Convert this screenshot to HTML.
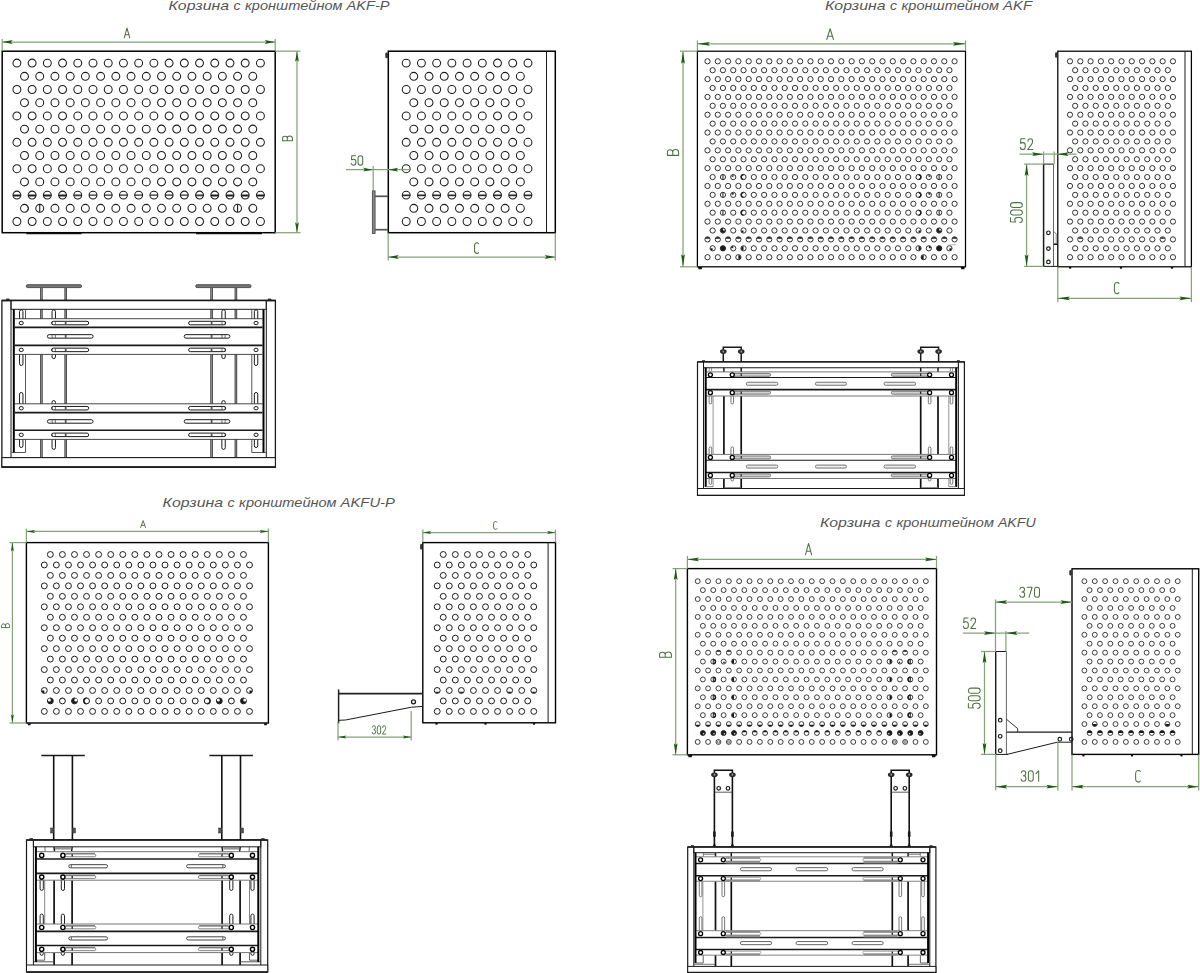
<!DOCTYPE html>
<html><head><meta charset="utf-8"><title>AKF</title>
<style>html,body{margin:0;padding:0;background:#fff}body{width:1200px;height:973px;overflow:hidden;font-family:"Liberation Sans",sans-serif}svg{display:block}</style>
</head><body>
<svg width="1200" height="973" viewBox="0 0 1200 973">
<rect width="1200" height="973" fill="#fff"/>
<text x="168.5" y="10" font-family="Liberation Sans, sans-serif" font-style="italic" font-size="13.3" fill="#555" textLength="60.5" lengthAdjust="spacingAndGlyphs">Корзина</text>
<text x="233.5" y="10" font-family="Liberation Sans, sans-serif" font-style="italic" font-size="13.3" fill="#555" textLength="7" lengthAdjust="spacingAndGlyphs">с</text>
<text x="245" y="10" font-family="Liberation Sans, sans-serif" font-style="italic" font-size="13.3" fill="#555" textLength="97.5" lengthAdjust="spacingAndGlyphs">кронштейном</text>
<text x="346.5" y="10" font-family="Liberation Sans, sans-serif" font-style="italic" font-size="13.3" fill="#555" textLength="43" lengthAdjust="spacingAndGlyphs">AKF-P</text>
<text x="825" y="10" font-family="Liberation Sans, sans-serif" font-style="italic" font-size="13.3" fill="#555" textLength="60.5" lengthAdjust="spacingAndGlyphs">Корзина</text>
<text x="890" y="10" font-family="Liberation Sans, sans-serif" font-style="italic" font-size="13.3" fill="#555" textLength="7" lengthAdjust="spacingAndGlyphs">с</text>
<text x="901.5" y="10" font-family="Liberation Sans, sans-serif" font-style="italic" font-size="13.3" fill="#555" textLength="97.5" lengthAdjust="spacingAndGlyphs">кронштейном</text>
<text x="1003" y="10" font-family="Liberation Sans, sans-serif" font-style="italic" font-size="13.3" fill="#555" textLength="29" lengthAdjust="spacingAndGlyphs">AKF</text>
<text x="162.6" y="506.9" font-family="Liberation Sans, sans-serif" font-style="italic" font-size="13.3" fill="#555" textLength="60.5" lengthAdjust="spacingAndGlyphs">Корзина</text>
<text x="227.6" y="506.9" font-family="Liberation Sans, sans-serif" font-style="italic" font-size="13.3" fill="#555" textLength="7" lengthAdjust="spacingAndGlyphs">с</text>
<text x="239.1" y="506.9" font-family="Liberation Sans, sans-serif" font-style="italic" font-size="13.3" fill="#555" textLength="97.5" lengthAdjust="spacingAndGlyphs">кронштейном</text>
<text x="340.6" y="506.9" font-family="Liberation Sans, sans-serif" font-style="italic" font-size="13.3" fill="#555" textLength="54.3" lengthAdjust="spacingAndGlyphs">AKFU-P</text>
<text x="819.9" y="527.3" font-family="Liberation Sans, sans-serif" font-style="italic" font-size="13.3" fill="#555" textLength="60.5" lengthAdjust="spacingAndGlyphs">Корзина</text>
<text x="884.9" y="527.3" font-family="Liberation Sans, sans-serif" font-style="italic" font-size="13.3" fill="#555" textLength="7" lengthAdjust="spacingAndGlyphs">с</text>
<text x="896.4" y="527.3" font-family="Liberation Sans, sans-serif" font-style="italic" font-size="13.3" fill="#555" textLength="97.5" lengthAdjust="spacingAndGlyphs">кронштейном</text>
<text x="997.9" y="527.3" font-family="Liberation Sans, sans-serif" font-style="italic" font-size="13.3" fill="#555" textLength="37.9" lengthAdjust="spacingAndGlyphs">AKFU</text>
<rect x="2.2" y="51.2" width="273" height="181.5" rx="0" stroke="#000" stroke-width="1.5" fill="none"/>
<path d="M12.95,63.1a3.95,3.95 0 1,0 7.9,0a3.95,3.95 0 1,0 -7.9,0M28.17,63.1a3.95,3.95 0 1,0 7.9,0a3.95,3.95 0 1,0 -7.9,0M43.39,63.1a3.95,3.95 0 1,0 7.9,0a3.95,3.95 0 1,0 -7.9,0M58.61,63.1a3.95,3.95 0 1,0 7.9,0a3.95,3.95 0 1,0 -7.9,0M73.83,63.1a3.95,3.95 0 1,0 7.9,0a3.95,3.95 0 1,0 -7.9,0M89.05,63.1a3.95,3.95 0 1,0 7.9,0a3.95,3.95 0 1,0 -7.9,0M104.27,63.1a3.95,3.95 0 1,0 7.9,0a3.95,3.95 0 1,0 -7.9,0M119.49,63.1a3.95,3.95 0 1,0 7.9,0a3.95,3.95 0 1,0 -7.9,0M134.71,63.1a3.95,3.95 0 1,0 7.9,0a3.95,3.95 0 1,0 -7.9,0M149.93,63.1a3.95,3.95 0 1,0 7.9,0a3.95,3.95 0 1,0 -7.9,0M165.15,63.1a3.95,3.95 0 1,0 7.9,0a3.95,3.95 0 1,0 -7.9,0M180.37,63.1a3.95,3.95 0 1,0 7.9,0a3.95,3.95 0 1,0 -7.9,0M195.59,63.1a3.95,3.95 0 1,0 7.9,0a3.95,3.95 0 1,0 -7.9,0M210.81,63.1a3.95,3.95 0 1,0 7.9,0a3.95,3.95 0 1,0 -7.9,0M226.03,63.1a3.95,3.95 0 1,0 7.9,0a3.95,3.95 0 1,0 -7.9,0M241.25,63.1a3.95,3.95 0 1,0 7.9,0a3.95,3.95 0 1,0 -7.9,0M256.47,63.1a3.95,3.95 0 1,0 7.9,0a3.95,3.95 0 1,0 -7.9,0M20.56,76.3a3.95,3.95 0 1,0 7.9,0a3.95,3.95 0 1,0 -7.9,0M35.78,76.3a3.95,3.95 0 1,0 7.9,0a3.95,3.95 0 1,0 -7.9,0M51,76.3a3.95,3.95 0 1,0 7.9,0a3.95,3.95 0 1,0 -7.9,0M66.22,76.3a3.95,3.95 0 1,0 7.9,0a3.95,3.95 0 1,0 -7.9,0M81.44,76.3a3.95,3.95 0 1,0 7.9,0a3.95,3.95 0 1,0 -7.9,0M96.66,76.3a3.95,3.95 0 1,0 7.9,0a3.95,3.95 0 1,0 -7.9,0M111.88,76.3a3.95,3.95 0 1,0 7.9,0a3.95,3.95 0 1,0 -7.9,0M127.1,76.3a3.95,3.95 0 1,0 7.9,0a3.95,3.95 0 1,0 -7.9,0M142.32,76.3a3.95,3.95 0 1,0 7.9,0a3.95,3.95 0 1,0 -7.9,0M157.54,76.3a3.95,3.95 0 1,0 7.9,0a3.95,3.95 0 1,0 -7.9,0M172.76,76.3a3.95,3.95 0 1,0 7.9,0a3.95,3.95 0 1,0 -7.9,0M187.98,76.3a3.95,3.95 0 1,0 7.9,0a3.95,3.95 0 1,0 -7.9,0M203.2,76.3a3.95,3.95 0 1,0 7.9,0a3.95,3.95 0 1,0 -7.9,0M218.42,76.3a3.95,3.95 0 1,0 7.9,0a3.95,3.95 0 1,0 -7.9,0M233.64,76.3a3.95,3.95 0 1,0 7.9,0a3.95,3.95 0 1,0 -7.9,0M248.86,76.3a3.95,3.95 0 1,0 7.9,0a3.95,3.95 0 1,0 -7.9,0M12.95,89.5a3.95,3.95 0 1,0 7.9,0a3.95,3.95 0 1,0 -7.9,0M28.17,89.5a3.95,3.95 0 1,0 7.9,0a3.95,3.95 0 1,0 -7.9,0M43.39,89.5a3.95,3.95 0 1,0 7.9,0a3.95,3.95 0 1,0 -7.9,0M58.61,89.5a3.95,3.95 0 1,0 7.9,0a3.95,3.95 0 1,0 -7.9,0M73.83,89.5a3.95,3.95 0 1,0 7.9,0a3.95,3.95 0 1,0 -7.9,0M89.05,89.5a3.95,3.95 0 1,0 7.9,0a3.95,3.95 0 1,0 -7.9,0M104.27,89.5a3.95,3.95 0 1,0 7.9,0a3.95,3.95 0 1,0 -7.9,0M119.49,89.5a3.95,3.95 0 1,0 7.9,0a3.95,3.95 0 1,0 -7.9,0M134.71,89.5a3.95,3.95 0 1,0 7.9,0a3.95,3.95 0 1,0 -7.9,0M149.93,89.5a3.95,3.95 0 1,0 7.9,0a3.95,3.95 0 1,0 -7.9,0M165.15,89.5a3.95,3.95 0 1,0 7.9,0a3.95,3.95 0 1,0 -7.9,0M180.37,89.5a3.95,3.95 0 1,0 7.9,0a3.95,3.95 0 1,0 -7.9,0M195.59,89.5a3.95,3.95 0 1,0 7.9,0a3.95,3.95 0 1,0 -7.9,0M210.81,89.5a3.95,3.95 0 1,0 7.9,0a3.95,3.95 0 1,0 -7.9,0M226.03,89.5a3.95,3.95 0 1,0 7.9,0a3.95,3.95 0 1,0 -7.9,0M241.25,89.5a3.95,3.95 0 1,0 7.9,0a3.95,3.95 0 1,0 -7.9,0M256.47,89.5a3.95,3.95 0 1,0 7.9,0a3.95,3.95 0 1,0 -7.9,0M20.56,102.7a3.95,3.95 0 1,0 7.9,0a3.95,3.95 0 1,0 -7.9,0M35.78,102.7a3.95,3.95 0 1,0 7.9,0a3.95,3.95 0 1,0 -7.9,0M51,102.7a3.95,3.95 0 1,0 7.9,0a3.95,3.95 0 1,0 -7.9,0M66.22,102.7a3.95,3.95 0 1,0 7.9,0a3.95,3.95 0 1,0 -7.9,0M81.44,102.7a3.95,3.95 0 1,0 7.9,0a3.95,3.95 0 1,0 -7.9,0M96.66,102.7a3.95,3.95 0 1,0 7.9,0a3.95,3.95 0 1,0 -7.9,0M111.88,102.7a3.95,3.95 0 1,0 7.9,0a3.95,3.95 0 1,0 -7.9,0M127.1,102.7a3.95,3.95 0 1,0 7.9,0a3.95,3.95 0 1,0 -7.9,0M142.32,102.7a3.95,3.95 0 1,0 7.9,0a3.95,3.95 0 1,0 -7.9,0M157.54,102.7a3.95,3.95 0 1,0 7.9,0a3.95,3.95 0 1,0 -7.9,0M172.76,102.7a3.95,3.95 0 1,0 7.9,0a3.95,3.95 0 1,0 -7.9,0M187.98,102.7a3.95,3.95 0 1,0 7.9,0a3.95,3.95 0 1,0 -7.9,0M203.2,102.7a3.95,3.95 0 1,0 7.9,0a3.95,3.95 0 1,0 -7.9,0M218.42,102.7a3.95,3.95 0 1,0 7.9,0a3.95,3.95 0 1,0 -7.9,0M233.64,102.7a3.95,3.95 0 1,0 7.9,0a3.95,3.95 0 1,0 -7.9,0M248.86,102.7a3.95,3.95 0 1,0 7.9,0a3.95,3.95 0 1,0 -7.9,0M12.95,115.9a3.95,3.95 0 1,0 7.9,0a3.95,3.95 0 1,0 -7.9,0M28.17,115.9a3.95,3.95 0 1,0 7.9,0a3.95,3.95 0 1,0 -7.9,0M43.39,115.9a3.95,3.95 0 1,0 7.9,0a3.95,3.95 0 1,0 -7.9,0M58.61,115.9a3.95,3.95 0 1,0 7.9,0a3.95,3.95 0 1,0 -7.9,0M73.83,115.9a3.95,3.95 0 1,0 7.9,0a3.95,3.95 0 1,0 -7.9,0M89.05,115.9a3.95,3.95 0 1,0 7.9,0a3.95,3.95 0 1,0 -7.9,0M104.27,115.9a3.95,3.95 0 1,0 7.9,0a3.95,3.95 0 1,0 -7.9,0M119.49,115.9a3.95,3.95 0 1,0 7.9,0a3.95,3.95 0 1,0 -7.9,0M134.71,115.9a3.95,3.95 0 1,0 7.9,0a3.95,3.95 0 1,0 -7.9,0M149.93,115.9a3.95,3.95 0 1,0 7.9,0a3.95,3.95 0 1,0 -7.9,0M165.15,115.9a3.95,3.95 0 1,0 7.9,0a3.95,3.95 0 1,0 -7.9,0M180.37,115.9a3.95,3.95 0 1,0 7.9,0a3.95,3.95 0 1,0 -7.9,0M195.59,115.9a3.95,3.95 0 1,0 7.9,0a3.95,3.95 0 1,0 -7.9,0M210.81,115.9a3.95,3.95 0 1,0 7.9,0a3.95,3.95 0 1,0 -7.9,0M226.03,115.9a3.95,3.95 0 1,0 7.9,0a3.95,3.95 0 1,0 -7.9,0M241.25,115.9a3.95,3.95 0 1,0 7.9,0a3.95,3.95 0 1,0 -7.9,0M256.47,115.9a3.95,3.95 0 1,0 7.9,0a3.95,3.95 0 1,0 -7.9,0M20.56,129.1a3.95,3.95 0 1,0 7.9,0a3.95,3.95 0 1,0 -7.9,0M35.78,129.1a3.95,3.95 0 1,0 7.9,0a3.95,3.95 0 1,0 -7.9,0M51,129.1a3.95,3.95 0 1,0 7.9,0a3.95,3.95 0 1,0 -7.9,0M66.22,129.1a3.95,3.95 0 1,0 7.9,0a3.95,3.95 0 1,0 -7.9,0M81.44,129.1a3.95,3.95 0 1,0 7.9,0a3.95,3.95 0 1,0 -7.9,0M96.66,129.1a3.95,3.95 0 1,0 7.9,0a3.95,3.95 0 1,0 -7.9,0M111.88,129.1a3.95,3.95 0 1,0 7.9,0a3.95,3.95 0 1,0 -7.9,0M127.1,129.1a3.95,3.95 0 1,0 7.9,0a3.95,3.95 0 1,0 -7.9,0M142.32,129.1a3.95,3.95 0 1,0 7.9,0a3.95,3.95 0 1,0 -7.9,0M157.54,129.1a3.95,3.95 0 1,0 7.9,0a3.95,3.95 0 1,0 -7.9,0M172.76,129.1a3.95,3.95 0 1,0 7.9,0a3.95,3.95 0 1,0 -7.9,0M187.98,129.1a3.95,3.95 0 1,0 7.9,0a3.95,3.95 0 1,0 -7.9,0M203.2,129.1a3.95,3.95 0 1,0 7.9,0a3.95,3.95 0 1,0 -7.9,0M218.42,129.1a3.95,3.95 0 1,0 7.9,0a3.95,3.95 0 1,0 -7.9,0M233.64,129.1a3.95,3.95 0 1,0 7.9,0a3.95,3.95 0 1,0 -7.9,0M248.86,129.1a3.95,3.95 0 1,0 7.9,0a3.95,3.95 0 1,0 -7.9,0M12.95,142.3a3.95,3.95 0 1,0 7.9,0a3.95,3.95 0 1,0 -7.9,0M28.17,142.3a3.95,3.95 0 1,0 7.9,0a3.95,3.95 0 1,0 -7.9,0M43.39,142.3a3.95,3.95 0 1,0 7.9,0a3.95,3.95 0 1,0 -7.9,0M58.61,142.3a3.95,3.95 0 1,0 7.9,0a3.95,3.95 0 1,0 -7.9,0M73.83,142.3a3.95,3.95 0 1,0 7.9,0a3.95,3.95 0 1,0 -7.9,0M89.05,142.3a3.95,3.95 0 1,0 7.9,0a3.95,3.95 0 1,0 -7.9,0M104.27,142.3a3.95,3.95 0 1,0 7.9,0a3.95,3.95 0 1,0 -7.9,0M119.49,142.3a3.95,3.95 0 1,0 7.9,0a3.95,3.95 0 1,0 -7.9,0M134.71,142.3a3.95,3.95 0 1,0 7.9,0a3.95,3.95 0 1,0 -7.9,0M149.93,142.3a3.95,3.95 0 1,0 7.9,0a3.95,3.95 0 1,0 -7.9,0M165.15,142.3a3.95,3.95 0 1,0 7.9,0a3.95,3.95 0 1,0 -7.9,0M180.37,142.3a3.95,3.95 0 1,0 7.9,0a3.95,3.95 0 1,0 -7.9,0M195.59,142.3a3.95,3.95 0 1,0 7.9,0a3.95,3.95 0 1,0 -7.9,0M210.81,142.3a3.95,3.95 0 1,0 7.9,0a3.95,3.95 0 1,0 -7.9,0M226.03,142.3a3.95,3.95 0 1,0 7.9,0a3.95,3.95 0 1,0 -7.9,0M241.25,142.3a3.95,3.95 0 1,0 7.9,0a3.95,3.95 0 1,0 -7.9,0M256.47,142.3a3.95,3.95 0 1,0 7.9,0a3.95,3.95 0 1,0 -7.9,0M20.56,155.5a3.95,3.95 0 1,0 7.9,0a3.95,3.95 0 1,0 -7.9,0M35.78,155.5a3.95,3.95 0 1,0 7.9,0a3.95,3.95 0 1,0 -7.9,0M51,155.5a3.95,3.95 0 1,0 7.9,0a3.95,3.95 0 1,0 -7.9,0M66.22,155.5a3.95,3.95 0 1,0 7.9,0a3.95,3.95 0 1,0 -7.9,0M81.44,155.5a3.95,3.95 0 1,0 7.9,0a3.95,3.95 0 1,0 -7.9,0M96.66,155.5a3.95,3.95 0 1,0 7.9,0a3.95,3.95 0 1,0 -7.9,0M111.88,155.5a3.95,3.95 0 1,0 7.9,0a3.95,3.95 0 1,0 -7.9,0M127.1,155.5a3.95,3.95 0 1,0 7.9,0a3.95,3.95 0 1,0 -7.9,0M142.32,155.5a3.95,3.95 0 1,0 7.9,0a3.95,3.95 0 1,0 -7.9,0M157.54,155.5a3.95,3.95 0 1,0 7.9,0a3.95,3.95 0 1,0 -7.9,0M172.76,155.5a3.95,3.95 0 1,0 7.9,0a3.95,3.95 0 1,0 -7.9,0M187.98,155.5a3.95,3.95 0 1,0 7.9,0a3.95,3.95 0 1,0 -7.9,0M203.2,155.5a3.95,3.95 0 1,0 7.9,0a3.95,3.95 0 1,0 -7.9,0M218.42,155.5a3.95,3.95 0 1,0 7.9,0a3.95,3.95 0 1,0 -7.9,0M233.64,155.5a3.95,3.95 0 1,0 7.9,0a3.95,3.95 0 1,0 -7.9,0M248.86,155.5a3.95,3.95 0 1,0 7.9,0a3.95,3.95 0 1,0 -7.9,0M12.95,168.7a3.95,3.95 0 1,0 7.9,0a3.95,3.95 0 1,0 -7.9,0M28.17,168.7a3.95,3.95 0 1,0 7.9,0a3.95,3.95 0 1,0 -7.9,0M43.39,168.7a3.95,3.95 0 1,0 7.9,0a3.95,3.95 0 1,0 -7.9,0M58.61,168.7a3.95,3.95 0 1,0 7.9,0a3.95,3.95 0 1,0 -7.9,0M73.83,168.7a3.95,3.95 0 1,0 7.9,0a3.95,3.95 0 1,0 -7.9,0M89.05,168.7a3.95,3.95 0 1,0 7.9,0a3.95,3.95 0 1,0 -7.9,0M104.27,168.7a3.95,3.95 0 1,0 7.9,0a3.95,3.95 0 1,0 -7.9,0M119.49,168.7a3.95,3.95 0 1,0 7.9,0a3.95,3.95 0 1,0 -7.9,0M134.71,168.7a3.95,3.95 0 1,0 7.9,0a3.95,3.95 0 1,0 -7.9,0M149.93,168.7a3.95,3.95 0 1,0 7.9,0a3.95,3.95 0 1,0 -7.9,0M165.15,168.7a3.95,3.95 0 1,0 7.9,0a3.95,3.95 0 1,0 -7.9,0M180.37,168.7a3.95,3.95 0 1,0 7.9,0a3.95,3.95 0 1,0 -7.9,0M195.59,168.7a3.95,3.95 0 1,0 7.9,0a3.95,3.95 0 1,0 -7.9,0M210.81,168.7a3.95,3.95 0 1,0 7.9,0a3.95,3.95 0 1,0 -7.9,0M226.03,168.7a3.95,3.95 0 1,0 7.9,0a3.95,3.95 0 1,0 -7.9,0M241.25,168.7a3.95,3.95 0 1,0 7.9,0a3.95,3.95 0 1,0 -7.9,0M256.47,168.7a3.95,3.95 0 1,0 7.9,0a3.95,3.95 0 1,0 -7.9,0M20.56,181.9a3.95,3.95 0 1,0 7.9,0a3.95,3.95 0 1,0 -7.9,0M35.78,181.9a3.95,3.95 0 1,0 7.9,0a3.95,3.95 0 1,0 -7.9,0M51,181.9a3.95,3.95 0 1,0 7.9,0a3.95,3.95 0 1,0 -7.9,0M66.22,181.9a3.95,3.95 0 1,0 7.9,0a3.95,3.95 0 1,0 -7.9,0M81.44,181.9a3.95,3.95 0 1,0 7.9,0a3.95,3.95 0 1,0 -7.9,0M96.66,181.9a3.95,3.95 0 1,0 7.9,0a3.95,3.95 0 1,0 -7.9,0M111.88,181.9a3.95,3.95 0 1,0 7.9,0a3.95,3.95 0 1,0 -7.9,0M127.1,181.9a3.95,3.95 0 1,0 7.9,0a3.95,3.95 0 1,0 -7.9,0M142.32,181.9a3.95,3.95 0 1,0 7.9,0a3.95,3.95 0 1,0 -7.9,0M157.54,181.9a3.95,3.95 0 1,0 7.9,0a3.95,3.95 0 1,0 -7.9,0M172.76,181.9a3.95,3.95 0 1,0 7.9,0a3.95,3.95 0 1,0 -7.9,0M187.98,181.9a3.95,3.95 0 1,0 7.9,0a3.95,3.95 0 1,0 -7.9,0M203.2,181.9a3.95,3.95 0 1,0 7.9,0a3.95,3.95 0 1,0 -7.9,0M218.42,181.9a3.95,3.95 0 1,0 7.9,0a3.95,3.95 0 1,0 -7.9,0M233.64,181.9a3.95,3.95 0 1,0 7.9,0a3.95,3.95 0 1,0 -7.9,0M248.86,181.9a3.95,3.95 0 1,0 7.9,0a3.95,3.95 0 1,0 -7.9,0M12.95,195.1a3.95,3.95 0 1,0 7.9,0a3.95,3.95 0 1,0 -7.9,0M28.17,195.1a3.95,3.95 0 1,0 7.9,0a3.95,3.95 0 1,0 -7.9,0M43.39,195.1a3.95,3.95 0 1,0 7.9,0a3.95,3.95 0 1,0 -7.9,0M58.61,195.1a3.95,3.95 0 1,0 7.9,0a3.95,3.95 0 1,0 -7.9,0M73.83,195.1a3.95,3.95 0 1,0 7.9,0a3.95,3.95 0 1,0 -7.9,0M89.05,195.1a3.95,3.95 0 1,0 7.9,0a3.95,3.95 0 1,0 -7.9,0M104.27,195.1a3.95,3.95 0 1,0 7.9,0a3.95,3.95 0 1,0 -7.9,0M119.49,195.1a3.95,3.95 0 1,0 7.9,0a3.95,3.95 0 1,0 -7.9,0M134.71,195.1a3.95,3.95 0 1,0 7.9,0a3.95,3.95 0 1,0 -7.9,0M149.93,195.1a3.95,3.95 0 1,0 7.9,0a3.95,3.95 0 1,0 -7.9,0M165.15,195.1a3.95,3.95 0 1,0 7.9,0a3.95,3.95 0 1,0 -7.9,0M180.37,195.1a3.95,3.95 0 1,0 7.9,0a3.95,3.95 0 1,0 -7.9,0M195.59,195.1a3.95,3.95 0 1,0 7.9,0a3.95,3.95 0 1,0 -7.9,0M210.81,195.1a3.95,3.95 0 1,0 7.9,0a3.95,3.95 0 1,0 -7.9,0M226.03,195.1a3.95,3.95 0 1,0 7.9,0a3.95,3.95 0 1,0 -7.9,0M241.25,195.1a3.95,3.95 0 1,0 7.9,0a3.95,3.95 0 1,0 -7.9,0M256.47,195.1a3.95,3.95 0 1,0 7.9,0a3.95,3.95 0 1,0 -7.9,0M20.56,208.3a3.95,3.95 0 1,0 7.9,0a3.95,3.95 0 1,0 -7.9,0M35.78,208.3a3.95,3.95 0 1,0 7.9,0a3.95,3.95 0 1,0 -7.9,0M51,208.3a3.95,3.95 0 1,0 7.9,0a3.95,3.95 0 1,0 -7.9,0M66.22,208.3a3.95,3.95 0 1,0 7.9,0a3.95,3.95 0 1,0 -7.9,0M81.44,208.3a3.95,3.95 0 1,0 7.9,0a3.95,3.95 0 1,0 -7.9,0M96.66,208.3a3.95,3.95 0 1,0 7.9,0a3.95,3.95 0 1,0 -7.9,0M111.88,208.3a3.95,3.95 0 1,0 7.9,0a3.95,3.95 0 1,0 -7.9,0M127.1,208.3a3.95,3.95 0 1,0 7.9,0a3.95,3.95 0 1,0 -7.9,0M142.32,208.3a3.95,3.95 0 1,0 7.9,0a3.95,3.95 0 1,0 -7.9,0M157.54,208.3a3.95,3.95 0 1,0 7.9,0a3.95,3.95 0 1,0 -7.9,0M172.76,208.3a3.95,3.95 0 1,0 7.9,0a3.95,3.95 0 1,0 -7.9,0M187.98,208.3a3.95,3.95 0 1,0 7.9,0a3.95,3.95 0 1,0 -7.9,0M203.2,208.3a3.95,3.95 0 1,0 7.9,0a3.95,3.95 0 1,0 -7.9,0M218.42,208.3a3.95,3.95 0 1,0 7.9,0a3.95,3.95 0 1,0 -7.9,0M233.64,208.3a3.95,3.95 0 1,0 7.9,0a3.95,3.95 0 1,0 -7.9,0M248.86,208.3a3.95,3.95 0 1,0 7.9,0a3.95,3.95 0 1,0 -7.9,0M12.95,221.5a3.95,3.95 0 1,0 7.9,0a3.95,3.95 0 1,0 -7.9,0M28.17,221.5a3.95,3.95 0 1,0 7.9,0a3.95,3.95 0 1,0 -7.9,0M43.39,221.5a3.95,3.95 0 1,0 7.9,0a3.95,3.95 0 1,0 -7.9,0M58.61,221.5a3.95,3.95 0 1,0 7.9,0a3.95,3.95 0 1,0 -7.9,0M73.83,221.5a3.95,3.95 0 1,0 7.9,0a3.95,3.95 0 1,0 -7.9,0M89.05,221.5a3.95,3.95 0 1,0 7.9,0a3.95,3.95 0 1,0 -7.9,0M104.27,221.5a3.95,3.95 0 1,0 7.9,0a3.95,3.95 0 1,0 -7.9,0M119.49,221.5a3.95,3.95 0 1,0 7.9,0a3.95,3.95 0 1,0 -7.9,0M134.71,221.5a3.95,3.95 0 1,0 7.9,0a3.95,3.95 0 1,0 -7.9,0M149.93,221.5a3.95,3.95 0 1,0 7.9,0a3.95,3.95 0 1,0 -7.9,0M165.15,221.5a3.95,3.95 0 1,0 7.9,0a3.95,3.95 0 1,0 -7.9,0M180.37,221.5a3.95,3.95 0 1,0 7.9,0a3.95,3.95 0 1,0 -7.9,0M195.59,221.5a3.95,3.95 0 1,0 7.9,0a3.95,3.95 0 1,0 -7.9,0M210.81,221.5a3.95,3.95 0 1,0 7.9,0a3.95,3.95 0 1,0 -7.9,0M226.03,221.5a3.95,3.95 0 1,0 7.9,0a3.95,3.95 0 1,0 -7.9,0M241.25,221.5a3.95,3.95 0 1,0 7.9,0a3.95,3.95 0 1,0 -7.9,0M256.47,221.5a3.95,3.95 0 1,0 7.9,0a3.95,3.95 0 1,0 -7.9,0" stroke="#1c1c1c" stroke-width="1.05" fill="none"/>
<line x1="26.3" y1="233.7" x2="81.5" y2="233.7" stroke="#111" stroke-width="1.3" />
<line x1="196" y1="233.7" x2="262" y2="233.7" stroke="#111" stroke-width="1.3" />
<line x1="12.95" y1="195.1" x2="20.85" y2="195.1" stroke="#111" stroke-width="1.1" />
<line x1="28.17" y1="195.1" x2="36.07" y2="195.1" stroke="#111" stroke-width="1.1" />
<line x1="43.39" y1="195.1" x2="51.29" y2="195.1" stroke="#111" stroke-width="1.1" />
<line x1="58.61" y1="195.1" x2="66.51" y2="195.1" stroke="#111" stroke-width="1.1" />
<line x1="73.83" y1="195.1" x2="81.73" y2="195.1" stroke="#111" stroke-width="1.1" />
<line x1="89.05" y1="195.1" x2="96.95" y2="195.1" stroke="#111" stroke-width="1.1" />
<line x1="104.27" y1="195.1" x2="112.17" y2="195.1" stroke="#111" stroke-width="1.1" />
<line x1="119.49" y1="195.1" x2="127.39" y2="195.1" stroke="#111" stroke-width="1.1" />
<line x1="134.71" y1="195.1" x2="142.61" y2="195.1" stroke="#111" stroke-width="1.1" />
<line x1="149.93" y1="195.1" x2="157.83" y2="195.1" stroke="#111" stroke-width="1.1" />
<line x1="165.15" y1="195.1" x2="173.05" y2="195.1" stroke="#111" stroke-width="1.1" />
<line x1="180.37" y1="195.1" x2="188.27" y2="195.1" stroke="#111" stroke-width="1.1" />
<line x1="195.59" y1="195.1" x2="203.49" y2="195.1" stroke="#111" stroke-width="1.1" />
<line x1="210.81" y1="195.1" x2="218.71" y2="195.1" stroke="#111" stroke-width="1.1" />
<line x1="226.03" y1="195.1" x2="233.93" y2="195.1" stroke="#111" stroke-width="1.1" />
<line x1="241.25" y1="195.1" x2="249.15" y2="195.1" stroke="#111" stroke-width="1.1" />
<line x1="256.47" y1="195.1" x2="264.37" y2="195.1" stroke="#111" stroke-width="1.1" />
<path d="M13.3,195.1L20.5,195.1A3.9,3.9 0 0,1 20.25,196.4L13.55,196.4A3.9,3.9 0 0,1 13.3,195.1Z" fill="#1c1c1c" opacity="1.0"/>
<path d="M28.52,195.1L35.72,195.1A3.9,3.9 0 0,1 35.47,196.4L28.77,196.4A3.9,3.9 0 0,1 28.52,195.1Z" fill="#1c1c1c" opacity="1.0"/>
<path d="M43.74,195.1L50.94,195.1A3.9,3.9 0 0,1 50.69,196.4L43.99,196.4A3.9,3.9 0 0,1 43.74,195.1Z" fill="#1c1c1c" opacity="1.0"/>
<path d="M58.96,195.1L66.16,195.1A3.9,3.9 0 0,1 65.91,196.4L59.21,196.4A3.9,3.9 0 0,1 58.96,195.1Z" fill="#1c1c1c" opacity="1.0"/>
<path d="M74.18,195.1L81.38,195.1A3.9,3.9 0 0,1 81.13,196.4L74.43,196.4A3.9,3.9 0 0,1 74.18,195.1Z" fill="#1c1c1c" opacity="0.5"/>
<path d="M195.94,195.1L203.14,195.1A3.9,3.9 0 0,1 202.89,196.4L196.19,196.4A3.9,3.9 0 0,1 195.94,195.1Z" fill="#1c1c1c" opacity="0.5"/>
<path d="M211.16,195.1L218.36,195.1A3.9,3.9 0 0,1 218.11,196.4L211.41,196.4A3.9,3.9 0 0,1 211.16,195.1Z" fill="#1c1c1c" opacity="1.0"/>
<path d="M226.38,195.1L233.58,195.1A3.9,3.9 0 0,1 233.33,196.4L226.63,196.4A3.9,3.9 0 0,1 226.38,195.1Z" fill="#1c1c1c" opacity="1.0"/>
<path d="M241.6,195.1L248.8,195.1A3.9,3.9 0 0,1 248.55,196.4L241.85,196.4A3.9,3.9 0 0,1 241.6,195.1Z" fill="#1c1c1c" opacity="1.0"/>
<path d="M256.82,195.1L264.02,195.1A3.9,3.9 0 0,1 263.77,196.4L257.07,196.4A3.9,3.9 0 0,1 256.82,195.1Z" fill="#1c1c1c" opacity="1.0"/>
<line x1="39.73" y1="204.5" x2="39.73" y2="212.1" stroke="#1c1c1c" stroke-width="1.1" />
<line x1="237.59" y1="204.5" x2="237.59" y2="212.1" stroke="#1c1c1c" stroke-width="1.1" />
<path d="M25.71,204.9a3.6,3.6 0 0,1 0,6.8" fill="none" stroke="#333" stroke-width="0.8"/>
<path d="M251.61,204.9a3.6,3.6 0 0,0 0,6.8" fill="none" stroke="#333" stroke-width="0.8"/>
<line x1="2.2" y1="39" x2="2.2" y2="51" stroke="#85a47a" stroke-width="1.25" />
<line x1="275.2" y1="39" x2="275.2" y2="51" stroke="#85a47a" stroke-width="1.25" />
<line x1="2.2" y1="42" x2="275.2" y2="42" stroke="#85a47a" stroke-width="1.25" />
<path transform="translate(2.2,42) rotate(180)" d="M0,0L-10.5,-1.9L-8.7,0L-10.5,1.9Z" fill="#1e5a12" stroke="none"/>
<path transform="translate(275.2,42) rotate(0)" d="M0,0L-10.5,-1.9L-8.7,0L-10.5,1.9Z" fill="#1e5a12" stroke="none"/>
<g transform="translate(124.28,28.02) rotate(0)" fill="none" stroke="#4d7340" stroke-width="1.05" stroke-linejoin="round" stroke-linecap="round"><path vector-effect="non-scaling-stroke" transform="translate(0,0) scale(1.09,0.97)" d="M0,10L2.5,0L5,10M0.85,6.9L4.15,6.9"/></g>
<line x1="275.2" y1="51.2" x2="300.5" y2="51.2" stroke="#85a47a" stroke-width="1.25" />
<line x1="275.2" y1="232.7" x2="300.5" y2="232.7" stroke="#85a47a" stroke-width="1.25" />
<line x1="297" y1="51.2" x2="297" y2="232.7" stroke="#85a47a" stroke-width="1.25" />
<path transform="translate(297,51.2) rotate(-90)" d="M0,0L-10.5,-1.9L-8.7,0L-10.5,1.9Z" fill="#1e5a12" stroke="none"/>
<path transform="translate(297,232.7) rotate(90)" d="M0,0L-10.5,-1.9L-8.7,0L-10.5,1.9Z" fill="#1e5a12" stroke="none"/>
<g transform="translate(282.62,140.67) rotate(-90)" fill="none" stroke="#4d7340" stroke-width="1.05" stroke-linejoin="round" stroke-linecap="round"><path vector-effect="non-scaling-stroke" transform="translate(0,0) scale(0.95,0.98)" d="M0,0L0,10L2.7,10Q5,10 5,7.3Q5,4.8 2.7,4.8L0,4.8M2.7,4.8Q4.7,4.8 4.7,2.4Q4.7,0 2.5,0L0,0"/></g>
<rect x="388.3" y="51.2" width="167" height="181.5" rx="0" stroke="#000" stroke-width="1.5" fill="none"/>
<line x1="546.5" y1="51.2" x2="546.5" y2="232.7" stroke="#1a1a1a" stroke-width="1.0" />
<path d="M402.25,63.1a3.95,3.95 0 1,0 7.9,0a3.95,3.95 0 1,0 -7.9,0M417.47,63.1a3.95,3.95 0 1,0 7.9,0a3.95,3.95 0 1,0 -7.9,0M432.69,63.1a3.95,3.95 0 1,0 7.9,0a3.95,3.95 0 1,0 -7.9,0M447.91,63.1a3.95,3.95 0 1,0 7.9,0a3.95,3.95 0 1,0 -7.9,0M463.13,63.1a3.95,3.95 0 1,0 7.9,0a3.95,3.95 0 1,0 -7.9,0M478.35,63.1a3.95,3.95 0 1,0 7.9,0a3.95,3.95 0 1,0 -7.9,0M493.57,63.1a3.95,3.95 0 1,0 7.9,0a3.95,3.95 0 1,0 -7.9,0M508.79,63.1a3.95,3.95 0 1,0 7.9,0a3.95,3.95 0 1,0 -7.9,0M524.01,63.1a3.95,3.95 0 1,0 7.9,0a3.95,3.95 0 1,0 -7.9,0M409.86,76.3a3.95,3.95 0 1,0 7.9,0a3.95,3.95 0 1,0 -7.9,0M425.08,76.3a3.95,3.95 0 1,0 7.9,0a3.95,3.95 0 1,0 -7.9,0M440.3,76.3a3.95,3.95 0 1,0 7.9,0a3.95,3.95 0 1,0 -7.9,0M455.52,76.3a3.95,3.95 0 1,0 7.9,0a3.95,3.95 0 1,0 -7.9,0M470.74,76.3a3.95,3.95 0 1,0 7.9,0a3.95,3.95 0 1,0 -7.9,0M485.96,76.3a3.95,3.95 0 1,0 7.9,0a3.95,3.95 0 1,0 -7.9,0M501.18,76.3a3.95,3.95 0 1,0 7.9,0a3.95,3.95 0 1,0 -7.9,0M516.4,76.3a3.95,3.95 0 1,0 7.9,0a3.95,3.95 0 1,0 -7.9,0M402.25,89.5a3.95,3.95 0 1,0 7.9,0a3.95,3.95 0 1,0 -7.9,0M417.47,89.5a3.95,3.95 0 1,0 7.9,0a3.95,3.95 0 1,0 -7.9,0M432.69,89.5a3.95,3.95 0 1,0 7.9,0a3.95,3.95 0 1,0 -7.9,0M447.91,89.5a3.95,3.95 0 1,0 7.9,0a3.95,3.95 0 1,0 -7.9,0M463.13,89.5a3.95,3.95 0 1,0 7.9,0a3.95,3.95 0 1,0 -7.9,0M478.35,89.5a3.95,3.95 0 1,0 7.9,0a3.95,3.95 0 1,0 -7.9,0M493.57,89.5a3.95,3.95 0 1,0 7.9,0a3.95,3.95 0 1,0 -7.9,0M508.79,89.5a3.95,3.95 0 1,0 7.9,0a3.95,3.95 0 1,0 -7.9,0M524.01,89.5a3.95,3.95 0 1,0 7.9,0a3.95,3.95 0 1,0 -7.9,0M409.86,102.7a3.95,3.95 0 1,0 7.9,0a3.95,3.95 0 1,0 -7.9,0M425.08,102.7a3.95,3.95 0 1,0 7.9,0a3.95,3.95 0 1,0 -7.9,0M440.3,102.7a3.95,3.95 0 1,0 7.9,0a3.95,3.95 0 1,0 -7.9,0M455.52,102.7a3.95,3.95 0 1,0 7.9,0a3.95,3.95 0 1,0 -7.9,0M470.74,102.7a3.95,3.95 0 1,0 7.9,0a3.95,3.95 0 1,0 -7.9,0M485.96,102.7a3.95,3.95 0 1,0 7.9,0a3.95,3.95 0 1,0 -7.9,0M501.18,102.7a3.95,3.95 0 1,0 7.9,0a3.95,3.95 0 1,0 -7.9,0M516.4,102.7a3.95,3.95 0 1,0 7.9,0a3.95,3.95 0 1,0 -7.9,0M402.25,115.9a3.95,3.95 0 1,0 7.9,0a3.95,3.95 0 1,0 -7.9,0M417.47,115.9a3.95,3.95 0 1,0 7.9,0a3.95,3.95 0 1,0 -7.9,0M432.69,115.9a3.95,3.95 0 1,0 7.9,0a3.95,3.95 0 1,0 -7.9,0M447.91,115.9a3.95,3.95 0 1,0 7.9,0a3.95,3.95 0 1,0 -7.9,0M463.13,115.9a3.95,3.95 0 1,0 7.9,0a3.95,3.95 0 1,0 -7.9,0M478.35,115.9a3.95,3.95 0 1,0 7.9,0a3.95,3.95 0 1,0 -7.9,0M493.57,115.9a3.95,3.95 0 1,0 7.9,0a3.95,3.95 0 1,0 -7.9,0M508.79,115.9a3.95,3.95 0 1,0 7.9,0a3.95,3.95 0 1,0 -7.9,0M524.01,115.9a3.95,3.95 0 1,0 7.9,0a3.95,3.95 0 1,0 -7.9,0M409.86,129.1a3.95,3.95 0 1,0 7.9,0a3.95,3.95 0 1,0 -7.9,0M425.08,129.1a3.95,3.95 0 1,0 7.9,0a3.95,3.95 0 1,0 -7.9,0M440.3,129.1a3.95,3.95 0 1,0 7.9,0a3.95,3.95 0 1,0 -7.9,0M455.52,129.1a3.95,3.95 0 1,0 7.9,0a3.95,3.95 0 1,0 -7.9,0M470.74,129.1a3.95,3.95 0 1,0 7.9,0a3.95,3.95 0 1,0 -7.9,0M485.96,129.1a3.95,3.95 0 1,0 7.9,0a3.95,3.95 0 1,0 -7.9,0M501.18,129.1a3.95,3.95 0 1,0 7.9,0a3.95,3.95 0 1,0 -7.9,0M516.4,129.1a3.95,3.95 0 1,0 7.9,0a3.95,3.95 0 1,0 -7.9,0M402.25,142.3a3.95,3.95 0 1,0 7.9,0a3.95,3.95 0 1,0 -7.9,0M417.47,142.3a3.95,3.95 0 1,0 7.9,0a3.95,3.95 0 1,0 -7.9,0M432.69,142.3a3.95,3.95 0 1,0 7.9,0a3.95,3.95 0 1,0 -7.9,0M447.91,142.3a3.95,3.95 0 1,0 7.9,0a3.95,3.95 0 1,0 -7.9,0M463.13,142.3a3.95,3.95 0 1,0 7.9,0a3.95,3.95 0 1,0 -7.9,0M478.35,142.3a3.95,3.95 0 1,0 7.9,0a3.95,3.95 0 1,0 -7.9,0M493.57,142.3a3.95,3.95 0 1,0 7.9,0a3.95,3.95 0 1,0 -7.9,0M508.79,142.3a3.95,3.95 0 1,0 7.9,0a3.95,3.95 0 1,0 -7.9,0M524.01,142.3a3.95,3.95 0 1,0 7.9,0a3.95,3.95 0 1,0 -7.9,0M409.86,155.5a3.95,3.95 0 1,0 7.9,0a3.95,3.95 0 1,0 -7.9,0M425.08,155.5a3.95,3.95 0 1,0 7.9,0a3.95,3.95 0 1,0 -7.9,0M440.3,155.5a3.95,3.95 0 1,0 7.9,0a3.95,3.95 0 1,0 -7.9,0M455.52,155.5a3.95,3.95 0 1,0 7.9,0a3.95,3.95 0 1,0 -7.9,0M470.74,155.5a3.95,3.95 0 1,0 7.9,0a3.95,3.95 0 1,0 -7.9,0M485.96,155.5a3.95,3.95 0 1,0 7.9,0a3.95,3.95 0 1,0 -7.9,0M501.18,155.5a3.95,3.95 0 1,0 7.9,0a3.95,3.95 0 1,0 -7.9,0M516.4,155.5a3.95,3.95 0 1,0 7.9,0a3.95,3.95 0 1,0 -7.9,0M402.25,168.7a3.95,3.95 0 1,0 7.9,0a3.95,3.95 0 1,0 -7.9,0M417.47,168.7a3.95,3.95 0 1,0 7.9,0a3.95,3.95 0 1,0 -7.9,0M432.69,168.7a3.95,3.95 0 1,0 7.9,0a3.95,3.95 0 1,0 -7.9,0M447.91,168.7a3.95,3.95 0 1,0 7.9,0a3.95,3.95 0 1,0 -7.9,0M463.13,168.7a3.95,3.95 0 1,0 7.9,0a3.95,3.95 0 1,0 -7.9,0M478.35,168.7a3.95,3.95 0 1,0 7.9,0a3.95,3.95 0 1,0 -7.9,0M493.57,168.7a3.95,3.95 0 1,0 7.9,0a3.95,3.95 0 1,0 -7.9,0M508.79,168.7a3.95,3.95 0 1,0 7.9,0a3.95,3.95 0 1,0 -7.9,0M524.01,168.7a3.95,3.95 0 1,0 7.9,0a3.95,3.95 0 1,0 -7.9,0M409.86,181.9a3.95,3.95 0 1,0 7.9,0a3.95,3.95 0 1,0 -7.9,0M425.08,181.9a3.95,3.95 0 1,0 7.9,0a3.95,3.95 0 1,0 -7.9,0M440.3,181.9a3.95,3.95 0 1,0 7.9,0a3.95,3.95 0 1,0 -7.9,0M455.52,181.9a3.95,3.95 0 1,0 7.9,0a3.95,3.95 0 1,0 -7.9,0M470.74,181.9a3.95,3.95 0 1,0 7.9,0a3.95,3.95 0 1,0 -7.9,0M485.96,181.9a3.95,3.95 0 1,0 7.9,0a3.95,3.95 0 1,0 -7.9,0M501.18,181.9a3.95,3.95 0 1,0 7.9,0a3.95,3.95 0 1,0 -7.9,0M516.4,181.9a3.95,3.95 0 1,0 7.9,0a3.95,3.95 0 1,0 -7.9,0M402.25,195.1a3.95,3.95 0 1,0 7.9,0a3.95,3.95 0 1,0 -7.9,0M417.47,195.1a3.95,3.95 0 1,0 7.9,0a3.95,3.95 0 1,0 -7.9,0M432.69,195.1a3.95,3.95 0 1,0 7.9,0a3.95,3.95 0 1,0 -7.9,0M447.91,195.1a3.95,3.95 0 1,0 7.9,0a3.95,3.95 0 1,0 -7.9,0M463.13,195.1a3.95,3.95 0 1,0 7.9,0a3.95,3.95 0 1,0 -7.9,0M478.35,195.1a3.95,3.95 0 1,0 7.9,0a3.95,3.95 0 1,0 -7.9,0M493.57,195.1a3.95,3.95 0 1,0 7.9,0a3.95,3.95 0 1,0 -7.9,0M508.79,195.1a3.95,3.95 0 1,0 7.9,0a3.95,3.95 0 1,0 -7.9,0M524.01,195.1a3.95,3.95 0 1,0 7.9,0a3.95,3.95 0 1,0 -7.9,0M409.86,208.3a3.95,3.95 0 1,0 7.9,0a3.95,3.95 0 1,0 -7.9,0M425.08,208.3a3.95,3.95 0 1,0 7.9,0a3.95,3.95 0 1,0 -7.9,0M440.3,208.3a3.95,3.95 0 1,0 7.9,0a3.95,3.95 0 1,0 -7.9,0M455.52,208.3a3.95,3.95 0 1,0 7.9,0a3.95,3.95 0 1,0 -7.9,0M470.74,208.3a3.95,3.95 0 1,0 7.9,0a3.95,3.95 0 1,0 -7.9,0M485.96,208.3a3.95,3.95 0 1,0 7.9,0a3.95,3.95 0 1,0 -7.9,0M501.18,208.3a3.95,3.95 0 1,0 7.9,0a3.95,3.95 0 1,0 -7.9,0M516.4,208.3a3.95,3.95 0 1,0 7.9,0a3.95,3.95 0 1,0 -7.9,0M402.25,221.5a3.95,3.95 0 1,0 7.9,0a3.95,3.95 0 1,0 -7.9,0M417.47,221.5a3.95,3.95 0 1,0 7.9,0a3.95,3.95 0 1,0 -7.9,0M432.69,221.5a3.95,3.95 0 1,0 7.9,0a3.95,3.95 0 1,0 -7.9,0M447.91,221.5a3.95,3.95 0 1,0 7.9,0a3.95,3.95 0 1,0 -7.9,0M463.13,221.5a3.95,3.95 0 1,0 7.9,0a3.95,3.95 0 1,0 -7.9,0M478.35,221.5a3.95,3.95 0 1,0 7.9,0a3.95,3.95 0 1,0 -7.9,0M493.57,221.5a3.95,3.95 0 1,0 7.9,0a3.95,3.95 0 1,0 -7.9,0M508.79,221.5a3.95,3.95 0 1,0 7.9,0a3.95,3.95 0 1,0 -7.9,0M524.01,221.5a3.95,3.95 0 1,0 7.9,0a3.95,3.95 0 1,0 -7.9,0" stroke="#1c1c1c" stroke-width="1.05" fill="none"/>
<line x1="402.25" y1="195.1" x2="410.15" y2="195.1" stroke="#111" stroke-width="1.1" />
<line x1="417.47" y1="195.1" x2="425.37" y2="195.1" stroke="#111" stroke-width="1.1" />
<line x1="432.69" y1="195.1" x2="440.59" y2="195.1" stroke="#111" stroke-width="1.1" />
<line x1="447.91" y1="195.1" x2="455.81" y2="195.1" stroke="#111" stroke-width="1.1" />
<line x1="463.13" y1="195.1" x2="471.03" y2="195.1" stroke="#111" stroke-width="1.1" />
<line x1="478.35" y1="195.1" x2="486.25" y2="195.1" stroke="#111" stroke-width="1.1" />
<line x1="493.57" y1="195.1" x2="501.47" y2="195.1" stroke="#111" stroke-width="1.1" />
<line x1="508.79" y1="195.1" x2="516.69" y2="195.1" stroke="#111" stroke-width="1.1" />
<line x1="524.01" y1="195.1" x2="531.91" y2="195.1" stroke="#111" stroke-width="1.1" />
<path d="M402.6,195.1L409.8,195.1A3.9,3.9 0 0,1 409.55,196.3L402.85,196.3A3.9,3.9 0 0,1 402.6,195.1Z" fill="#1c1c1c" opacity="0.8"/>
<path d="M417.82,195.1L425.02,195.1A3.9,3.9 0 0,1 424.77,196.3L418.07,196.3A3.9,3.9 0 0,1 417.82,195.1Z" fill="#1c1c1c" opacity="0.8"/>
<path d="M433.04,195.1L440.24,195.1A3.9,3.9 0 0,1 439.99,196.3L433.29,196.3A3.9,3.9 0 0,1 433.04,195.1Z" fill="#1c1c1c" opacity="0.8"/>
<path d="M448.26,195.1L455.46,195.1A3.9,3.9 0 0,1 455.21,196.3L448.51,196.3A3.9,3.9 0 0,1 448.26,195.1Z" fill="#1c1c1c" opacity="0.8"/>
<path d="M463.48,195.1L470.68,195.1A3.9,3.9 0 0,1 470.43,196.3L463.73,196.3A3.9,3.9 0 0,1 463.48,195.1Z" fill="#1c1c1c" opacity="0.8"/>
<path d="M478.7,195.1L485.9,195.1A3.9,3.9 0 0,1 485.65,196.3L478.95,196.3A3.9,3.9 0 0,1 478.7,195.1Z" fill="#1c1c1c" opacity="0.8"/>
<path d="M493.92,195.1L501.12,195.1A3.9,3.9 0 0,1 500.87,196.3L494.17,196.3A3.9,3.9 0 0,1 493.92,195.1Z" fill="#1c1c1c" opacity="0.8"/>
<path d="M509.14,195.1L516.34,195.1A3.9,3.9 0 0,1 516.09,196.3L509.39,196.3A3.9,3.9 0 0,1 509.14,195.1Z" fill="#1c1c1c" opacity="0.8"/>
<path d="M524.36,195.1L531.56,195.1A3.9,3.9 0 0,1 531.31,196.3L524.61,196.3A3.9,3.9 0 0,1 524.36,195.1Z" fill="#1c1c1c" opacity="0.8"/>
<line x1="386.6" y1="53.8" x2="386.6" y2="57" stroke="#333" stroke-width="2.6" stroke-linecap="round"/>
<rect x="372.3" y="190.8" width="2.8" height="42.8" rx="0" stroke="#333" stroke-width="0.7" fill="#888"/>
<line x1="375" y1="196.3" x2="388" y2="196.3" stroke="#555" stroke-width="1.7" />
<line x1="375" y1="229.7" x2="388" y2="229.7" stroke="#555" stroke-width="1.7" />
<line x1="346" y1="169.7" x2="409" y2="169.7" stroke="#85a47a" stroke-width="1.25" />
<path transform="translate(373.2,169.7) rotate(0)" d="M0,0L-10,-1.9L-8.2,0L-10,1.9Z" fill="#1e5a12" stroke="none"/>
<path transform="translate(388.2,169.7) rotate(180)" d="M0,0L-10,-1.9L-8.2,0L-10,1.9Z" fill="#1e5a12" stroke="none"/>
<line x1="373.2" y1="166" x2="373.2" y2="191" stroke="#85a47a" stroke-width="1.25" />
<g transform="translate(351.22,155.83) rotate(0)" fill="none" stroke="#4d7340" stroke-width="1.05" stroke-linejoin="round" stroke-linecap="round"><path vector-effect="non-scaling-stroke" transform="translate(0,0) scale(0.92,0.93)" d="M4.7,0L0.6,0L0.3,4.3Q1.4,3.6 2.6,3.6Q5,3.6 5,6L5,7.6Q5,10 2.5,10Q0.2,10 0,8"/><path vector-effect="non-scaling-stroke" transform="translate(6.87,0) scale(0.92,0.93)" d="M0,2.4Q0,0 2.5,0Q5,0 5,2.4L5,7.6Q5,10 2.5,10Q0,10 0,7.6Z"/></g>
<line x1="388.2" y1="232.7" x2="388.2" y2="260.5" stroke="#85a47a" stroke-width="1.25" />
<line x1="555.3" y1="232.7" x2="555.3" y2="260.5" stroke="#85a47a" stroke-width="1.25" />
<line x1="388.2" y1="257" x2="555.3" y2="257" stroke="#85a47a" stroke-width="1.25" />
<path transform="translate(388.2,257) rotate(180)" d="M0,0L-10.5,-1.9L-8.7,0L-10.5,1.9Z" fill="#1e5a12" stroke="none"/>
<path transform="translate(555.3,257) rotate(0)" d="M0,0L-10.5,-1.9L-8.7,0L-10.5,1.9Z" fill="#1e5a12" stroke="none"/>
<g transform="translate(474.52,242.78) rotate(0)" fill="none" stroke="#4d7340" stroke-width="1.05" stroke-linejoin="round" stroke-linecap="round"><path vector-effect="non-scaling-stroke" transform="translate(0,0) scale(0.79,1.06)" d="M5,0.9Q4.4,0 3.2,0Q0,0 0,2.8L0,7.2Q0,10 3.2,10Q4.4,10 5,9.1"/></g>
<rect x="697.4" y="51.2" width="268.1" height="215.6" rx="0" stroke="#000" stroke-width="1.25" fill="none"/>
<path d="M704.88,61.3a2.62,2.62 0 1,0 5.24,0a2.62,2.62 0 1,0 -5.24,0M715.17,61.3a2.62,2.62 0 1,0 5.24,0a2.62,2.62 0 1,0 -5.24,0M725.47,61.3a2.62,2.62 0 1,0 5.24,0a2.62,2.62 0 1,0 -5.24,0M735.76,61.3a2.62,2.62 0 1,0 5.24,0a2.62,2.62 0 1,0 -5.24,0M746.06,61.3a2.62,2.62 0 1,0 5.24,0a2.62,2.62 0 1,0 -5.24,0M756.36,61.3a2.62,2.62 0 1,0 5.24,0a2.62,2.62 0 1,0 -5.24,0M766.65,61.3a2.62,2.62 0 1,0 5.24,0a2.62,2.62 0 1,0 -5.24,0M776.95,61.3a2.62,2.62 0 1,0 5.24,0a2.62,2.62 0 1,0 -5.24,0M787.24,61.3a2.62,2.62 0 1,0 5.24,0a2.62,2.62 0 1,0 -5.24,0M797.53,61.3a2.62,2.62 0 1,0 5.24,0a2.62,2.62 0 1,0 -5.24,0M807.83,61.3a2.62,2.62 0 1,0 5.24,0a2.62,2.62 0 1,0 -5.24,0M818.12,61.3a2.62,2.62 0 1,0 5.24,0a2.62,2.62 0 1,0 -5.24,0M828.42,61.3a2.62,2.62 0 1,0 5.24,0a2.62,2.62 0 1,0 -5.24,0M838.72,61.3a2.62,2.62 0 1,0 5.24,0a2.62,2.62 0 1,0 -5.24,0M849.01,61.3a2.62,2.62 0 1,0 5.24,0a2.62,2.62 0 1,0 -5.24,0M859.3,61.3a2.62,2.62 0 1,0 5.24,0a2.62,2.62 0 1,0 -5.24,0M869.6,61.3a2.62,2.62 0 1,0 5.24,0a2.62,2.62 0 1,0 -5.24,0M879.89,61.3a2.62,2.62 0 1,0 5.24,0a2.62,2.62 0 1,0 -5.24,0M890.19,61.3a2.62,2.62 0 1,0 5.24,0a2.62,2.62 0 1,0 -5.24,0M900.49,61.3a2.62,2.62 0 1,0 5.24,0a2.62,2.62 0 1,0 -5.24,0M910.78,61.3a2.62,2.62 0 1,0 5.24,0a2.62,2.62 0 1,0 -5.24,0M921.07,61.3a2.62,2.62 0 1,0 5.24,0a2.62,2.62 0 1,0 -5.24,0M931.37,61.3a2.62,2.62 0 1,0 5.24,0a2.62,2.62 0 1,0 -5.24,0M941.66,61.3a2.62,2.62 0 1,0 5.24,0a2.62,2.62 0 1,0 -5.24,0M951.96,61.3a2.62,2.62 0 1,0 5.24,0a2.62,2.62 0 1,0 -5.24,0M710.03,70.2a2.62,2.62 0 1,0 5.24,0a2.62,2.62 0 1,0 -5.24,0M720.32,70.2a2.62,2.62 0 1,0 5.24,0a2.62,2.62 0 1,0 -5.24,0M730.62,70.2a2.62,2.62 0 1,0 5.24,0a2.62,2.62 0 1,0 -5.24,0M740.91,70.2a2.62,2.62 0 1,0 5.24,0a2.62,2.62 0 1,0 -5.24,0M751.21,70.2a2.62,2.62 0 1,0 5.24,0a2.62,2.62 0 1,0 -5.24,0M761.5,70.2a2.62,2.62 0 1,0 5.24,0a2.62,2.62 0 1,0 -5.24,0M771.8,70.2a2.62,2.62 0 1,0 5.24,0a2.62,2.62 0 1,0 -5.24,0M782.09,70.2a2.62,2.62 0 1,0 5.24,0a2.62,2.62 0 1,0 -5.24,0M792.39,70.2a2.62,2.62 0 1,0 5.24,0a2.62,2.62 0 1,0 -5.24,0M802.68,70.2a2.62,2.62 0 1,0 5.24,0a2.62,2.62 0 1,0 -5.24,0M812.98,70.2a2.62,2.62 0 1,0 5.24,0a2.62,2.62 0 1,0 -5.24,0M823.27,70.2a2.62,2.62 0 1,0 5.24,0a2.62,2.62 0 1,0 -5.24,0M833.57,70.2a2.62,2.62 0 1,0 5.24,0a2.62,2.62 0 1,0 -5.24,0M843.87,70.2a2.62,2.62 0 1,0 5.24,0a2.62,2.62 0 1,0 -5.24,0M854.16,70.2a2.62,2.62 0 1,0 5.24,0a2.62,2.62 0 1,0 -5.24,0M864.46,70.2a2.62,2.62 0 1,0 5.24,0a2.62,2.62 0 1,0 -5.24,0M874.75,70.2a2.62,2.62 0 1,0 5.24,0a2.62,2.62 0 1,0 -5.24,0M885.04,70.2a2.62,2.62 0 1,0 5.24,0a2.62,2.62 0 1,0 -5.24,0M895.34,70.2a2.62,2.62 0 1,0 5.24,0a2.62,2.62 0 1,0 -5.24,0M905.63,70.2a2.62,2.62 0 1,0 5.24,0a2.62,2.62 0 1,0 -5.24,0M915.93,70.2a2.62,2.62 0 1,0 5.24,0a2.62,2.62 0 1,0 -5.24,0M926.23,70.2a2.62,2.62 0 1,0 5.24,0a2.62,2.62 0 1,0 -5.24,0M936.52,70.2a2.62,2.62 0 1,0 5.24,0a2.62,2.62 0 1,0 -5.24,0M946.81,70.2a2.62,2.62 0 1,0 5.24,0a2.62,2.62 0 1,0 -5.24,0M704.88,79.11a2.62,2.62 0 1,0 5.24,0a2.62,2.62 0 1,0 -5.24,0M715.17,79.11a2.62,2.62 0 1,0 5.24,0a2.62,2.62 0 1,0 -5.24,0M725.47,79.11a2.62,2.62 0 1,0 5.24,0a2.62,2.62 0 1,0 -5.24,0M735.76,79.11a2.62,2.62 0 1,0 5.24,0a2.62,2.62 0 1,0 -5.24,0M746.06,79.11a2.62,2.62 0 1,0 5.24,0a2.62,2.62 0 1,0 -5.24,0M756.36,79.11a2.62,2.62 0 1,0 5.24,0a2.62,2.62 0 1,0 -5.24,0M766.65,79.11a2.62,2.62 0 1,0 5.24,0a2.62,2.62 0 1,0 -5.24,0M776.95,79.11a2.62,2.62 0 1,0 5.24,0a2.62,2.62 0 1,0 -5.24,0M787.24,79.11a2.62,2.62 0 1,0 5.24,0a2.62,2.62 0 1,0 -5.24,0M797.53,79.11a2.62,2.62 0 1,0 5.24,0a2.62,2.62 0 1,0 -5.24,0M807.83,79.11a2.62,2.62 0 1,0 5.24,0a2.62,2.62 0 1,0 -5.24,0M818.12,79.11a2.62,2.62 0 1,0 5.24,0a2.62,2.62 0 1,0 -5.24,0M828.42,79.11a2.62,2.62 0 1,0 5.24,0a2.62,2.62 0 1,0 -5.24,0M838.72,79.11a2.62,2.62 0 1,0 5.24,0a2.62,2.62 0 1,0 -5.24,0M849.01,79.11a2.62,2.62 0 1,0 5.24,0a2.62,2.62 0 1,0 -5.24,0M859.3,79.11a2.62,2.62 0 1,0 5.24,0a2.62,2.62 0 1,0 -5.24,0M869.6,79.11a2.62,2.62 0 1,0 5.24,0a2.62,2.62 0 1,0 -5.24,0M879.89,79.11a2.62,2.62 0 1,0 5.24,0a2.62,2.62 0 1,0 -5.24,0M890.19,79.11a2.62,2.62 0 1,0 5.24,0a2.62,2.62 0 1,0 -5.24,0M900.49,79.11a2.62,2.62 0 1,0 5.24,0a2.62,2.62 0 1,0 -5.24,0M910.78,79.11a2.62,2.62 0 1,0 5.24,0a2.62,2.62 0 1,0 -5.24,0M921.07,79.11a2.62,2.62 0 1,0 5.24,0a2.62,2.62 0 1,0 -5.24,0M931.37,79.11a2.62,2.62 0 1,0 5.24,0a2.62,2.62 0 1,0 -5.24,0M941.66,79.11a2.62,2.62 0 1,0 5.24,0a2.62,2.62 0 1,0 -5.24,0M951.96,79.11a2.62,2.62 0 1,0 5.24,0a2.62,2.62 0 1,0 -5.24,0M710.03,88.01a2.62,2.62 0 1,0 5.24,0a2.62,2.62 0 1,0 -5.24,0M720.32,88.01a2.62,2.62 0 1,0 5.24,0a2.62,2.62 0 1,0 -5.24,0M730.62,88.01a2.62,2.62 0 1,0 5.24,0a2.62,2.62 0 1,0 -5.24,0M740.91,88.01a2.62,2.62 0 1,0 5.24,0a2.62,2.62 0 1,0 -5.24,0M751.21,88.01a2.62,2.62 0 1,0 5.24,0a2.62,2.62 0 1,0 -5.24,0M761.5,88.01a2.62,2.62 0 1,0 5.24,0a2.62,2.62 0 1,0 -5.24,0M771.8,88.01a2.62,2.62 0 1,0 5.24,0a2.62,2.62 0 1,0 -5.24,0M782.09,88.01a2.62,2.62 0 1,0 5.24,0a2.62,2.62 0 1,0 -5.24,0M792.39,88.01a2.62,2.62 0 1,0 5.24,0a2.62,2.62 0 1,0 -5.24,0M802.68,88.01a2.62,2.62 0 1,0 5.24,0a2.62,2.62 0 1,0 -5.24,0M812.98,88.01a2.62,2.62 0 1,0 5.24,0a2.62,2.62 0 1,0 -5.24,0M823.27,88.01a2.62,2.62 0 1,0 5.24,0a2.62,2.62 0 1,0 -5.24,0M833.57,88.01a2.62,2.62 0 1,0 5.24,0a2.62,2.62 0 1,0 -5.24,0M843.87,88.01a2.62,2.62 0 1,0 5.24,0a2.62,2.62 0 1,0 -5.24,0M854.16,88.01a2.62,2.62 0 1,0 5.24,0a2.62,2.62 0 1,0 -5.24,0M864.46,88.01a2.62,2.62 0 1,0 5.24,0a2.62,2.62 0 1,0 -5.24,0M874.75,88.01a2.62,2.62 0 1,0 5.24,0a2.62,2.62 0 1,0 -5.24,0M885.04,88.01a2.62,2.62 0 1,0 5.24,0a2.62,2.62 0 1,0 -5.24,0M895.34,88.01a2.62,2.62 0 1,0 5.24,0a2.62,2.62 0 1,0 -5.24,0M905.63,88.01a2.62,2.62 0 1,0 5.24,0a2.62,2.62 0 1,0 -5.24,0M915.93,88.01a2.62,2.62 0 1,0 5.24,0a2.62,2.62 0 1,0 -5.24,0M926.23,88.01a2.62,2.62 0 1,0 5.24,0a2.62,2.62 0 1,0 -5.24,0M936.52,88.01a2.62,2.62 0 1,0 5.24,0a2.62,2.62 0 1,0 -5.24,0M946.81,88.01a2.62,2.62 0 1,0 5.24,0a2.62,2.62 0 1,0 -5.24,0M704.88,96.92a2.62,2.62 0 1,0 5.24,0a2.62,2.62 0 1,0 -5.24,0M715.17,96.92a2.62,2.62 0 1,0 5.24,0a2.62,2.62 0 1,0 -5.24,0M725.47,96.92a2.62,2.62 0 1,0 5.24,0a2.62,2.62 0 1,0 -5.24,0M735.76,96.92a2.62,2.62 0 1,0 5.24,0a2.62,2.62 0 1,0 -5.24,0M746.06,96.92a2.62,2.62 0 1,0 5.24,0a2.62,2.62 0 1,0 -5.24,0M756.36,96.92a2.62,2.62 0 1,0 5.24,0a2.62,2.62 0 1,0 -5.24,0M766.65,96.92a2.62,2.62 0 1,0 5.24,0a2.62,2.62 0 1,0 -5.24,0M776.95,96.92a2.62,2.62 0 1,0 5.24,0a2.62,2.62 0 1,0 -5.24,0M787.24,96.92a2.62,2.62 0 1,0 5.24,0a2.62,2.62 0 1,0 -5.24,0M797.53,96.92a2.62,2.62 0 1,0 5.24,0a2.62,2.62 0 1,0 -5.24,0M807.83,96.92a2.62,2.62 0 1,0 5.24,0a2.62,2.62 0 1,0 -5.24,0M818.12,96.92a2.62,2.62 0 1,0 5.24,0a2.62,2.62 0 1,0 -5.24,0M828.42,96.92a2.62,2.62 0 1,0 5.24,0a2.62,2.62 0 1,0 -5.24,0M838.72,96.92a2.62,2.62 0 1,0 5.24,0a2.62,2.62 0 1,0 -5.24,0M849.01,96.92a2.62,2.62 0 1,0 5.24,0a2.62,2.62 0 1,0 -5.24,0M859.3,96.92a2.62,2.62 0 1,0 5.24,0a2.62,2.62 0 1,0 -5.24,0M869.6,96.92a2.62,2.62 0 1,0 5.24,0a2.62,2.62 0 1,0 -5.24,0M879.89,96.92a2.62,2.62 0 1,0 5.24,0a2.62,2.62 0 1,0 -5.24,0M890.19,96.92a2.62,2.62 0 1,0 5.24,0a2.62,2.62 0 1,0 -5.24,0M900.49,96.92a2.62,2.62 0 1,0 5.24,0a2.62,2.62 0 1,0 -5.24,0M910.78,96.92a2.62,2.62 0 1,0 5.24,0a2.62,2.62 0 1,0 -5.24,0M921.07,96.92a2.62,2.62 0 1,0 5.24,0a2.62,2.62 0 1,0 -5.24,0M931.37,96.92a2.62,2.62 0 1,0 5.24,0a2.62,2.62 0 1,0 -5.24,0M941.66,96.92a2.62,2.62 0 1,0 5.24,0a2.62,2.62 0 1,0 -5.24,0M951.96,96.92a2.62,2.62 0 1,0 5.24,0a2.62,2.62 0 1,0 -5.24,0M710.03,105.82a2.62,2.62 0 1,0 5.24,0a2.62,2.62 0 1,0 -5.24,0M720.32,105.82a2.62,2.62 0 1,0 5.24,0a2.62,2.62 0 1,0 -5.24,0M730.62,105.82a2.62,2.62 0 1,0 5.24,0a2.62,2.62 0 1,0 -5.24,0M740.91,105.82a2.62,2.62 0 1,0 5.24,0a2.62,2.62 0 1,0 -5.24,0M751.21,105.82a2.62,2.62 0 1,0 5.24,0a2.62,2.62 0 1,0 -5.24,0M761.5,105.82a2.62,2.62 0 1,0 5.24,0a2.62,2.62 0 1,0 -5.24,0M771.8,105.82a2.62,2.62 0 1,0 5.24,0a2.62,2.62 0 1,0 -5.24,0M782.09,105.82a2.62,2.62 0 1,0 5.24,0a2.62,2.62 0 1,0 -5.24,0M792.39,105.82a2.62,2.62 0 1,0 5.24,0a2.62,2.62 0 1,0 -5.24,0M802.68,105.82a2.62,2.62 0 1,0 5.24,0a2.62,2.62 0 1,0 -5.24,0M812.98,105.82a2.62,2.62 0 1,0 5.24,0a2.62,2.62 0 1,0 -5.24,0M823.27,105.82a2.62,2.62 0 1,0 5.24,0a2.62,2.62 0 1,0 -5.24,0M833.57,105.82a2.62,2.62 0 1,0 5.24,0a2.62,2.62 0 1,0 -5.24,0M843.87,105.82a2.62,2.62 0 1,0 5.24,0a2.62,2.62 0 1,0 -5.24,0M854.16,105.82a2.62,2.62 0 1,0 5.24,0a2.62,2.62 0 1,0 -5.24,0M864.46,105.82a2.62,2.62 0 1,0 5.24,0a2.62,2.62 0 1,0 -5.24,0M874.75,105.82a2.62,2.62 0 1,0 5.24,0a2.62,2.62 0 1,0 -5.24,0M885.04,105.82a2.62,2.62 0 1,0 5.24,0a2.62,2.62 0 1,0 -5.24,0M895.34,105.82a2.62,2.62 0 1,0 5.24,0a2.62,2.62 0 1,0 -5.24,0M905.63,105.82a2.62,2.62 0 1,0 5.24,0a2.62,2.62 0 1,0 -5.24,0M915.93,105.82a2.62,2.62 0 1,0 5.24,0a2.62,2.62 0 1,0 -5.24,0M926.23,105.82a2.62,2.62 0 1,0 5.24,0a2.62,2.62 0 1,0 -5.24,0M936.52,105.82a2.62,2.62 0 1,0 5.24,0a2.62,2.62 0 1,0 -5.24,0M946.81,105.82a2.62,2.62 0 1,0 5.24,0a2.62,2.62 0 1,0 -5.24,0M704.88,114.73a2.62,2.62 0 1,0 5.24,0a2.62,2.62 0 1,0 -5.24,0M715.17,114.73a2.62,2.62 0 1,0 5.24,0a2.62,2.62 0 1,0 -5.24,0M725.47,114.73a2.62,2.62 0 1,0 5.24,0a2.62,2.62 0 1,0 -5.24,0M735.76,114.73a2.62,2.62 0 1,0 5.24,0a2.62,2.62 0 1,0 -5.24,0M746.06,114.73a2.62,2.62 0 1,0 5.24,0a2.62,2.62 0 1,0 -5.24,0M756.36,114.73a2.62,2.62 0 1,0 5.24,0a2.62,2.62 0 1,0 -5.24,0M766.65,114.73a2.62,2.62 0 1,0 5.24,0a2.62,2.62 0 1,0 -5.24,0M776.95,114.73a2.62,2.62 0 1,0 5.24,0a2.62,2.62 0 1,0 -5.24,0M787.24,114.73a2.62,2.62 0 1,0 5.24,0a2.62,2.62 0 1,0 -5.24,0M797.53,114.73a2.62,2.62 0 1,0 5.24,0a2.62,2.62 0 1,0 -5.24,0M807.83,114.73a2.62,2.62 0 1,0 5.24,0a2.62,2.62 0 1,0 -5.24,0M818.12,114.73a2.62,2.62 0 1,0 5.24,0a2.62,2.62 0 1,0 -5.24,0M828.42,114.73a2.62,2.62 0 1,0 5.24,0a2.62,2.62 0 1,0 -5.24,0M838.72,114.73a2.62,2.62 0 1,0 5.24,0a2.62,2.62 0 1,0 -5.24,0M849.01,114.73a2.62,2.62 0 1,0 5.24,0a2.62,2.62 0 1,0 -5.24,0M859.3,114.73a2.62,2.62 0 1,0 5.24,0a2.62,2.62 0 1,0 -5.24,0M869.6,114.73a2.62,2.62 0 1,0 5.24,0a2.62,2.62 0 1,0 -5.24,0M879.89,114.73a2.62,2.62 0 1,0 5.24,0a2.62,2.62 0 1,0 -5.24,0M890.19,114.73a2.62,2.62 0 1,0 5.24,0a2.62,2.62 0 1,0 -5.24,0M900.49,114.73a2.62,2.62 0 1,0 5.24,0a2.62,2.62 0 1,0 -5.24,0M910.78,114.73a2.62,2.62 0 1,0 5.24,0a2.62,2.62 0 1,0 -5.24,0M921.07,114.73a2.62,2.62 0 1,0 5.24,0a2.62,2.62 0 1,0 -5.24,0M931.37,114.73a2.62,2.62 0 1,0 5.24,0a2.62,2.62 0 1,0 -5.24,0M941.66,114.73a2.62,2.62 0 1,0 5.24,0a2.62,2.62 0 1,0 -5.24,0M951.96,114.73a2.62,2.62 0 1,0 5.24,0a2.62,2.62 0 1,0 -5.24,0M710.03,123.63a2.62,2.62 0 1,0 5.24,0a2.62,2.62 0 1,0 -5.24,0M720.32,123.63a2.62,2.62 0 1,0 5.24,0a2.62,2.62 0 1,0 -5.24,0M730.62,123.63a2.62,2.62 0 1,0 5.24,0a2.62,2.62 0 1,0 -5.24,0M740.91,123.63a2.62,2.62 0 1,0 5.24,0a2.62,2.62 0 1,0 -5.24,0M751.21,123.63a2.62,2.62 0 1,0 5.24,0a2.62,2.62 0 1,0 -5.24,0M761.5,123.63a2.62,2.62 0 1,0 5.24,0a2.62,2.62 0 1,0 -5.24,0M771.8,123.63a2.62,2.62 0 1,0 5.24,0a2.62,2.62 0 1,0 -5.24,0M782.09,123.63a2.62,2.62 0 1,0 5.24,0a2.62,2.62 0 1,0 -5.24,0M792.39,123.63a2.62,2.62 0 1,0 5.24,0a2.62,2.62 0 1,0 -5.24,0M802.68,123.63a2.62,2.62 0 1,0 5.24,0a2.62,2.62 0 1,0 -5.24,0M812.98,123.63a2.62,2.62 0 1,0 5.24,0a2.62,2.62 0 1,0 -5.24,0M823.27,123.63a2.62,2.62 0 1,0 5.24,0a2.62,2.62 0 1,0 -5.24,0M833.57,123.63a2.62,2.62 0 1,0 5.24,0a2.62,2.62 0 1,0 -5.24,0M843.87,123.63a2.62,2.62 0 1,0 5.24,0a2.62,2.62 0 1,0 -5.24,0M854.16,123.63a2.62,2.62 0 1,0 5.24,0a2.62,2.62 0 1,0 -5.24,0M864.46,123.63a2.62,2.62 0 1,0 5.24,0a2.62,2.62 0 1,0 -5.24,0M874.75,123.63a2.62,2.62 0 1,0 5.24,0a2.62,2.62 0 1,0 -5.24,0M885.04,123.63a2.62,2.62 0 1,0 5.24,0a2.62,2.62 0 1,0 -5.24,0M895.34,123.63a2.62,2.62 0 1,0 5.24,0a2.62,2.62 0 1,0 -5.24,0M905.63,123.63a2.62,2.62 0 1,0 5.24,0a2.62,2.62 0 1,0 -5.24,0M915.93,123.63a2.62,2.62 0 1,0 5.24,0a2.62,2.62 0 1,0 -5.24,0M926.23,123.63a2.62,2.62 0 1,0 5.24,0a2.62,2.62 0 1,0 -5.24,0M936.52,123.63a2.62,2.62 0 1,0 5.24,0a2.62,2.62 0 1,0 -5.24,0M946.81,123.63a2.62,2.62 0 1,0 5.24,0a2.62,2.62 0 1,0 -5.24,0M704.88,132.54a2.62,2.62 0 1,0 5.24,0a2.62,2.62 0 1,0 -5.24,0M715.17,132.54a2.62,2.62 0 1,0 5.24,0a2.62,2.62 0 1,0 -5.24,0M725.47,132.54a2.62,2.62 0 1,0 5.24,0a2.62,2.62 0 1,0 -5.24,0M735.76,132.54a2.62,2.62 0 1,0 5.24,0a2.62,2.62 0 1,0 -5.24,0M746.06,132.54a2.62,2.62 0 1,0 5.24,0a2.62,2.62 0 1,0 -5.24,0M756.36,132.54a2.62,2.62 0 1,0 5.24,0a2.62,2.62 0 1,0 -5.24,0M766.65,132.54a2.62,2.62 0 1,0 5.24,0a2.62,2.62 0 1,0 -5.24,0M776.95,132.54a2.62,2.62 0 1,0 5.24,0a2.62,2.62 0 1,0 -5.24,0M787.24,132.54a2.62,2.62 0 1,0 5.24,0a2.62,2.62 0 1,0 -5.24,0M797.53,132.54a2.62,2.62 0 1,0 5.24,0a2.62,2.62 0 1,0 -5.24,0M807.83,132.54a2.62,2.62 0 1,0 5.24,0a2.62,2.62 0 1,0 -5.24,0M818.12,132.54a2.62,2.62 0 1,0 5.24,0a2.62,2.62 0 1,0 -5.24,0M828.42,132.54a2.62,2.62 0 1,0 5.24,0a2.62,2.62 0 1,0 -5.24,0M838.72,132.54a2.62,2.62 0 1,0 5.24,0a2.62,2.62 0 1,0 -5.24,0M849.01,132.54a2.62,2.62 0 1,0 5.24,0a2.62,2.62 0 1,0 -5.24,0M859.3,132.54a2.62,2.62 0 1,0 5.24,0a2.62,2.62 0 1,0 -5.24,0M869.6,132.54a2.62,2.62 0 1,0 5.24,0a2.62,2.62 0 1,0 -5.24,0M879.89,132.54a2.62,2.62 0 1,0 5.24,0a2.62,2.62 0 1,0 -5.24,0M890.19,132.54a2.62,2.62 0 1,0 5.24,0a2.62,2.62 0 1,0 -5.24,0M900.49,132.54a2.62,2.62 0 1,0 5.24,0a2.62,2.62 0 1,0 -5.24,0M910.78,132.54a2.62,2.62 0 1,0 5.24,0a2.62,2.62 0 1,0 -5.24,0M921.07,132.54a2.62,2.62 0 1,0 5.24,0a2.62,2.62 0 1,0 -5.24,0M931.37,132.54a2.62,2.62 0 1,0 5.24,0a2.62,2.62 0 1,0 -5.24,0M941.66,132.54a2.62,2.62 0 1,0 5.24,0a2.62,2.62 0 1,0 -5.24,0M951.96,132.54a2.62,2.62 0 1,0 5.24,0a2.62,2.62 0 1,0 -5.24,0M710.03,141.44a2.62,2.62 0 1,0 5.24,0a2.62,2.62 0 1,0 -5.24,0M720.32,141.44a2.62,2.62 0 1,0 5.24,0a2.62,2.62 0 1,0 -5.24,0M730.62,141.44a2.62,2.62 0 1,0 5.24,0a2.62,2.62 0 1,0 -5.24,0M740.91,141.44a2.62,2.62 0 1,0 5.24,0a2.62,2.62 0 1,0 -5.24,0M751.21,141.44a2.62,2.62 0 1,0 5.24,0a2.62,2.62 0 1,0 -5.24,0M761.5,141.44a2.62,2.62 0 1,0 5.24,0a2.62,2.62 0 1,0 -5.24,0M771.8,141.44a2.62,2.62 0 1,0 5.24,0a2.62,2.62 0 1,0 -5.24,0M782.09,141.44a2.62,2.62 0 1,0 5.24,0a2.62,2.62 0 1,0 -5.24,0M792.39,141.44a2.62,2.62 0 1,0 5.24,0a2.62,2.62 0 1,0 -5.24,0M802.68,141.44a2.62,2.62 0 1,0 5.24,0a2.62,2.62 0 1,0 -5.24,0M812.98,141.44a2.62,2.62 0 1,0 5.24,0a2.62,2.62 0 1,0 -5.24,0M823.27,141.44a2.62,2.62 0 1,0 5.24,0a2.62,2.62 0 1,0 -5.24,0M833.57,141.44a2.62,2.62 0 1,0 5.24,0a2.62,2.62 0 1,0 -5.24,0M843.87,141.44a2.62,2.62 0 1,0 5.24,0a2.62,2.62 0 1,0 -5.24,0M854.16,141.44a2.62,2.62 0 1,0 5.24,0a2.62,2.62 0 1,0 -5.24,0M864.46,141.44a2.62,2.62 0 1,0 5.24,0a2.62,2.62 0 1,0 -5.24,0M874.75,141.44a2.62,2.62 0 1,0 5.24,0a2.62,2.62 0 1,0 -5.24,0M885.04,141.44a2.62,2.62 0 1,0 5.24,0a2.62,2.62 0 1,0 -5.24,0M895.34,141.44a2.62,2.62 0 1,0 5.24,0a2.62,2.62 0 1,0 -5.24,0M905.63,141.44a2.62,2.62 0 1,0 5.24,0a2.62,2.62 0 1,0 -5.24,0M915.93,141.44a2.62,2.62 0 1,0 5.24,0a2.62,2.62 0 1,0 -5.24,0M926.23,141.44a2.62,2.62 0 1,0 5.24,0a2.62,2.62 0 1,0 -5.24,0M936.52,141.44a2.62,2.62 0 1,0 5.24,0a2.62,2.62 0 1,0 -5.24,0M946.81,141.44a2.62,2.62 0 1,0 5.24,0a2.62,2.62 0 1,0 -5.24,0M704.88,150.35a2.62,2.62 0 1,0 5.24,0a2.62,2.62 0 1,0 -5.24,0M715.17,150.35a2.62,2.62 0 1,0 5.24,0a2.62,2.62 0 1,0 -5.24,0M725.47,150.35a2.62,2.62 0 1,0 5.24,0a2.62,2.62 0 1,0 -5.24,0M735.76,150.35a2.62,2.62 0 1,0 5.24,0a2.62,2.62 0 1,0 -5.24,0M746.06,150.35a2.62,2.62 0 1,0 5.24,0a2.62,2.62 0 1,0 -5.24,0M756.36,150.35a2.62,2.62 0 1,0 5.24,0a2.62,2.62 0 1,0 -5.24,0M766.65,150.35a2.62,2.62 0 1,0 5.24,0a2.62,2.62 0 1,0 -5.24,0M776.95,150.35a2.62,2.62 0 1,0 5.24,0a2.62,2.62 0 1,0 -5.24,0M787.24,150.35a2.62,2.62 0 1,0 5.24,0a2.62,2.62 0 1,0 -5.24,0M797.53,150.35a2.62,2.62 0 1,0 5.24,0a2.62,2.62 0 1,0 -5.24,0M807.83,150.35a2.62,2.62 0 1,0 5.24,0a2.62,2.62 0 1,0 -5.24,0M818.12,150.35a2.62,2.62 0 1,0 5.24,0a2.62,2.62 0 1,0 -5.24,0M828.42,150.35a2.62,2.62 0 1,0 5.24,0a2.62,2.62 0 1,0 -5.24,0M838.72,150.35a2.62,2.62 0 1,0 5.24,0a2.62,2.62 0 1,0 -5.24,0M849.01,150.35a2.62,2.62 0 1,0 5.24,0a2.62,2.62 0 1,0 -5.24,0M859.3,150.35a2.62,2.62 0 1,0 5.24,0a2.62,2.62 0 1,0 -5.24,0M869.6,150.35a2.62,2.62 0 1,0 5.24,0a2.62,2.62 0 1,0 -5.24,0M879.89,150.35a2.62,2.62 0 1,0 5.24,0a2.62,2.62 0 1,0 -5.24,0M890.19,150.35a2.62,2.62 0 1,0 5.24,0a2.62,2.62 0 1,0 -5.24,0M900.49,150.35a2.62,2.62 0 1,0 5.24,0a2.62,2.62 0 1,0 -5.24,0M910.78,150.35a2.62,2.62 0 1,0 5.24,0a2.62,2.62 0 1,0 -5.24,0M921.07,150.35a2.62,2.62 0 1,0 5.24,0a2.62,2.62 0 1,0 -5.24,0M931.37,150.35a2.62,2.62 0 1,0 5.24,0a2.62,2.62 0 1,0 -5.24,0M941.66,150.35a2.62,2.62 0 1,0 5.24,0a2.62,2.62 0 1,0 -5.24,0M951.96,150.35a2.62,2.62 0 1,0 5.24,0a2.62,2.62 0 1,0 -5.24,0M710.03,159.25a2.62,2.62 0 1,0 5.24,0a2.62,2.62 0 1,0 -5.24,0M720.32,159.25a2.62,2.62 0 1,0 5.24,0a2.62,2.62 0 1,0 -5.24,0M730.62,159.25a2.62,2.62 0 1,0 5.24,0a2.62,2.62 0 1,0 -5.24,0M740.91,159.25a2.62,2.62 0 1,0 5.24,0a2.62,2.62 0 1,0 -5.24,0M751.21,159.25a2.62,2.62 0 1,0 5.24,0a2.62,2.62 0 1,0 -5.24,0M761.5,159.25a2.62,2.62 0 1,0 5.24,0a2.62,2.62 0 1,0 -5.24,0M771.8,159.25a2.62,2.62 0 1,0 5.24,0a2.62,2.62 0 1,0 -5.24,0M782.09,159.25a2.62,2.62 0 1,0 5.24,0a2.62,2.62 0 1,0 -5.24,0M792.39,159.25a2.62,2.62 0 1,0 5.24,0a2.62,2.62 0 1,0 -5.24,0M802.68,159.25a2.62,2.62 0 1,0 5.24,0a2.62,2.62 0 1,0 -5.24,0M812.98,159.25a2.62,2.62 0 1,0 5.24,0a2.62,2.62 0 1,0 -5.24,0M823.27,159.25a2.62,2.62 0 1,0 5.24,0a2.62,2.62 0 1,0 -5.24,0M833.57,159.25a2.62,2.62 0 1,0 5.24,0a2.62,2.62 0 1,0 -5.24,0M843.87,159.25a2.62,2.62 0 1,0 5.24,0a2.62,2.62 0 1,0 -5.24,0M854.16,159.25a2.62,2.62 0 1,0 5.24,0a2.62,2.62 0 1,0 -5.24,0M864.46,159.25a2.62,2.62 0 1,0 5.24,0a2.62,2.62 0 1,0 -5.24,0M874.75,159.25a2.62,2.62 0 1,0 5.24,0a2.62,2.62 0 1,0 -5.24,0M885.04,159.25a2.62,2.62 0 1,0 5.24,0a2.62,2.62 0 1,0 -5.24,0M895.34,159.25a2.62,2.62 0 1,0 5.24,0a2.62,2.62 0 1,0 -5.24,0M905.63,159.25a2.62,2.62 0 1,0 5.24,0a2.62,2.62 0 1,0 -5.24,0M915.93,159.25a2.62,2.62 0 1,0 5.24,0a2.62,2.62 0 1,0 -5.24,0M926.23,159.25a2.62,2.62 0 1,0 5.24,0a2.62,2.62 0 1,0 -5.24,0M936.52,159.25a2.62,2.62 0 1,0 5.24,0a2.62,2.62 0 1,0 -5.24,0M946.81,159.25a2.62,2.62 0 1,0 5.24,0a2.62,2.62 0 1,0 -5.24,0M704.88,168.16a2.62,2.62 0 1,0 5.24,0a2.62,2.62 0 1,0 -5.24,0M715.17,168.16a2.62,2.62 0 1,0 5.24,0a2.62,2.62 0 1,0 -5.24,0M725.47,168.16a2.62,2.62 0 1,0 5.24,0a2.62,2.62 0 1,0 -5.24,0M735.76,168.16a2.62,2.62 0 1,0 5.24,0a2.62,2.62 0 1,0 -5.24,0M746.06,168.16a2.62,2.62 0 1,0 5.24,0a2.62,2.62 0 1,0 -5.24,0M756.36,168.16a2.62,2.62 0 1,0 5.24,0a2.62,2.62 0 1,0 -5.24,0M766.65,168.16a2.62,2.62 0 1,0 5.24,0a2.62,2.62 0 1,0 -5.24,0M776.95,168.16a2.62,2.62 0 1,0 5.24,0a2.62,2.62 0 1,0 -5.24,0M787.24,168.16a2.62,2.62 0 1,0 5.24,0a2.62,2.62 0 1,0 -5.24,0M797.53,168.16a2.62,2.62 0 1,0 5.24,0a2.62,2.62 0 1,0 -5.24,0M807.83,168.16a2.62,2.62 0 1,0 5.24,0a2.62,2.62 0 1,0 -5.24,0M818.12,168.16a2.62,2.62 0 1,0 5.24,0a2.62,2.62 0 1,0 -5.24,0M828.42,168.16a2.62,2.62 0 1,0 5.24,0a2.62,2.62 0 1,0 -5.24,0M838.72,168.16a2.62,2.62 0 1,0 5.24,0a2.62,2.62 0 1,0 -5.24,0M849.01,168.16a2.62,2.62 0 1,0 5.24,0a2.62,2.62 0 1,0 -5.24,0M859.3,168.16a2.62,2.62 0 1,0 5.24,0a2.62,2.62 0 1,0 -5.24,0M869.6,168.16a2.62,2.62 0 1,0 5.24,0a2.62,2.62 0 1,0 -5.24,0M879.89,168.16a2.62,2.62 0 1,0 5.24,0a2.62,2.62 0 1,0 -5.24,0M890.19,168.16a2.62,2.62 0 1,0 5.24,0a2.62,2.62 0 1,0 -5.24,0M900.49,168.16a2.62,2.62 0 1,0 5.24,0a2.62,2.62 0 1,0 -5.24,0M910.78,168.16a2.62,2.62 0 1,0 5.24,0a2.62,2.62 0 1,0 -5.24,0M921.07,168.16a2.62,2.62 0 1,0 5.24,0a2.62,2.62 0 1,0 -5.24,0M931.37,168.16a2.62,2.62 0 1,0 5.24,0a2.62,2.62 0 1,0 -5.24,0M941.66,168.16a2.62,2.62 0 1,0 5.24,0a2.62,2.62 0 1,0 -5.24,0M951.96,168.16a2.62,2.62 0 1,0 5.24,0a2.62,2.62 0 1,0 -5.24,0M710.03,177.06a2.62,2.62 0 1,0 5.24,0a2.62,2.62 0 1,0 -5.24,0M720.32,177.06a2.62,2.62 0 1,0 5.24,0a2.62,2.62 0 1,0 -5.24,0M730.62,177.06a2.62,2.62 0 1,0 5.24,0a2.62,2.62 0 1,0 -5.24,0M740.91,177.06a2.62,2.62 0 1,0 5.24,0a2.62,2.62 0 1,0 -5.24,0M751.21,177.06a2.62,2.62 0 1,0 5.24,0a2.62,2.62 0 1,0 -5.24,0M761.5,177.06a2.62,2.62 0 1,0 5.24,0a2.62,2.62 0 1,0 -5.24,0M771.8,177.06a2.62,2.62 0 1,0 5.24,0a2.62,2.62 0 1,0 -5.24,0M782.09,177.06a2.62,2.62 0 1,0 5.24,0a2.62,2.62 0 1,0 -5.24,0M792.39,177.06a2.62,2.62 0 1,0 5.24,0a2.62,2.62 0 1,0 -5.24,0M802.68,177.06a2.62,2.62 0 1,0 5.24,0a2.62,2.62 0 1,0 -5.24,0M812.98,177.06a2.62,2.62 0 1,0 5.24,0a2.62,2.62 0 1,0 -5.24,0M823.27,177.06a2.62,2.62 0 1,0 5.24,0a2.62,2.62 0 1,0 -5.24,0M833.57,177.06a2.62,2.62 0 1,0 5.24,0a2.62,2.62 0 1,0 -5.24,0M843.87,177.06a2.62,2.62 0 1,0 5.24,0a2.62,2.62 0 1,0 -5.24,0M854.16,177.06a2.62,2.62 0 1,0 5.24,0a2.62,2.62 0 1,0 -5.24,0M864.46,177.06a2.62,2.62 0 1,0 5.24,0a2.62,2.62 0 1,0 -5.24,0M874.75,177.06a2.62,2.62 0 1,0 5.24,0a2.62,2.62 0 1,0 -5.24,0M885.04,177.06a2.62,2.62 0 1,0 5.24,0a2.62,2.62 0 1,0 -5.24,0M895.34,177.06a2.62,2.62 0 1,0 5.24,0a2.62,2.62 0 1,0 -5.24,0M905.63,177.06a2.62,2.62 0 1,0 5.24,0a2.62,2.62 0 1,0 -5.24,0M915.93,177.06a2.62,2.62 0 1,0 5.24,0a2.62,2.62 0 1,0 -5.24,0M926.23,177.06a2.62,2.62 0 1,0 5.24,0a2.62,2.62 0 1,0 -5.24,0M936.52,177.06a2.62,2.62 0 1,0 5.24,0a2.62,2.62 0 1,0 -5.24,0M946.81,177.06a2.62,2.62 0 1,0 5.24,0a2.62,2.62 0 1,0 -5.24,0M704.88,185.97a2.62,2.62 0 1,0 5.24,0a2.62,2.62 0 1,0 -5.24,0M715.17,185.97a2.62,2.62 0 1,0 5.24,0a2.62,2.62 0 1,0 -5.24,0M725.47,185.97a2.62,2.62 0 1,0 5.24,0a2.62,2.62 0 1,0 -5.24,0M735.76,185.97a2.62,2.62 0 1,0 5.24,0a2.62,2.62 0 1,0 -5.24,0M746.06,185.97a2.62,2.62 0 1,0 5.24,0a2.62,2.62 0 1,0 -5.24,0M756.36,185.97a2.62,2.62 0 1,0 5.24,0a2.62,2.62 0 1,0 -5.24,0M766.65,185.97a2.62,2.62 0 1,0 5.24,0a2.62,2.62 0 1,0 -5.24,0M776.95,185.97a2.62,2.62 0 1,0 5.24,0a2.62,2.62 0 1,0 -5.24,0M787.24,185.97a2.62,2.62 0 1,0 5.24,0a2.62,2.62 0 1,0 -5.24,0M797.53,185.97a2.62,2.62 0 1,0 5.24,0a2.62,2.62 0 1,0 -5.24,0M807.83,185.97a2.62,2.62 0 1,0 5.24,0a2.62,2.62 0 1,0 -5.24,0M818.12,185.97a2.62,2.62 0 1,0 5.24,0a2.62,2.62 0 1,0 -5.24,0M828.42,185.97a2.62,2.62 0 1,0 5.24,0a2.62,2.62 0 1,0 -5.24,0M838.72,185.97a2.62,2.62 0 1,0 5.24,0a2.62,2.62 0 1,0 -5.24,0M849.01,185.97a2.62,2.62 0 1,0 5.24,0a2.62,2.62 0 1,0 -5.24,0M859.3,185.97a2.62,2.62 0 1,0 5.24,0a2.62,2.62 0 1,0 -5.24,0M869.6,185.97a2.62,2.62 0 1,0 5.24,0a2.62,2.62 0 1,0 -5.24,0M879.89,185.97a2.62,2.62 0 1,0 5.24,0a2.62,2.62 0 1,0 -5.24,0M890.19,185.97a2.62,2.62 0 1,0 5.24,0a2.62,2.62 0 1,0 -5.24,0M900.49,185.97a2.62,2.62 0 1,0 5.24,0a2.62,2.62 0 1,0 -5.24,0M910.78,185.97a2.62,2.62 0 1,0 5.24,0a2.62,2.62 0 1,0 -5.24,0M921.07,185.97a2.62,2.62 0 1,0 5.24,0a2.62,2.62 0 1,0 -5.24,0M931.37,185.97a2.62,2.62 0 1,0 5.24,0a2.62,2.62 0 1,0 -5.24,0M941.66,185.97a2.62,2.62 0 1,0 5.24,0a2.62,2.62 0 1,0 -5.24,0M951.96,185.97a2.62,2.62 0 1,0 5.24,0a2.62,2.62 0 1,0 -5.24,0M710.03,194.88a2.62,2.62 0 1,0 5.24,0a2.62,2.62 0 1,0 -5.24,0M720.32,194.88a2.62,2.62 0 1,0 5.24,0a2.62,2.62 0 1,0 -5.24,0M730.62,194.88a2.62,2.62 0 1,0 5.24,0a2.62,2.62 0 1,0 -5.24,0M740.91,194.88a2.62,2.62 0 1,0 5.24,0a2.62,2.62 0 1,0 -5.24,0M751.21,194.88a2.62,2.62 0 1,0 5.24,0a2.62,2.62 0 1,0 -5.24,0M761.5,194.88a2.62,2.62 0 1,0 5.24,0a2.62,2.62 0 1,0 -5.24,0M771.8,194.88a2.62,2.62 0 1,0 5.24,0a2.62,2.62 0 1,0 -5.24,0M782.09,194.88a2.62,2.62 0 1,0 5.24,0a2.62,2.62 0 1,0 -5.24,0M792.39,194.88a2.62,2.62 0 1,0 5.24,0a2.62,2.62 0 1,0 -5.24,0M802.68,194.88a2.62,2.62 0 1,0 5.24,0a2.62,2.62 0 1,0 -5.24,0M812.98,194.88a2.62,2.62 0 1,0 5.24,0a2.62,2.62 0 1,0 -5.24,0M823.27,194.88a2.62,2.62 0 1,0 5.24,0a2.62,2.62 0 1,0 -5.24,0M833.57,194.88a2.62,2.62 0 1,0 5.24,0a2.62,2.62 0 1,0 -5.24,0M843.87,194.88a2.62,2.62 0 1,0 5.24,0a2.62,2.62 0 1,0 -5.24,0M854.16,194.88a2.62,2.62 0 1,0 5.24,0a2.62,2.62 0 1,0 -5.24,0M864.46,194.88a2.62,2.62 0 1,0 5.24,0a2.62,2.62 0 1,0 -5.24,0M874.75,194.88a2.62,2.62 0 1,0 5.24,0a2.62,2.62 0 1,0 -5.24,0M885.04,194.88a2.62,2.62 0 1,0 5.24,0a2.62,2.62 0 1,0 -5.24,0M895.34,194.88a2.62,2.62 0 1,0 5.24,0a2.62,2.62 0 1,0 -5.24,0M905.63,194.88a2.62,2.62 0 1,0 5.24,0a2.62,2.62 0 1,0 -5.24,0M915.93,194.88a2.62,2.62 0 1,0 5.24,0a2.62,2.62 0 1,0 -5.24,0M926.23,194.88a2.62,2.62 0 1,0 5.24,0a2.62,2.62 0 1,0 -5.24,0M936.52,194.88a2.62,2.62 0 1,0 5.24,0a2.62,2.62 0 1,0 -5.24,0M946.81,194.88a2.62,2.62 0 1,0 5.24,0a2.62,2.62 0 1,0 -5.24,0M704.88,203.78a2.62,2.62 0 1,0 5.24,0a2.62,2.62 0 1,0 -5.24,0M715.17,203.78a2.62,2.62 0 1,0 5.24,0a2.62,2.62 0 1,0 -5.24,0M725.47,203.78a2.62,2.62 0 1,0 5.24,0a2.62,2.62 0 1,0 -5.24,0M735.76,203.78a2.62,2.62 0 1,0 5.24,0a2.62,2.62 0 1,0 -5.24,0M746.06,203.78a2.62,2.62 0 1,0 5.24,0a2.62,2.62 0 1,0 -5.24,0M756.36,203.78a2.62,2.62 0 1,0 5.24,0a2.62,2.62 0 1,0 -5.24,0M766.65,203.78a2.62,2.62 0 1,0 5.24,0a2.62,2.62 0 1,0 -5.24,0M776.95,203.78a2.62,2.62 0 1,0 5.24,0a2.62,2.62 0 1,0 -5.24,0M787.24,203.78a2.62,2.62 0 1,0 5.24,0a2.62,2.62 0 1,0 -5.24,0M797.53,203.78a2.62,2.62 0 1,0 5.24,0a2.62,2.62 0 1,0 -5.24,0M807.83,203.78a2.62,2.62 0 1,0 5.24,0a2.62,2.62 0 1,0 -5.24,0M818.12,203.78a2.62,2.62 0 1,0 5.24,0a2.62,2.62 0 1,0 -5.24,0M828.42,203.78a2.62,2.62 0 1,0 5.24,0a2.62,2.62 0 1,0 -5.24,0M838.72,203.78a2.62,2.62 0 1,0 5.24,0a2.62,2.62 0 1,0 -5.24,0M849.01,203.78a2.62,2.62 0 1,0 5.24,0a2.62,2.62 0 1,0 -5.24,0M859.3,203.78a2.62,2.62 0 1,0 5.24,0a2.62,2.62 0 1,0 -5.24,0M869.6,203.78a2.62,2.62 0 1,0 5.24,0a2.62,2.62 0 1,0 -5.24,0M879.89,203.78a2.62,2.62 0 1,0 5.24,0a2.62,2.62 0 1,0 -5.24,0M890.19,203.78a2.62,2.62 0 1,0 5.24,0a2.62,2.62 0 1,0 -5.24,0M900.49,203.78a2.62,2.62 0 1,0 5.24,0a2.62,2.62 0 1,0 -5.24,0M910.78,203.78a2.62,2.62 0 1,0 5.24,0a2.62,2.62 0 1,0 -5.24,0M921.07,203.78a2.62,2.62 0 1,0 5.24,0a2.62,2.62 0 1,0 -5.24,0M931.37,203.78a2.62,2.62 0 1,0 5.24,0a2.62,2.62 0 1,0 -5.24,0M941.66,203.78a2.62,2.62 0 1,0 5.24,0a2.62,2.62 0 1,0 -5.24,0M951.96,203.78a2.62,2.62 0 1,0 5.24,0a2.62,2.62 0 1,0 -5.24,0M710.03,212.69a2.62,2.62 0 1,0 5.24,0a2.62,2.62 0 1,0 -5.24,0M720.32,212.69a2.62,2.62 0 1,0 5.24,0a2.62,2.62 0 1,0 -5.24,0M730.62,212.69a2.62,2.62 0 1,0 5.24,0a2.62,2.62 0 1,0 -5.24,0M740.91,212.69a2.62,2.62 0 1,0 5.24,0a2.62,2.62 0 1,0 -5.24,0M751.21,212.69a2.62,2.62 0 1,0 5.24,0a2.62,2.62 0 1,0 -5.24,0M761.5,212.69a2.62,2.62 0 1,0 5.24,0a2.62,2.62 0 1,0 -5.24,0M771.8,212.69a2.62,2.62 0 1,0 5.24,0a2.62,2.62 0 1,0 -5.24,0M782.09,212.69a2.62,2.62 0 1,0 5.24,0a2.62,2.62 0 1,0 -5.24,0M792.39,212.69a2.62,2.62 0 1,0 5.24,0a2.62,2.62 0 1,0 -5.24,0M802.68,212.69a2.62,2.62 0 1,0 5.24,0a2.62,2.62 0 1,0 -5.24,0M812.98,212.69a2.62,2.62 0 1,0 5.24,0a2.62,2.62 0 1,0 -5.24,0M823.27,212.69a2.62,2.62 0 1,0 5.24,0a2.62,2.62 0 1,0 -5.24,0M833.57,212.69a2.62,2.62 0 1,0 5.24,0a2.62,2.62 0 1,0 -5.24,0M843.87,212.69a2.62,2.62 0 1,0 5.24,0a2.62,2.62 0 1,0 -5.24,0M854.16,212.69a2.62,2.62 0 1,0 5.24,0a2.62,2.62 0 1,0 -5.24,0M864.46,212.69a2.62,2.62 0 1,0 5.24,0a2.62,2.62 0 1,0 -5.24,0M874.75,212.69a2.62,2.62 0 1,0 5.24,0a2.62,2.62 0 1,0 -5.24,0M885.04,212.69a2.62,2.62 0 1,0 5.24,0a2.62,2.62 0 1,0 -5.24,0M895.34,212.69a2.62,2.62 0 1,0 5.24,0a2.62,2.62 0 1,0 -5.24,0M905.63,212.69a2.62,2.62 0 1,0 5.24,0a2.62,2.62 0 1,0 -5.24,0M915.93,212.69a2.62,2.62 0 1,0 5.24,0a2.62,2.62 0 1,0 -5.24,0M926.23,212.69a2.62,2.62 0 1,0 5.24,0a2.62,2.62 0 1,0 -5.24,0M936.52,212.69a2.62,2.62 0 1,0 5.24,0a2.62,2.62 0 1,0 -5.24,0M946.81,212.69a2.62,2.62 0 1,0 5.24,0a2.62,2.62 0 1,0 -5.24,0M704.88,221.59a2.62,2.62 0 1,0 5.24,0a2.62,2.62 0 1,0 -5.24,0M715.17,221.59a2.62,2.62 0 1,0 5.24,0a2.62,2.62 0 1,0 -5.24,0M725.47,221.59a2.62,2.62 0 1,0 5.24,0a2.62,2.62 0 1,0 -5.24,0M735.76,221.59a2.62,2.62 0 1,0 5.24,0a2.62,2.62 0 1,0 -5.24,0M746.06,221.59a2.62,2.62 0 1,0 5.24,0a2.62,2.62 0 1,0 -5.24,0M756.36,221.59a2.62,2.62 0 1,0 5.24,0a2.62,2.62 0 1,0 -5.24,0M766.65,221.59a2.62,2.62 0 1,0 5.24,0a2.62,2.62 0 1,0 -5.24,0M776.95,221.59a2.62,2.62 0 1,0 5.24,0a2.62,2.62 0 1,0 -5.24,0M787.24,221.59a2.62,2.62 0 1,0 5.24,0a2.62,2.62 0 1,0 -5.24,0M797.53,221.59a2.62,2.62 0 1,0 5.24,0a2.62,2.62 0 1,0 -5.24,0M807.83,221.59a2.62,2.62 0 1,0 5.24,0a2.62,2.62 0 1,0 -5.24,0M818.12,221.59a2.62,2.62 0 1,0 5.24,0a2.62,2.62 0 1,0 -5.24,0M828.42,221.59a2.62,2.62 0 1,0 5.24,0a2.62,2.62 0 1,0 -5.24,0M838.72,221.59a2.62,2.62 0 1,0 5.24,0a2.62,2.62 0 1,0 -5.24,0M849.01,221.59a2.62,2.62 0 1,0 5.24,0a2.62,2.62 0 1,0 -5.24,0M859.3,221.59a2.62,2.62 0 1,0 5.24,0a2.62,2.62 0 1,0 -5.24,0M869.6,221.59a2.62,2.62 0 1,0 5.24,0a2.62,2.62 0 1,0 -5.24,0M879.89,221.59a2.62,2.62 0 1,0 5.24,0a2.62,2.62 0 1,0 -5.24,0M890.19,221.59a2.62,2.62 0 1,0 5.24,0a2.62,2.62 0 1,0 -5.24,0M900.49,221.59a2.62,2.62 0 1,0 5.24,0a2.62,2.62 0 1,0 -5.24,0M910.78,221.59a2.62,2.62 0 1,0 5.24,0a2.62,2.62 0 1,0 -5.24,0M921.07,221.59a2.62,2.62 0 1,0 5.24,0a2.62,2.62 0 1,0 -5.24,0M931.37,221.59a2.62,2.62 0 1,0 5.24,0a2.62,2.62 0 1,0 -5.24,0M941.66,221.59a2.62,2.62 0 1,0 5.24,0a2.62,2.62 0 1,0 -5.24,0M951.96,221.59a2.62,2.62 0 1,0 5.24,0a2.62,2.62 0 1,0 -5.24,0M710.03,230.5a2.62,2.62 0 1,0 5.24,0a2.62,2.62 0 1,0 -5.24,0M720.32,230.5a2.62,2.62 0 1,0 5.24,0a2.62,2.62 0 1,0 -5.24,0M730.62,230.5a2.62,2.62 0 1,0 5.24,0a2.62,2.62 0 1,0 -5.24,0M740.91,230.5a2.62,2.62 0 1,0 5.24,0a2.62,2.62 0 1,0 -5.24,0M751.21,230.5a2.62,2.62 0 1,0 5.24,0a2.62,2.62 0 1,0 -5.24,0M761.5,230.5a2.62,2.62 0 1,0 5.24,0a2.62,2.62 0 1,0 -5.24,0M771.8,230.5a2.62,2.62 0 1,0 5.24,0a2.62,2.62 0 1,0 -5.24,0M782.09,230.5a2.62,2.62 0 1,0 5.24,0a2.62,2.62 0 1,0 -5.24,0M792.39,230.5a2.62,2.62 0 1,0 5.24,0a2.62,2.62 0 1,0 -5.24,0M802.68,230.5a2.62,2.62 0 1,0 5.24,0a2.62,2.62 0 1,0 -5.24,0M812.98,230.5a2.62,2.62 0 1,0 5.24,0a2.62,2.62 0 1,0 -5.24,0M823.27,230.5a2.62,2.62 0 1,0 5.24,0a2.62,2.62 0 1,0 -5.24,0M833.57,230.5a2.62,2.62 0 1,0 5.24,0a2.62,2.62 0 1,0 -5.24,0M843.87,230.5a2.62,2.62 0 1,0 5.24,0a2.62,2.62 0 1,0 -5.24,0M854.16,230.5a2.62,2.62 0 1,0 5.24,0a2.62,2.62 0 1,0 -5.24,0M864.46,230.5a2.62,2.62 0 1,0 5.24,0a2.62,2.62 0 1,0 -5.24,0M874.75,230.5a2.62,2.62 0 1,0 5.24,0a2.62,2.62 0 1,0 -5.24,0M885.04,230.5a2.62,2.62 0 1,0 5.24,0a2.62,2.62 0 1,0 -5.24,0M895.34,230.5a2.62,2.62 0 1,0 5.24,0a2.62,2.62 0 1,0 -5.24,0M905.63,230.5a2.62,2.62 0 1,0 5.24,0a2.62,2.62 0 1,0 -5.24,0M915.93,230.5a2.62,2.62 0 1,0 5.24,0a2.62,2.62 0 1,0 -5.24,0M926.23,230.5a2.62,2.62 0 1,0 5.24,0a2.62,2.62 0 1,0 -5.24,0M936.52,230.5a2.62,2.62 0 1,0 5.24,0a2.62,2.62 0 1,0 -5.24,0M946.81,230.5a2.62,2.62 0 1,0 5.24,0a2.62,2.62 0 1,0 -5.24,0M704.88,239.4a2.62,2.62 0 1,0 5.24,0a2.62,2.62 0 1,0 -5.24,0M715.17,239.4a2.62,2.62 0 1,0 5.24,0a2.62,2.62 0 1,0 -5.24,0M725.47,239.4a2.62,2.62 0 1,0 5.24,0a2.62,2.62 0 1,0 -5.24,0M735.76,239.4a2.62,2.62 0 1,0 5.24,0a2.62,2.62 0 1,0 -5.24,0M746.06,239.4a2.62,2.62 0 1,0 5.24,0a2.62,2.62 0 1,0 -5.24,0M756.36,239.4a2.62,2.62 0 1,0 5.24,0a2.62,2.62 0 1,0 -5.24,0M766.65,239.4a2.62,2.62 0 1,0 5.24,0a2.62,2.62 0 1,0 -5.24,0M776.95,239.4a2.62,2.62 0 1,0 5.24,0a2.62,2.62 0 1,0 -5.24,0M787.24,239.4a2.62,2.62 0 1,0 5.24,0a2.62,2.62 0 1,0 -5.24,0M797.53,239.4a2.62,2.62 0 1,0 5.24,0a2.62,2.62 0 1,0 -5.24,0M807.83,239.4a2.62,2.62 0 1,0 5.24,0a2.62,2.62 0 1,0 -5.24,0M818.12,239.4a2.62,2.62 0 1,0 5.24,0a2.62,2.62 0 1,0 -5.24,0M828.42,239.4a2.62,2.62 0 1,0 5.24,0a2.62,2.62 0 1,0 -5.24,0M838.72,239.4a2.62,2.62 0 1,0 5.24,0a2.62,2.62 0 1,0 -5.24,0M849.01,239.4a2.62,2.62 0 1,0 5.24,0a2.62,2.62 0 1,0 -5.24,0M859.3,239.4a2.62,2.62 0 1,0 5.24,0a2.62,2.62 0 1,0 -5.24,0M869.6,239.4a2.62,2.62 0 1,0 5.24,0a2.62,2.62 0 1,0 -5.24,0M879.89,239.4a2.62,2.62 0 1,0 5.24,0a2.62,2.62 0 1,0 -5.24,0M890.19,239.4a2.62,2.62 0 1,0 5.24,0a2.62,2.62 0 1,0 -5.24,0M900.49,239.4a2.62,2.62 0 1,0 5.24,0a2.62,2.62 0 1,0 -5.24,0M910.78,239.4a2.62,2.62 0 1,0 5.24,0a2.62,2.62 0 1,0 -5.24,0M921.07,239.4a2.62,2.62 0 1,0 5.24,0a2.62,2.62 0 1,0 -5.24,0M931.37,239.4a2.62,2.62 0 1,0 5.24,0a2.62,2.62 0 1,0 -5.24,0M941.66,239.4a2.62,2.62 0 1,0 5.24,0a2.62,2.62 0 1,0 -5.24,0M951.96,239.4a2.62,2.62 0 1,0 5.24,0a2.62,2.62 0 1,0 -5.24,0M710.03,248.31a2.62,2.62 0 1,0 5.24,0a2.62,2.62 0 1,0 -5.24,0M720.32,248.31a2.62,2.62 0 1,0 5.24,0a2.62,2.62 0 1,0 -5.24,0M730.62,248.31a2.62,2.62 0 1,0 5.24,0a2.62,2.62 0 1,0 -5.24,0M740.91,248.31a2.62,2.62 0 1,0 5.24,0a2.62,2.62 0 1,0 -5.24,0M751.21,248.31a2.62,2.62 0 1,0 5.24,0a2.62,2.62 0 1,0 -5.24,0M761.5,248.31a2.62,2.62 0 1,0 5.24,0a2.62,2.62 0 1,0 -5.24,0M771.8,248.31a2.62,2.62 0 1,0 5.24,0a2.62,2.62 0 1,0 -5.24,0M782.09,248.31a2.62,2.62 0 1,0 5.24,0a2.62,2.62 0 1,0 -5.24,0M792.39,248.31a2.62,2.62 0 1,0 5.24,0a2.62,2.62 0 1,0 -5.24,0M802.68,248.31a2.62,2.62 0 1,0 5.24,0a2.62,2.62 0 1,0 -5.24,0M812.98,248.31a2.62,2.62 0 1,0 5.24,0a2.62,2.62 0 1,0 -5.24,0M823.27,248.31a2.62,2.62 0 1,0 5.24,0a2.62,2.62 0 1,0 -5.24,0M833.57,248.31a2.62,2.62 0 1,0 5.24,0a2.62,2.62 0 1,0 -5.24,0M843.87,248.31a2.62,2.62 0 1,0 5.24,0a2.62,2.62 0 1,0 -5.24,0M854.16,248.31a2.62,2.62 0 1,0 5.24,0a2.62,2.62 0 1,0 -5.24,0M864.46,248.31a2.62,2.62 0 1,0 5.24,0a2.62,2.62 0 1,0 -5.24,0M874.75,248.31a2.62,2.62 0 1,0 5.24,0a2.62,2.62 0 1,0 -5.24,0M885.04,248.31a2.62,2.62 0 1,0 5.24,0a2.62,2.62 0 1,0 -5.24,0M895.34,248.31a2.62,2.62 0 1,0 5.24,0a2.62,2.62 0 1,0 -5.24,0M905.63,248.31a2.62,2.62 0 1,0 5.24,0a2.62,2.62 0 1,0 -5.24,0M915.93,248.31a2.62,2.62 0 1,0 5.24,0a2.62,2.62 0 1,0 -5.24,0M926.23,248.31a2.62,2.62 0 1,0 5.24,0a2.62,2.62 0 1,0 -5.24,0M936.52,248.31a2.62,2.62 0 1,0 5.24,0a2.62,2.62 0 1,0 -5.24,0M946.81,248.31a2.62,2.62 0 1,0 5.24,0a2.62,2.62 0 1,0 -5.24,0M704.88,257.21a2.62,2.62 0 1,0 5.24,0a2.62,2.62 0 1,0 -5.24,0M715.17,257.21a2.62,2.62 0 1,0 5.24,0a2.62,2.62 0 1,0 -5.24,0M725.47,257.21a2.62,2.62 0 1,0 5.24,0a2.62,2.62 0 1,0 -5.24,0M735.76,257.21a2.62,2.62 0 1,0 5.24,0a2.62,2.62 0 1,0 -5.24,0M746.06,257.21a2.62,2.62 0 1,0 5.24,0a2.62,2.62 0 1,0 -5.24,0M756.36,257.21a2.62,2.62 0 1,0 5.24,0a2.62,2.62 0 1,0 -5.24,0M766.65,257.21a2.62,2.62 0 1,0 5.24,0a2.62,2.62 0 1,0 -5.24,0M776.95,257.21a2.62,2.62 0 1,0 5.24,0a2.62,2.62 0 1,0 -5.24,0M787.24,257.21a2.62,2.62 0 1,0 5.24,0a2.62,2.62 0 1,0 -5.24,0M797.53,257.21a2.62,2.62 0 1,0 5.24,0a2.62,2.62 0 1,0 -5.24,0M807.83,257.21a2.62,2.62 0 1,0 5.24,0a2.62,2.62 0 1,0 -5.24,0M818.12,257.21a2.62,2.62 0 1,0 5.24,0a2.62,2.62 0 1,0 -5.24,0M828.42,257.21a2.62,2.62 0 1,0 5.24,0a2.62,2.62 0 1,0 -5.24,0M838.72,257.21a2.62,2.62 0 1,0 5.24,0a2.62,2.62 0 1,0 -5.24,0M849.01,257.21a2.62,2.62 0 1,0 5.24,0a2.62,2.62 0 1,0 -5.24,0M859.3,257.21a2.62,2.62 0 1,0 5.24,0a2.62,2.62 0 1,0 -5.24,0M869.6,257.21a2.62,2.62 0 1,0 5.24,0a2.62,2.62 0 1,0 -5.24,0M879.89,257.21a2.62,2.62 0 1,0 5.24,0a2.62,2.62 0 1,0 -5.24,0M890.19,257.21a2.62,2.62 0 1,0 5.24,0a2.62,2.62 0 1,0 -5.24,0M900.49,257.21a2.62,2.62 0 1,0 5.24,0a2.62,2.62 0 1,0 -5.24,0M910.78,257.21a2.62,2.62 0 1,0 5.24,0a2.62,2.62 0 1,0 -5.24,0M921.07,257.21a2.62,2.62 0 1,0 5.24,0a2.62,2.62 0 1,0 -5.24,0M931.37,257.21a2.62,2.62 0 1,0 5.24,0a2.62,2.62 0 1,0 -5.24,0M941.66,257.21a2.62,2.62 0 1,0 5.24,0a2.62,2.62 0 1,0 -5.24,0M951.96,257.21a2.62,2.62 0 1,0 5.24,0a2.62,2.62 0 1,0 -5.24,0" stroke="#1c1c1c" stroke-width="0.9" fill="none"/>
<path d="M705.1,238.8a2.5,2.5 0 0,1 4.8,0ZM715.39,238.8a2.5,2.5 0 0,1 4.8,0ZM725.69,238.8a2.5,2.5 0 0,1 4.8,0ZM735.99,238.8a2.5,2.5 0 0,1 4.8,0ZM746.28,238.8a2.5,2.5 0 0,1 4.8,0ZM756.58,238.8a2.5,2.5 0 0,1 4.8,0ZM766.87,238.8a2.5,2.5 0 0,1 4.8,0ZM777.17,238.8a2.5,2.5 0 0,1 4.8,0ZM787.46,238.8a2.5,2.5 0 0,1 4.8,0ZM797.75,238.8a2.5,2.5 0 0,1 4.8,0ZM808.05,238.8a2.5,2.5 0 0,1 4.8,0ZM818.35,238.8a2.5,2.5 0 0,1 4.8,0ZM828.64,238.8a2.5,2.5 0 0,1 4.8,0ZM838.94,238.8a2.5,2.5 0 0,1 4.8,0ZM849.23,238.8a2.5,2.5 0 0,1 4.8,0ZM859.52,238.8a2.5,2.5 0 0,1 4.8,0ZM869.82,238.8a2.5,2.5 0 0,1 4.8,0ZM880.12,238.8a2.5,2.5 0 0,1 4.8,0ZM890.41,238.8a2.5,2.5 0 0,1 4.8,0ZM900.71,238.8a2.5,2.5 0 0,1 4.8,0ZM911,238.8a2.5,2.5 0 0,1 4.8,0ZM921.29,238.8a2.5,2.5 0 0,1 4.8,0ZM931.59,238.8a2.5,2.5 0 0,1 4.8,0ZM941.88,238.8a2.5,2.5 0 0,1 4.8,0ZM952.18,238.8a2.5,2.5 0 0,1 4.8,0Z" fill="#1c1c1c" stroke="none"/>
<line x1="722.94" y1="174.66" x2="722.94" y2="179.47" stroke="#1c1c1c" stroke-width="1.0" />
<line x1="939.14" y1="174.66" x2="939.14" y2="179.47" stroke="#1c1c1c" stroke-width="1.0" />
<path d="M743.53,174.76a2.3,2.3 0 0,0 0,4.6" fill="none" stroke="#1c1c1c" stroke-width="1.4"/>
<path d="M918.55,174.76a2.3,2.3 0 0,1 0,4.6" fill="none" stroke="#1c1c1c" stroke-width="1.4"/>
<line x1="722.94" y1="192.47" x2="722.94" y2="197.28" stroke="#1c1c1c" stroke-width="1.0" />
<line x1="939.14" y1="192.47" x2="939.14" y2="197.28" stroke="#1c1c1c" stroke-width="1.0" />
<path d="M743.53,192.57a2.3,2.3 0 0,0 0,4.6" fill="none" stroke="#1c1c1c" stroke-width="1.4"/>
<path d="M918.55,192.57a2.3,2.3 0 0,1 0,4.6" fill="none" stroke="#1c1c1c" stroke-width="1.4"/>
<line x1="722.94" y1="210.28" x2="722.94" y2="215.09" stroke="#1c1c1c" stroke-width="1.0" />
<line x1="939.14" y1="210.28" x2="939.14" y2="215.09" stroke="#1c1c1c" stroke-width="1.0" />
<path d="M743.53,210.38a2.3,2.3 0 0,0 0,4.6" fill="none" stroke="#1c1c1c" stroke-width="1.4"/>
<path d="M918.55,210.38a2.3,2.3 0 0,1 0,4.6" fill="none" stroke="#1c1c1c" stroke-width="1.4"/>
<path d="M733.24,177.06L731.55,176.45A1.8,1.8 0 0,1 733.86,175.37Z" fill="#1c1c1c"/>
<path d="M928.85,177.06L928.23,175.37A1.8,1.8 0 0,1 930.54,176.45Z" fill="#1c1c1c"/>
<path d="M733.24,194.88L731.55,194.26A1.8,1.8 0 0,1 733.86,193.18Z" fill="#1c1c1c"/>
<path d="M928.85,194.88L928.23,193.18A1.8,1.8 0 0,1 930.54,194.26Z" fill="#1c1c1c"/>
<circle cx="722.94" cy="230.5" r="2.4" fill="#1c1c1c"/>
<path d="M722.94,230.5L722.94,228.5A2.0,2.0 0 0,1 724.94,230.5Z" fill="#1c1c1c"/>
<path d="M722.94,230.5L724.94,230.5A2,2 0 0,0 722.94,228.5Z" fill="#fff"/>
<circle cx="939.14" cy="230.5" r="2.4" fill="#1c1c1c"/>
<path d="M939.14,230.5L941.14,230.5A2,2 0 0,0 939.14,228.5Z" fill="#fff"/>
<path d="M743.53,230.5L743.53,232.8A2.3,2.3 0 0,1 741.24,230.5Z" fill="#1c1c1c"/>
<path d="M918.55,230.5L920.85,230.5A2.3,2.3 0 0,1 918.55,232.8Z" fill="#1c1c1c"/>
<path d="M712.65,248.31L712.65,250.61A2.3,2.3 0 0,1 710.35,248.31Z" fill="#1c1c1c"/>
<path d="M949.43,248.31L951.73,248.31A2.3,2.3 0 0,1 949.43,250.61Z" fill="#1c1c1c"/>
<circle cx="722.94" cy="248.31" r="2.6" fill="#1c1c1c"/>
<circle cx="939.14" cy="248.31" r="2.6" fill="#1c1c1c"/>
<path d="M733.24,248.31L731.04,248.31A2.2,2.2 0 0,1 733.24,246.11Z" fill="#1c1c1c"/>
<path d="M928.85,248.31L928.85,246.11A2.2,2.2 0 0,1 931.05,248.31Z" fill="#1c1c1c"/>
<path d="M743.53,246a2.3,2.3 0 0,0 0,4.6Z" fill="#1c1c1c"/>
<path d="M918.55,246a2.3,2.3 0 0,1 0,4.6Z" fill="#1c1c1c"/>
<path d="M738.38,254.91a2.3,2.3 0 0,1 0,4.6Z" fill="#1c1c1c"/>
<path d="M923.69,254.91a2.3,2.3 0 0,0 0,4.6Z" fill="#1c1c1c"/>
<line x1="948.5" y1="245" x2="956.5" y2="244.6" stroke="#888" stroke-width="0.6" />
<path d="M698,267L702.3,267L701.7,269.2L698.6,269.2Z" fill="#111"/>
<path d="M960.6,267L964.9,267L964.3,269.2L961.2,269.2Z" fill="#111"/>
<line x1="697.4" y1="40.5" x2="697.4" y2="51" stroke="#85a47a" stroke-width="1.25" />
<line x1="965.5" y1="40.5" x2="965.5" y2="51" stroke="#85a47a" stroke-width="1.25" />
<line x1="697.4" y1="43.8" x2="965.5" y2="43.8" stroke="#85a47a" stroke-width="1.25" />
<path transform="translate(697.4,43.8) rotate(180)" d="M0,0L-12.5,-1.9L-10.7,0L-12.5,1.9Z" fill="#1e5a12" stroke="none"/>
<path transform="translate(965.5,43.8) rotate(0)" d="M0,0L-12.5,-1.9L-10.7,0L-12.5,1.9Z" fill="#1e5a12" stroke="none"/>
<g transform="translate(826.77,28.77) rotate(0)" fill="none" stroke="#4d7340" stroke-width="1.05" stroke-linejoin="round" stroke-linecap="round"><path vector-effect="non-scaling-stroke" transform="translate(0,0) scale(1.34,1.07)" d="M0,10L2.5,0L5,10M0.85,6.9L4.15,6.9"/></g>
<line x1="680" y1="51.2" x2="697.4" y2="51.2" stroke="#85a47a" stroke-width="1.25" />
<line x1="680" y1="266.8" x2="697.4" y2="266.8" stroke="#85a47a" stroke-width="1.25" />
<line x1="683" y1="51.2" x2="683" y2="266.8" stroke="#85a47a" stroke-width="1.25" />
<path transform="translate(683,51.2) rotate(-90)" d="M0,0L-12.5,-1.9L-10.7,0L-12.5,1.9Z" fill="#1e5a12" stroke="none"/>
<path transform="translate(683,266.8) rotate(90)" d="M0,0L-12.5,-1.9L-10.7,0L-12.5,1.9Z" fill="#1e5a12" stroke="none"/>
<g transform="translate(667.42,155.38) rotate(-90)" fill="none" stroke="#4d7340" stroke-width="1.05" stroke-linejoin="round" stroke-linecap="round"><path vector-effect="non-scaling-stroke" transform="translate(0,0) scale(1.19,1.12)" d="M0,0L0,10L2.7,10Q5,10 5,7.3Q5,4.8 2.7,4.8L0,4.8M2.7,4.8Q4.7,4.8 4.7,2.4Q4.7,0 2.5,0L0,0"/></g>
<rect x="1057.8" y="51.2" width="133.6" height="215.6" rx="0" stroke="#000" stroke-width="1.25" fill="none"/>
<line x1="1185" y1="51.2" x2="1185" y2="266.8" stroke="#1a1a1a" stroke-width="1.0" />
<path d="M1067.38,61.3a2.62,2.62 0 1,0 5.24,0a2.62,2.62 0 1,0 -5.24,0M1077.68,61.3a2.62,2.62 0 1,0 5.24,0a2.62,2.62 0 1,0 -5.24,0M1087.97,61.3a2.62,2.62 0 1,0 5.24,0a2.62,2.62 0 1,0 -5.24,0M1098.27,61.3a2.62,2.62 0 1,0 5.24,0a2.62,2.62 0 1,0 -5.24,0M1108.56,61.3a2.62,2.62 0 1,0 5.24,0a2.62,2.62 0 1,0 -5.24,0M1118.86,61.3a2.62,2.62 0 1,0 5.24,0a2.62,2.62 0 1,0 -5.24,0M1129.15,61.3a2.62,2.62 0 1,0 5.24,0a2.62,2.62 0 1,0 -5.24,0M1139.45,61.3a2.62,2.62 0 1,0 5.24,0a2.62,2.62 0 1,0 -5.24,0M1149.74,61.3a2.62,2.62 0 1,0 5.24,0a2.62,2.62 0 1,0 -5.24,0M1160.04,61.3a2.62,2.62 0 1,0 5.24,0a2.62,2.62 0 1,0 -5.24,0M1170.33,61.3a2.62,2.62 0 1,0 5.24,0a2.62,2.62 0 1,0 -5.24,0M1072.53,70.2a2.62,2.62 0 1,0 5.24,0a2.62,2.62 0 1,0 -5.24,0M1082.83,70.2a2.62,2.62 0 1,0 5.24,0a2.62,2.62 0 1,0 -5.24,0M1093.12,70.2a2.62,2.62 0 1,0 5.24,0a2.62,2.62 0 1,0 -5.24,0M1103.42,70.2a2.62,2.62 0 1,0 5.24,0a2.62,2.62 0 1,0 -5.24,0M1113.71,70.2a2.62,2.62 0 1,0 5.24,0a2.62,2.62 0 1,0 -5.24,0M1124.01,70.2a2.62,2.62 0 1,0 5.24,0a2.62,2.62 0 1,0 -5.24,0M1134.3,70.2a2.62,2.62 0 1,0 5.24,0a2.62,2.62 0 1,0 -5.24,0M1144.6,70.2a2.62,2.62 0 1,0 5.24,0a2.62,2.62 0 1,0 -5.24,0M1154.89,70.2a2.62,2.62 0 1,0 5.24,0a2.62,2.62 0 1,0 -5.24,0M1165.19,70.2a2.62,2.62 0 1,0 5.24,0a2.62,2.62 0 1,0 -5.24,0M1067.38,79.11a2.62,2.62 0 1,0 5.24,0a2.62,2.62 0 1,0 -5.24,0M1077.68,79.11a2.62,2.62 0 1,0 5.24,0a2.62,2.62 0 1,0 -5.24,0M1087.97,79.11a2.62,2.62 0 1,0 5.24,0a2.62,2.62 0 1,0 -5.24,0M1098.27,79.11a2.62,2.62 0 1,0 5.24,0a2.62,2.62 0 1,0 -5.24,0M1108.56,79.11a2.62,2.62 0 1,0 5.24,0a2.62,2.62 0 1,0 -5.24,0M1118.86,79.11a2.62,2.62 0 1,0 5.24,0a2.62,2.62 0 1,0 -5.24,0M1129.15,79.11a2.62,2.62 0 1,0 5.24,0a2.62,2.62 0 1,0 -5.24,0M1139.45,79.11a2.62,2.62 0 1,0 5.24,0a2.62,2.62 0 1,0 -5.24,0M1149.74,79.11a2.62,2.62 0 1,0 5.24,0a2.62,2.62 0 1,0 -5.24,0M1160.04,79.11a2.62,2.62 0 1,0 5.24,0a2.62,2.62 0 1,0 -5.24,0M1170.33,79.11a2.62,2.62 0 1,0 5.24,0a2.62,2.62 0 1,0 -5.24,0M1072.53,88.01a2.62,2.62 0 1,0 5.24,0a2.62,2.62 0 1,0 -5.24,0M1082.83,88.01a2.62,2.62 0 1,0 5.24,0a2.62,2.62 0 1,0 -5.24,0M1093.12,88.01a2.62,2.62 0 1,0 5.24,0a2.62,2.62 0 1,0 -5.24,0M1103.42,88.01a2.62,2.62 0 1,0 5.24,0a2.62,2.62 0 1,0 -5.24,0M1113.71,88.01a2.62,2.62 0 1,0 5.24,0a2.62,2.62 0 1,0 -5.24,0M1124.01,88.01a2.62,2.62 0 1,0 5.24,0a2.62,2.62 0 1,0 -5.24,0M1134.3,88.01a2.62,2.62 0 1,0 5.24,0a2.62,2.62 0 1,0 -5.24,0M1144.6,88.01a2.62,2.62 0 1,0 5.24,0a2.62,2.62 0 1,0 -5.24,0M1154.89,88.01a2.62,2.62 0 1,0 5.24,0a2.62,2.62 0 1,0 -5.24,0M1165.19,88.01a2.62,2.62 0 1,0 5.24,0a2.62,2.62 0 1,0 -5.24,0M1067.38,96.92a2.62,2.62 0 1,0 5.24,0a2.62,2.62 0 1,0 -5.24,0M1077.68,96.92a2.62,2.62 0 1,0 5.24,0a2.62,2.62 0 1,0 -5.24,0M1087.97,96.92a2.62,2.62 0 1,0 5.24,0a2.62,2.62 0 1,0 -5.24,0M1098.27,96.92a2.62,2.62 0 1,0 5.24,0a2.62,2.62 0 1,0 -5.24,0M1108.56,96.92a2.62,2.62 0 1,0 5.24,0a2.62,2.62 0 1,0 -5.24,0M1118.86,96.92a2.62,2.62 0 1,0 5.24,0a2.62,2.62 0 1,0 -5.24,0M1129.15,96.92a2.62,2.62 0 1,0 5.24,0a2.62,2.62 0 1,0 -5.24,0M1139.45,96.92a2.62,2.62 0 1,0 5.24,0a2.62,2.62 0 1,0 -5.24,0M1149.74,96.92a2.62,2.62 0 1,0 5.24,0a2.62,2.62 0 1,0 -5.24,0M1160.04,96.92a2.62,2.62 0 1,0 5.24,0a2.62,2.62 0 1,0 -5.24,0M1170.33,96.92a2.62,2.62 0 1,0 5.24,0a2.62,2.62 0 1,0 -5.24,0M1072.53,105.82a2.62,2.62 0 1,0 5.24,0a2.62,2.62 0 1,0 -5.24,0M1082.83,105.82a2.62,2.62 0 1,0 5.24,0a2.62,2.62 0 1,0 -5.24,0M1093.12,105.82a2.62,2.62 0 1,0 5.24,0a2.62,2.62 0 1,0 -5.24,0M1103.42,105.82a2.62,2.62 0 1,0 5.24,0a2.62,2.62 0 1,0 -5.24,0M1113.71,105.82a2.62,2.62 0 1,0 5.24,0a2.62,2.62 0 1,0 -5.24,0M1124.01,105.82a2.62,2.62 0 1,0 5.24,0a2.62,2.62 0 1,0 -5.24,0M1134.3,105.82a2.62,2.62 0 1,0 5.24,0a2.62,2.62 0 1,0 -5.24,0M1144.6,105.82a2.62,2.62 0 1,0 5.24,0a2.62,2.62 0 1,0 -5.24,0M1154.89,105.82a2.62,2.62 0 1,0 5.24,0a2.62,2.62 0 1,0 -5.24,0M1165.19,105.82a2.62,2.62 0 1,0 5.24,0a2.62,2.62 0 1,0 -5.24,0M1067.38,114.73a2.62,2.62 0 1,0 5.24,0a2.62,2.62 0 1,0 -5.24,0M1077.68,114.73a2.62,2.62 0 1,0 5.24,0a2.62,2.62 0 1,0 -5.24,0M1087.97,114.73a2.62,2.62 0 1,0 5.24,0a2.62,2.62 0 1,0 -5.24,0M1098.27,114.73a2.62,2.62 0 1,0 5.24,0a2.62,2.62 0 1,0 -5.24,0M1108.56,114.73a2.62,2.62 0 1,0 5.24,0a2.62,2.62 0 1,0 -5.24,0M1118.86,114.73a2.62,2.62 0 1,0 5.24,0a2.62,2.62 0 1,0 -5.24,0M1129.15,114.73a2.62,2.62 0 1,0 5.24,0a2.62,2.62 0 1,0 -5.24,0M1139.45,114.73a2.62,2.62 0 1,0 5.24,0a2.62,2.62 0 1,0 -5.24,0M1149.74,114.73a2.62,2.62 0 1,0 5.24,0a2.62,2.62 0 1,0 -5.24,0M1160.04,114.73a2.62,2.62 0 1,0 5.24,0a2.62,2.62 0 1,0 -5.24,0M1170.33,114.73a2.62,2.62 0 1,0 5.24,0a2.62,2.62 0 1,0 -5.24,0M1072.53,123.63a2.62,2.62 0 1,0 5.24,0a2.62,2.62 0 1,0 -5.24,0M1082.83,123.63a2.62,2.62 0 1,0 5.24,0a2.62,2.62 0 1,0 -5.24,0M1093.12,123.63a2.62,2.62 0 1,0 5.24,0a2.62,2.62 0 1,0 -5.24,0M1103.42,123.63a2.62,2.62 0 1,0 5.24,0a2.62,2.62 0 1,0 -5.24,0M1113.71,123.63a2.62,2.62 0 1,0 5.24,0a2.62,2.62 0 1,0 -5.24,0M1124.01,123.63a2.62,2.62 0 1,0 5.24,0a2.62,2.62 0 1,0 -5.24,0M1134.3,123.63a2.62,2.62 0 1,0 5.24,0a2.62,2.62 0 1,0 -5.24,0M1144.6,123.63a2.62,2.62 0 1,0 5.24,0a2.62,2.62 0 1,0 -5.24,0M1154.89,123.63a2.62,2.62 0 1,0 5.24,0a2.62,2.62 0 1,0 -5.24,0M1165.19,123.63a2.62,2.62 0 1,0 5.24,0a2.62,2.62 0 1,0 -5.24,0M1067.38,132.54a2.62,2.62 0 1,0 5.24,0a2.62,2.62 0 1,0 -5.24,0M1077.68,132.54a2.62,2.62 0 1,0 5.24,0a2.62,2.62 0 1,0 -5.24,0M1087.97,132.54a2.62,2.62 0 1,0 5.24,0a2.62,2.62 0 1,0 -5.24,0M1098.27,132.54a2.62,2.62 0 1,0 5.24,0a2.62,2.62 0 1,0 -5.24,0M1108.56,132.54a2.62,2.62 0 1,0 5.24,0a2.62,2.62 0 1,0 -5.24,0M1118.86,132.54a2.62,2.62 0 1,0 5.24,0a2.62,2.62 0 1,0 -5.24,0M1129.15,132.54a2.62,2.62 0 1,0 5.24,0a2.62,2.62 0 1,0 -5.24,0M1139.45,132.54a2.62,2.62 0 1,0 5.24,0a2.62,2.62 0 1,0 -5.24,0M1149.74,132.54a2.62,2.62 0 1,0 5.24,0a2.62,2.62 0 1,0 -5.24,0M1160.04,132.54a2.62,2.62 0 1,0 5.24,0a2.62,2.62 0 1,0 -5.24,0M1170.33,132.54a2.62,2.62 0 1,0 5.24,0a2.62,2.62 0 1,0 -5.24,0M1072.53,141.44a2.62,2.62 0 1,0 5.24,0a2.62,2.62 0 1,0 -5.24,0M1082.83,141.44a2.62,2.62 0 1,0 5.24,0a2.62,2.62 0 1,0 -5.24,0M1093.12,141.44a2.62,2.62 0 1,0 5.24,0a2.62,2.62 0 1,0 -5.24,0M1103.42,141.44a2.62,2.62 0 1,0 5.24,0a2.62,2.62 0 1,0 -5.24,0M1113.71,141.44a2.62,2.62 0 1,0 5.24,0a2.62,2.62 0 1,0 -5.24,0M1124.01,141.44a2.62,2.62 0 1,0 5.24,0a2.62,2.62 0 1,0 -5.24,0M1134.3,141.44a2.62,2.62 0 1,0 5.24,0a2.62,2.62 0 1,0 -5.24,0M1144.6,141.44a2.62,2.62 0 1,0 5.24,0a2.62,2.62 0 1,0 -5.24,0M1154.89,141.44a2.62,2.62 0 1,0 5.24,0a2.62,2.62 0 1,0 -5.24,0M1165.19,141.44a2.62,2.62 0 1,0 5.24,0a2.62,2.62 0 1,0 -5.24,0M1067.38,150.35a2.62,2.62 0 1,0 5.24,0a2.62,2.62 0 1,0 -5.24,0M1077.68,150.35a2.62,2.62 0 1,0 5.24,0a2.62,2.62 0 1,0 -5.24,0M1087.97,150.35a2.62,2.62 0 1,0 5.24,0a2.62,2.62 0 1,0 -5.24,0M1098.27,150.35a2.62,2.62 0 1,0 5.24,0a2.62,2.62 0 1,0 -5.24,0M1108.56,150.35a2.62,2.62 0 1,0 5.24,0a2.62,2.62 0 1,0 -5.24,0M1118.86,150.35a2.62,2.62 0 1,0 5.24,0a2.62,2.62 0 1,0 -5.24,0M1129.15,150.35a2.62,2.62 0 1,0 5.24,0a2.62,2.62 0 1,0 -5.24,0M1139.45,150.35a2.62,2.62 0 1,0 5.24,0a2.62,2.62 0 1,0 -5.24,0M1149.74,150.35a2.62,2.62 0 1,0 5.24,0a2.62,2.62 0 1,0 -5.24,0M1160.04,150.35a2.62,2.62 0 1,0 5.24,0a2.62,2.62 0 1,0 -5.24,0M1170.33,150.35a2.62,2.62 0 1,0 5.24,0a2.62,2.62 0 1,0 -5.24,0M1072.53,159.25a2.62,2.62 0 1,0 5.24,0a2.62,2.62 0 1,0 -5.24,0M1082.83,159.25a2.62,2.62 0 1,0 5.24,0a2.62,2.62 0 1,0 -5.24,0M1093.12,159.25a2.62,2.62 0 1,0 5.24,0a2.62,2.62 0 1,0 -5.24,0M1103.42,159.25a2.62,2.62 0 1,0 5.24,0a2.62,2.62 0 1,0 -5.24,0M1113.71,159.25a2.62,2.62 0 1,0 5.24,0a2.62,2.62 0 1,0 -5.24,0M1124.01,159.25a2.62,2.62 0 1,0 5.24,0a2.62,2.62 0 1,0 -5.24,0M1134.3,159.25a2.62,2.62 0 1,0 5.24,0a2.62,2.62 0 1,0 -5.24,0M1144.6,159.25a2.62,2.62 0 1,0 5.24,0a2.62,2.62 0 1,0 -5.24,0M1154.89,159.25a2.62,2.62 0 1,0 5.24,0a2.62,2.62 0 1,0 -5.24,0M1165.19,159.25a2.62,2.62 0 1,0 5.24,0a2.62,2.62 0 1,0 -5.24,0M1067.38,168.16a2.62,2.62 0 1,0 5.24,0a2.62,2.62 0 1,0 -5.24,0M1077.68,168.16a2.62,2.62 0 1,0 5.24,0a2.62,2.62 0 1,0 -5.24,0M1087.97,168.16a2.62,2.62 0 1,0 5.24,0a2.62,2.62 0 1,0 -5.24,0M1098.27,168.16a2.62,2.62 0 1,0 5.24,0a2.62,2.62 0 1,0 -5.24,0M1108.56,168.16a2.62,2.62 0 1,0 5.24,0a2.62,2.62 0 1,0 -5.24,0M1118.86,168.16a2.62,2.62 0 1,0 5.24,0a2.62,2.62 0 1,0 -5.24,0M1129.15,168.16a2.62,2.62 0 1,0 5.24,0a2.62,2.62 0 1,0 -5.24,0M1139.45,168.16a2.62,2.62 0 1,0 5.24,0a2.62,2.62 0 1,0 -5.24,0M1149.74,168.16a2.62,2.62 0 1,0 5.24,0a2.62,2.62 0 1,0 -5.24,0M1160.04,168.16a2.62,2.62 0 1,0 5.24,0a2.62,2.62 0 1,0 -5.24,0M1170.33,168.16a2.62,2.62 0 1,0 5.24,0a2.62,2.62 0 1,0 -5.24,0M1072.53,177.06a2.62,2.62 0 1,0 5.24,0a2.62,2.62 0 1,0 -5.24,0M1082.83,177.06a2.62,2.62 0 1,0 5.24,0a2.62,2.62 0 1,0 -5.24,0M1093.12,177.06a2.62,2.62 0 1,0 5.24,0a2.62,2.62 0 1,0 -5.24,0M1103.42,177.06a2.62,2.62 0 1,0 5.24,0a2.62,2.62 0 1,0 -5.24,0M1113.71,177.06a2.62,2.62 0 1,0 5.24,0a2.62,2.62 0 1,0 -5.24,0M1124.01,177.06a2.62,2.62 0 1,0 5.24,0a2.62,2.62 0 1,0 -5.24,0M1134.3,177.06a2.62,2.62 0 1,0 5.24,0a2.62,2.62 0 1,0 -5.24,0M1144.6,177.06a2.62,2.62 0 1,0 5.24,0a2.62,2.62 0 1,0 -5.24,0M1154.89,177.06a2.62,2.62 0 1,0 5.24,0a2.62,2.62 0 1,0 -5.24,0M1165.19,177.06a2.62,2.62 0 1,0 5.24,0a2.62,2.62 0 1,0 -5.24,0M1067.38,185.97a2.62,2.62 0 1,0 5.24,0a2.62,2.62 0 1,0 -5.24,0M1077.68,185.97a2.62,2.62 0 1,0 5.24,0a2.62,2.62 0 1,0 -5.24,0M1087.97,185.97a2.62,2.62 0 1,0 5.24,0a2.62,2.62 0 1,0 -5.24,0M1098.27,185.97a2.62,2.62 0 1,0 5.24,0a2.62,2.62 0 1,0 -5.24,0M1108.56,185.97a2.62,2.62 0 1,0 5.24,0a2.62,2.62 0 1,0 -5.24,0M1118.86,185.97a2.62,2.62 0 1,0 5.24,0a2.62,2.62 0 1,0 -5.24,0M1129.15,185.97a2.62,2.62 0 1,0 5.24,0a2.62,2.62 0 1,0 -5.24,0M1139.45,185.97a2.62,2.62 0 1,0 5.24,0a2.62,2.62 0 1,0 -5.24,0M1149.74,185.97a2.62,2.62 0 1,0 5.24,0a2.62,2.62 0 1,0 -5.24,0M1160.04,185.97a2.62,2.62 0 1,0 5.24,0a2.62,2.62 0 1,0 -5.24,0M1170.33,185.97a2.62,2.62 0 1,0 5.24,0a2.62,2.62 0 1,0 -5.24,0M1072.53,194.88a2.62,2.62 0 1,0 5.24,0a2.62,2.62 0 1,0 -5.24,0M1082.83,194.88a2.62,2.62 0 1,0 5.24,0a2.62,2.62 0 1,0 -5.24,0M1093.12,194.88a2.62,2.62 0 1,0 5.24,0a2.62,2.62 0 1,0 -5.24,0M1103.42,194.88a2.62,2.62 0 1,0 5.24,0a2.62,2.62 0 1,0 -5.24,0M1113.71,194.88a2.62,2.62 0 1,0 5.24,0a2.62,2.62 0 1,0 -5.24,0M1124.01,194.88a2.62,2.62 0 1,0 5.24,0a2.62,2.62 0 1,0 -5.24,0M1134.3,194.88a2.62,2.62 0 1,0 5.24,0a2.62,2.62 0 1,0 -5.24,0M1144.6,194.88a2.62,2.62 0 1,0 5.24,0a2.62,2.62 0 1,0 -5.24,0M1154.89,194.88a2.62,2.62 0 1,0 5.24,0a2.62,2.62 0 1,0 -5.24,0M1165.19,194.88a2.62,2.62 0 1,0 5.24,0a2.62,2.62 0 1,0 -5.24,0M1067.38,203.78a2.62,2.62 0 1,0 5.24,0a2.62,2.62 0 1,0 -5.24,0M1077.68,203.78a2.62,2.62 0 1,0 5.24,0a2.62,2.62 0 1,0 -5.24,0M1087.97,203.78a2.62,2.62 0 1,0 5.24,0a2.62,2.62 0 1,0 -5.24,0M1098.27,203.78a2.62,2.62 0 1,0 5.24,0a2.62,2.62 0 1,0 -5.24,0M1108.56,203.78a2.62,2.62 0 1,0 5.24,0a2.62,2.62 0 1,0 -5.24,0M1118.86,203.78a2.62,2.62 0 1,0 5.24,0a2.62,2.62 0 1,0 -5.24,0M1129.15,203.78a2.62,2.62 0 1,0 5.24,0a2.62,2.62 0 1,0 -5.24,0M1139.45,203.78a2.62,2.62 0 1,0 5.24,0a2.62,2.62 0 1,0 -5.24,0M1149.74,203.78a2.62,2.62 0 1,0 5.24,0a2.62,2.62 0 1,0 -5.24,0M1160.04,203.78a2.62,2.62 0 1,0 5.24,0a2.62,2.62 0 1,0 -5.24,0M1170.33,203.78a2.62,2.62 0 1,0 5.24,0a2.62,2.62 0 1,0 -5.24,0M1072.53,212.69a2.62,2.62 0 1,0 5.24,0a2.62,2.62 0 1,0 -5.24,0M1082.83,212.69a2.62,2.62 0 1,0 5.24,0a2.62,2.62 0 1,0 -5.24,0M1093.12,212.69a2.62,2.62 0 1,0 5.24,0a2.62,2.62 0 1,0 -5.24,0M1103.42,212.69a2.62,2.62 0 1,0 5.24,0a2.62,2.62 0 1,0 -5.24,0M1113.71,212.69a2.62,2.62 0 1,0 5.24,0a2.62,2.62 0 1,0 -5.24,0M1124.01,212.69a2.62,2.62 0 1,0 5.24,0a2.62,2.62 0 1,0 -5.24,0M1134.3,212.69a2.62,2.62 0 1,0 5.24,0a2.62,2.62 0 1,0 -5.24,0M1144.6,212.69a2.62,2.62 0 1,0 5.24,0a2.62,2.62 0 1,0 -5.24,0M1154.89,212.69a2.62,2.62 0 1,0 5.24,0a2.62,2.62 0 1,0 -5.24,0M1165.19,212.69a2.62,2.62 0 1,0 5.24,0a2.62,2.62 0 1,0 -5.24,0M1067.38,221.59a2.62,2.62 0 1,0 5.24,0a2.62,2.62 0 1,0 -5.24,0M1077.68,221.59a2.62,2.62 0 1,0 5.24,0a2.62,2.62 0 1,0 -5.24,0M1087.97,221.59a2.62,2.62 0 1,0 5.24,0a2.62,2.62 0 1,0 -5.24,0M1098.27,221.59a2.62,2.62 0 1,0 5.24,0a2.62,2.62 0 1,0 -5.24,0M1108.56,221.59a2.62,2.62 0 1,0 5.24,0a2.62,2.62 0 1,0 -5.24,0M1118.86,221.59a2.62,2.62 0 1,0 5.24,0a2.62,2.62 0 1,0 -5.24,0M1129.15,221.59a2.62,2.62 0 1,0 5.24,0a2.62,2.62 0 1,0 -5.24,0M1139.45,221.59a2.62,2.62 0 1,0 5.24,0a2.62,2.62 0 1,0 -5.24,0M1149.74,221.59a2.62,2.62 0 1,0 5.24,0a2.62,2.62 0 1,0 -5.24,0M1160.04,221.59a2.62,2.62 0 1,0 5.24,0a2.62,2.62 0 1,0 -5.24,0M1170.33,221.59a2.62,2.62 0 1,0 5.24,0a2.62,2.62 0 1,0 -5.24,0M1072.53,230.5a2.62,2.62 0 1,0 5.24,0a2.62,2.62 0 1,0 -5.24,0M1082.83,230.5a2.62,2.62 0 1,0 5.24,0a2.62,2.62 0 1,0 -5.24,0M1093.12,230.5a2.62,2.62 0 1,0 5.24,0a2.62,2.62 0 1,0 -5.24,0M1103.42,230.5a2.62,2.62 0 1,0 5.24,0a2.62,2.62 0 1,0 -5.24,0M1113.71,230.5a2.62,2.62 0 1,0 5.24,0a2.62,2.62 0 1,0 -5.24,0M1124.01,230.5a2.62,2.62 0 1,0 5.24,0a2.62,2.62 0 1,0 -5.24,0M1134.3,230.5a2.62,2.62 0 1,0 5.24,0a2.62,2.62 0 1,0 -5.24,0M1144.6,230.5a2.62,2.62 0 1,0 5.24,0a2.62,2.62 0 1,0 -5.24,0M1154.89,230.5a2.62,2.62 0 1,0 5.24,0a2.62,2.62 0 1,0 -5.24,0M1165.19,230.5a2.62,2.62 0 1,0 5.24,0a2.62,2.62 0 1,0 -5.24,0M1067.38,239.4a2.62,2.62 0 1,0 5.24,0a2.62,2.62 0 1,0 -5.24,0M1077.68,239.4a2.62,2.62 0 1,0 5.24,0a2.62,2.62 0 1,0 -5.24,0M1087.97,239.4a2.62,2.62 0 1,0 5.24,0a2.62,2.62 0 1,0 -5.24,0M1098.27,239.4a2.62,2.62 0 1,0 5.24,0a2.62,2.62 0 1,0 -5.24,0M1108.56,239.4a2.62,2.62 0 1,0 5.24,0a2.62,2.62 0 1,0 -5.24,0M1118.86,239.4a2.62,2.62 0 1,0 5.24,0a2.62,2.62 0 1,0 -5.24,0M1129.15,239.4a2.62,2.62 0 1,0 5.24,0a2.62,2.62 0 1,0 -5.24,0M1139.45,239.4a2.62,2.62 0 1,0 5.24,0a2.62,2.62 0 1,0 -5.24,0M1149.74,239.4a2.62,2.62 0 1,0 5.24,0a2.62,2.62 0 1,0 -5.24,0M1160.04,239.4a2.62,2.62 0 1,0 5.24,0a2.62,2.62 0 1,0 -5.24,0M1170.33,239.4a2.62,2.62 0 1,0 5.24,0a2.62,2.62 0 1,0 -5.24,0M1072.53,248.31a2.62,2.62 0 1,0 5.24,0a2.62,2.62 0 1,0 -5.24,0M1082.83,248.31a2.62,2.62 0 1,0 5.24,0a2.62,2.62 0 1,0 -5.24,0M1093.12,248.31a2.62,2.62 0 1,0 5.24,0a2.62,2.62 0 1,0 -5.24,0M1103.42,248.31a2.62,2.62 0 1,0 5.24,0a2.62,2.62 0 1,0 -5.24,0M1113.71,248.31a2.62,2.62 0 1,0 5.24,0a2.62,2.62 0 1,0 -5.24,0M1124.01,248.31a2.62,2.62 0 1,0 5.24,0a2.62,2.62 0 1,0 -5.24,0M1134.3,248.31a2.62,2.62 0 1,0 5.24,0a2.62,2.62 0 1,0 -5.24,0M1144.6,248.31a2.62,2.62 0 1,0 5.24,0a2.62,2.62 0 1,0 -5.24,0M1154.89,248.31a2.62,2.62 0 1,0 5.24,0a2.62,2.62 0 1,0 -5.24,0M1165.19,248.31a2.62,2.62 0 1,0 5.24,0a2.62,2.62 0 1,0 -5.24,0M1067.38,257.21a2.62,2.62 0 1,0 5.24,0a2.62,2.62 0 1,0 -5.24,0M1077.68,257.21a2.62,2.62 0 1,0 5.24,0a2.62,2.62 0 1,0 -5.24,0M1087.97,257.21a2.62,2.62 0 1,0 5.24,0a2.62,2.62 0 1,0 -5.24,0M1098.27,257.21a2.62,2.62 0 1,0 5.24,0a2.62,2.62 0 1,0 -5.24,0M1108.56,257.21a2.62,2.62 0 1,0 5.24,0a2.62,2.62 0 1,0 -5.24,0M1118.86,257.21a2.62,2.62 0 1,0 5.24,0a2.62,2.62 0 1,0 -5.24,0M1129.15,257.21a2.62,2.62 0 1,0 5.24,0a2.62,2.62 0 1,0 -5.24,0M1139.45,257.21a2.62,2.62 0 1,0 5.24,0a2.62,2.62 0 1,0 -5.24,0M1149.74,257.21a2.62,2.62 0 1,0 5.24,0a2.62,2.62 0 1,0 -5.24,0M1160.04,257.21a2.62,2.62 0 1,0 5.24,0a2.62,2.62 0 1,0 -5.24,0M1170.33,257.21a2.62,2.62 0 1,0 5.24,0a2.62,2.62 0 1,0 -5.24,0" stroke="#1c1c1c" stroke-width="0.9" fill="none"/>
<line x1="1056.3" y1="53.5" x2="1056.3" y2="56.5" stroke="#333" stroke-width="2.4" stroke-linecap="round"/>
<path d="M1078.1,238.8a2.3,2.3 0 0,1 4.4,0Z" fill="#1c1c1c"/>
<path d="M1160.45,238.8a2.3,2.3 0 0,1 4.4,0Z" fill="#1c1c1c"/>
<path d="M1068.8,267L1071.6,267L1071,268.8L1069.4,268.8Z" fill="#111"/>
<path d="M1119.6,267L1122.4,267L1121.8,268.8L1120.2,268.8Z" fill="#111"/>
<path d="M1170.6,267L1173.4,267L1172.8,268.8L1171.2,268.8Z" fill="#111"/>
<line x1="1043.6" y1="164.1" x2="1043.6" y2="266.4" stroke="#1a1a1a" stroke-width="1.5" />
<line x1="1043.6" y1="164.1" x2="1053.5" y2="164.1" stroke="#1a1a1a" stroke-width="1.0" />
<line x1="1053.5" y1="164.1" x2="1053.5" y2="266.4" stroke="#666" stroke-width="1.0" />
<line x1="1043.6" y1="266.4" x2="1057.8" y2="266.4" stroke="#1a1a1a" stroke-width="1.0" />
<circle cx="1048.4" cy="232.8" r="1.8" stroke="#1a1a1a" stroke-width="1.2" fill="none"/>
<circle cx="1048.4" cy="248.6" r="1.8" stroke="#1a1a1a" stroke-width="1.2" fill="none"/>
<circle cx="1048.4" cy="261.9" r="1.8" stroke="#1a1a1a" stroke-width="1.2" fill="none"/>
<line x1="1054" y1="244.2" x2="1057.8" y2="244.2" stroke="#1a1a1a" stroke-width="1.6" />
<line x1="1054" y1="231.5" x2="1056.5" y2="234.5" stroke="#444" stroke-width="0.7" />
<line x1="1056.2" y1="234" x2="1056.2" y2="243.5" stroke="#666" stroke-width="0.7" />
<line x1="1019.4" y1="154.2" x2="1076.5" y2="154.2" stroke="#85a47a" stroke-width="1.25" />
<path transform="translate(1043.6,154.2) rotate(0)" d="M0,0L-11.5,-1.9L-9.7,0L-11.5,1.9Z" fill="#1e5a12" stroke="none"/>
<path transform="translate(1057,154.2) rotate(180)" d="M0,0L-11.5,-1.9L-9.7,0L-11.5,1.9Z" fill="#1e5a12" stroke="none"/>
<line x1="1043.6" y1="151.5" x2="1043.6" y2="164" stroke="#85a47a" stroke-width="1.25" />
<line x1="1054.2" y1="151.5" x2="1054.2" y2="164" stroke="#85a47a" stroke-width="1.25" />
<g transform="translate(1020.27,138.78) rotate(0)" fill="none" stroke="#4d7340" stroke-width="1.05" stroke-linejoin="round" stroke-linecap="round"><path vector-effect="non-scaling-stroke" transform="translate(0,0) scale(1,1.07)" d="M4.7,0L0.6,0L0.3,4.3Q1.4,3.6 2.6,3.6Q5,3.6 5,6L5,7.6Q5,10 2.5,10Q0.2,10 0,8"/><path vector-effect="non-scaling-stroke" transform="translate(7.47,0) scale(1,1.07)" d="M0.2,2.3Q0.2,0 2.5,0Q4.9,0 4.9,2.3Q4.9,3.8 3.6,5.4L0,10L5,10"/></g>
<line x1="1024" y1="164.1" x2="1043.6" y2="164.1" stroke="#85a47a" stroke-width="1.25" />
<line x1="1024" y1="266.4" x2="1043.6" y2="266.4" stroke="#85a47a" stroke-width="1.25" />
<line x1="1026.6" y1="164.1" x2="1026.6" y2="266.4" stroke="#85a47a" stroke-width="1.25" />
<path transform="translate(1026.6,164.1) rotate(-90)" d="M0,0L-12,-1.9L-10.2,0L-12,1.9Z" fill="#1e5a12" stroke="none"/>
<path transform="translate(1026.6,266.4) rotate(90)" d="M0,0L-12,-1.9L-10.2,0L-12,1.9Z" fill="#1e5a12" stroke="none"/>
<g transform="translate(1010.52,222.38) rotate(-90)" fill="none" stroke="#4d7340" stroke-width="1.05" stroke-linejoin="round" stroke-linecap="round"><path vector-effect="non-scaling-stroke" transform="translate(0,0) scale(0.99,1.18)" d="M4.7,0L0.6,0L0.3,4.3Q1.4,3.6 2.6,3.6Q5,3.6 5,6L5,7.6Q5,10 2.5,10Q0.2,10 0,8"/><path vector-effect="non-scaling-stroke" transform="translate(7.41,0) scale(0.99,1.18)" d="M0,2.4Q0,0 2.5,0Q5,0 5,2.4L5,7.6Q5,10 2.5,10Q0,10 0,7.6Z"/><path vector-effect="non-scaling-stroke" transform="translate(14.81,0) scale(0.99,1.18)" d="M0,2.4Q0,0 2.5,0Q5,0 5,2.4L5,7.6Q5,10 2.5,10Q0,10 0,7.6Z"/></g>
<line x1="1057.8" y1="266.8" x2="1057.8" y2="302" stroke="#85a47a" stroke-width="1.25" />
<line x1="1191.4" y1="266.8" x2="1191.4" y2="302" stroke="#85a47a" stroke-width="1.25" />
<line x1="1057.8" y1="298.3" x2="1191.4" y2="298.3" stroke="#85a47a" stroke-width="1.25" />
<path transform="translate(1057.8,298.3) rotate(180)" d="M0,0L-12,-1.9L-10.2,0L-12,1.9Z" fill="#1e5a12" stroke="none"/>
<path transform="translate(1191.4,298.3) rotate(0)" d="M0,0L-12,-1.9L-10.2,0L-12,1.9Z" fill="#1e5a12" stroke="none"/>
<g transform="translate(1114.43,282.42) rotate(0)" fill="none" stroke="#4d7340" stroke-width="1.05" stroke-linejoin="round" stroke-linecap="round"><path vector-effect="non-scaling-stroke" transform="translate(0,0) scale(0.93,1.12)" d="M5,0.9Q4.4,0 3.2,0Q0,0 0,2.8L0,7.2Q0,10 3.2,10Q4.4,10 5,9.1"/></g>
<rect x="26.4" y="542.6" width="242" height="180.4" rx="0" stroke="#000" stroke-width="1.4" fill="none"/>
<path d="M47.4,554.5a2.95,2.95 0 1,0 5.9,0a2.95,2.95 0 1,0 -5.9,0M59.47,554.5a2.95,2.95 0 1,0 5.9,0a2.95,2.95 0 1,0 -5.9,0M71.54,554.5a2.95,2.95 0 1,0 5.9,0a2.95,2.95 0 1,0 -5.9,0M83.61,554.5a2.95,2.95 0 1,0 5.9,0a2.95,2.95 0 1,0 -5.9,0M95.68,554.5a2.95,2.95 0 1,0 5.9,0a2.95,2.95 0 1,0 -5.9,0M107.75,554.5a2.95,2.95 0 1,0 5.9,0a2.95,2.95 0 1,0 -5.9,0M119.82,554.5a2.95,2.95 0 1,0 5.9,0a2.95,2.95 0 1,0 -5.9,0M131.89,554.5a2.95,2.95 0 1,0 5.9,0a2.95,2.95 0 1,0 -5.9,0M143.96,554.5a2.95,2.95 0 1,0 5.9,0a2.95,2.95 0 1,0 -5.9,0M156.03,554.5a2.95,2.95 0 1,0 5.9,0a2.95,2.95 0 1,0 -5.9,0M168.1,554.5a2.95,2.95 0 1,0 5.9,0a2.95,2.95 0 1,0 -5.9,0M180.17,554.5a2.95,2.95 0 1,0 5.9,0a2.95,2.95 0 1,0 -5.9,0M192.24,554.5a2.95,2.95 0 1,0 5.9,0a2.95,2.95 0 1,0 -5.9,0M204.31,554.5a2.95,2.95 0 1,0 5.9,0a2.95,2.95 0 1,0 -5.9,0M216.38,554.5a2.95,2.95 0 1,0 5.9,0a2.95,2.95 0 1,0 -5.9,0M228.45,554.5a2.95,2.95 0 1,0 5.9,0a2.95,2.95 0 1,0 -5.9,0M240.52,554.5a2.95,2.95 0 1,0 5.9,0a2.95,2.95 0 1,0 -5.9,0M41.36,564.96a2.95,2.95 0 1,0 5.9,0a2.95,2.95 0 1,0 -5.9,0M53.43,564.96a2.95,2.95 0 1,0 5.9,0a2.95,2.95 0 1,0 -5.9,0M65.5,564.96a2.95,2.95 0 1,0 5.9,0a2.95,2.95 0 1,0 -5.9,0M77.58,564.96a2.95,2.95 0 1,0 5.9,0a2.95,2.95 0 1,0 -5.9,0M89.64,564.96a2.95,2.95 0 1,0 5.9,0a2.95,2.95 0 1,0 -5.9,0M101.71,564.96a2.95,2.95 0 1,0 5.9,0a2.95,2.95 0 1,0 -5.9,0M113.78,564.96a2.95,2.95 0 1,0 5.9,0a2.95,2.95 0 1,0 -5.9,0M125.86,564.96a2.95,2.95 0 1,0 5.9,0a2.95,2.95 0 1,0 -5.9,0M137.93,564.96a2.95,2.95 0 1,0 5.9,0a2.95,2.95 0 1,0 -5.9,0M150,564.96a2.95,2.95 0 1,0 5.9,0a2.95,2.95 0 1,0 -5.9,0M162.06,564.96a2.95,2.95 0 1,0 5.9,0a2.95,2.95 0 1,0 -5.9,0M174.14,564.96a2.95,2.95 0 1,0 5.9,0a2.95,2.95 0 1,0 -5.9,0M186.21,564.96a2.95,2.95 0 1,0 5.9,0a2.95,2.95 0 1,0 -5.9,0M198.28,564.96a2.95,2.95 0 1,0 5.9,0a2.95,2.95 0 1,0 -5.9,0M210.35,564.96a2.95,2.95 0 1,0 5.9,0a2.95,2.95 0 1,0 -5.9,0M222.42,564.96a2.95,2.95 0 1,0 5.9,0a2.95,2.95 0 1,0 -5.9,0M234.49,564.96a2.95,2.95 0 1,0 5.9,0a2.95,2.95 0 1,0 -5.9,0M246.56,564.96a2.95,2.95 0 1,0 5.9,0a2.95,2.95 0 1,0 -5.9,0M47.4,575.42a2.95,2.95 0 1,0 5.9,0a2.95,2.95 0 1,0 -5.9,0M59.47,575.42a2.95,2.95 0 1,0 5.9,0a2.95,2.95 0 1,0 -5.9,0M71.54,575.42a2.95,2.95 0 1,0 5.9,0a2.95,2.95 0 1,0 -5.9,0M83.61,575.42a2.95,2.95 0 1,0 5.9,0a2.95,2.95 0 1,0 -5.9,0M95.68,575.42a2.95,2.95 0 1,0 5.9,0a2.95,2.95 0 1,0 -5.9,0M107.75,575.42a2.95,2.95 0 1,0 5.9,0a2.95,2.95 0 1,0 -5.9,0M119.82,575.42a2.95,2.95 0 1,0 5.9,0a2.95,2.95 0 1,0 -5.9,0M131.89,575.42a2.95,2.95 0 1,0 5.9,0a2.95,2.95 0 1,0 -5.9,0M143.96,575.42a2.95,2.95 0 1,0 5.9,0a2.95,2.95 0 1,0 -5.9,0M156.03,575.42a2.95,2.95 0 1,0 5.9,0a2.95,2.95 0 1,0 -5.9,0M168.1,575.42a2.95,2.95 0 1,0 5.9,0a2.95,2.95 0 1,0 -5.9,0M180.17,575.42a2.95,2.95 0 1,0 5.9,0a2.95,2.95 0 1,0 -5.9,0M192.24,575.42a2.95,2.95 0 1,0 5.9,0a2.95,2.95 0 1,0 -5.9,0M204.31,575.42a2.95,2.95 0 1,0 5.9,0a2.95,2.95 0 1,0 -5.9,0M216.38,575.42a2.95,2.95 0 1,0 5.9,0a2.95,2.95 0 1,0 -5.9,0M228.45,575.42a2.95,2.95 0 1,0 5.9,0a2.95,2.95 0 1,0 -5.9,0M240.52,575.42a2.95,2.95 0 1,0 5.9,0a2.95,2.95 0 1,0 -5.9,0M41.36,585.88a2.95,2.95 0 1,0 5.9,0a2.95,2.95 0 1,0 -5.9,0M53.43,585.88a2.95,2.95 0 1,0 5.9,0a2.95,2.95 0 1,0 -5.9,0M65.5,585.88a2.95,2.95 0 1,0 5.9,0a2.95,2.95 0 1,0 -5.9,0M77.58,585.88a2.95,2.95 0 1,0 5.9,0a2.95,2.95 0 1,0 -5.9,0M89.64,585.88a2.95,2.95 0 1,0 5.9,0a2.95,2.95 0 1,0 -5.9,0M101.71,585.88a2.95,2.95 0 1,0 5.9,0a2.95,2.95 0 1,0 -5.9,0M113.78,585.88a2.95,2.95 0 1,0 5.9,0a2.95,2.95 0 1,0 -5.9,0M125.86,585.88a2.95,2.95 0 1,0 5.9,0a2.95,2.95 0 1,0 -5.9,0M137.93,585.88a2.95,2.95 0 1,0 5.9,0a2.95,2.95 0 1,0 -5.9,0M150,585.88a2.95,2.95 0 1,0 5.9,0a2.95,2.95 0 1,0 -5.9,0M162.06,585.88a2.95,2.95 0 1,0 5.9,0a2.95,2.95 0 1,0 -5.9,0M174.14,585.88a2.95,2.95 0 1,0 5.9,0a2.95,2.95 0 1,0 -5.9,0M186.21,585.88a2.95,2.95 0 1,0 5.9,0a2.95,2.95 0 1,0 -5.9,0M198.28,585.88a2.95,2.95 0 1,0 5.9,0a2.95,2.95 0 1,0 -5.9,0M210.35,585.88a2.95,2.95 0 1,0 5.9,0a2.95,2.95 0 1,0 -5.9,0M222.42,585.88a2.95,2.95 0 1,0 5.9,0a2.95,2.95 0 1,0 -5.9,0M234.49,585.88a2.95,2.95 0 1,0 5.9,0a2.95,2.95 0 1,0 -5.9,0M246.56,585.88a2.95,2.95 0 1,0 5.9,0a2.95,2.95 0 1,0 -5.9,0M47.4,596.34a2.95,2.95 0 1,0 5.9,0a2.95,2.95 0 1,0 -5.9,0M59.47,596.34a2.95,2.95 0 1,0 5.9,0a2.95,2.95 0 1,0 -5.9,0M71.54,596.34a2.95,2.95 0 1,0 5.9,0a2.95,2.95 0 1,0 -5.9,0M83.61,596.34a2.95,2.95 0 1,0 5.9,0a2.95,2.95 0 1,0 -5.9,0M95.68,596.34a2.95,2.95 0 1,0 5.9,0a2.95,2.95 0 1,0 -5.9,0M107.75,596.34a2.95,2.95 0 1,0 5.9,0a2.95,2.95 0 1,0 -5.9,0M119.82,596.34a2.95,2.95 0 1,0 5.9,0a2.95,2.95 0 1,0 -5.9,0M131.89,596.34a2.95,2.95 0 1,0 5.9,0a2.95,2.95 0 1,0 -5.9,0M143.96,596.34a2.95,2.95 0 1,0 5.9,0a2.95,2.95 0 1,0 -5.9,0M156.03,596.34a2.95,2.95 0 1,0 5.9,0a2.95,2.95 0 1,0 -5.9,0M168.1,596.34a2.95,2.95 0 1,0 5.9,0a2.95,2.95 0 1,0 -5.9,0M180.17,596.34a2.95,2.95 0 1,0 5.9,0a2.95,2.95 0 1,0 -5.9,0M192.24,596.34a2.95,2.95 0 1,0 5.9,0a2.95,2.95 0 1,0 -5.9,0M204.31,596.34a2.95,2.95 0 1,0 5.9,0a2.95,2.95 0 1,0 -5.9,0M216.38,596.34a2.95,2.95 0 1,0 5.9,0a2.95,2.95 0 1,0 -5.9,0M228.45,596.34a2.95,2.95 0 1,0 5.9,0a2.95,2.95 0 1,0 -5.9,0M240.52,596.34a2.95,2.95 0 1,0 5.9,0a2.95,2.95 0 1,0 -5.9,0M41.36,606.8a2.95,2.95 0 1,0 5.9,0a2.95,2.95 0 1,0 -5.9,0M53.43,606.8a2.95,2.95 0 1,0 5.9,0a2.95,2.95 0 1,0 -5.9,0M65.5,606.8a2.95,2.95 0 1,0 5.9,0a2.95,2.95 0 1,0 -5.9,0M77.58,606.8a2.95,2.95 0 1,0 5.9,0a2.95,2.95 0 1,0 -5.9,0M89.64,606.8a2.95,2.95 0 1,0 5.9,0a2.95,2.95 0 1,0 -5.9,0M101.71,606.8a2.95,2.95 0 1,0 5.9,0a2.95,2.95 0 1,0 -5.9,0M113.78,606.8a2.95,2.95 0 1,0 5.9,0a2.95,2.95 0 1,0 -5.9,0M125.86,606.8a2.95,2.95 0 1,0 5.9,0a2.95,2.95 0 1,0 -5.9,0M137.93,606.8a2.95,2.95 0 1,0 5.9,0a2.95,2.95 0 1,0 -5.9,0M150,606.8a2.95,2.95 0 1,0 5.9,0a2.95,2.95 0 1,0 -5.9,0M162.06,606.8a2.95,2.95 0 1,0 5.9,0a2.95,2.95 0 1,0 -5.9,0M174.14,606.8a2.95,2.95 0 1,0 5.9,0a2.95,2.95 0 1,0 -5.9,0M186.21,606.8a2.95,2.95 0 1,0 5.9,0a2.95,2.95 0 1,0 -5.9,0M198.28,606.8a2.95,2.95 0 1,0 5.9,0a2.95,2.95 0 1,0 -5.9,0M210.35,606.8a2.95,2.95 0 1,0 5.9,0a2.95,2.95 0 1,0 -5.9,0M222.42,606.8a2.95,2.95 0 1,0 5.9,0a2.95,2.95 0 1,0 -5.9,0M234.49,606.8a2.95,2.95 0 1,0 5.9,0a2.95,2.95 0 1,0 -5.9,0M246.56,606.8a2.95,2.95 0 1,0 5.9,0a2.95,2.95 0 1,0 -5.9,0M47.4,617.26a2.95,2.95 0 1,0 5.9,0a2.95,2.95 0 1,0 -5.9,0M59.47,617.26a2.95,2.95 0 1,0 5.9,0a2.95,2.95 0 1,0 -5.9,0M71.54,617.26a2.95,2.95 0 1,0 5.9,0a2.95,2.95 0 1,0 -5.9,0M83.61,617.26a2.95,2.95 0 1,0 5.9,0a2.95,2.95 0 1,0 -5.9,0M95.68,617.26a2.95,2.95 0 1,0 5.9,0a2.95,2.95 0 1,0 -5.9,0M107.75,617.26a2.95,2.95 0 1,0 5.9,0a2.95,2.95 0 1,0 -5.9,0M119.82,617.26a2.95,2.95 0 1,0 5.9,0a2.95,2.95 0 1,0 -5.9,0M131.89,617.26a2.95,2.95 0 1,0 5.9,0a2.95,2.95 0 1,0 -5.9,0M143.96,617.26a2.95,2.95 0 1,0 5.9,0a2.95,2.95 0 1,0 -5.9,0M156.03,617.26a2.95,2.95 0 1,0 5.9,0a2.95,2.95 0 1,0 -5.9,0M168.1,617.26a2.95,2.95 0 1,0 5.9,0a2.95,2.95 0 1,0 -5.9,0M180.17,617.26a2.95,2.95 0 1,0 5.9,0a2.95,2.95 0 1,0 -5.9,0M192.24,617.26a2.95,2.95 0 1,0 5.9,0a2.95,2.95 0 1,0 -5.9,0M204.31,617.26a2.95,2.95 0 1,0 5.9,0a2.95,2.95 0 1,0 -5.9,0M216.38,617.26a2.95,2.95 0 1,0 5.9,0a2.95,2.95 0 1,0 -5.9,0M228.45,617.26a2.95,2.95 0 1,0 5.9,0a2.95,2.95 0 1,0 -5.9,0M240.52,617.26a2.95,2.95 0 1,0 5.9,0a2.95,2.95 0 1,0 -5.9,0M41.36,627.72a2.95,2.95 0 1,0 5.9,0a2.95,2.95 0 1,0 -5.9,0M53.43,627.72a2.95,2.95 0 1,0 5.9,0a2.95,2.95 0 1,0 -5.9,0M65.5,627.72a2.95,2.95 0 1,0 5.9,0a2.95,2.95 0 1,0 -5.9,0M77.58,627.72a2.95,2.95 0 1,0 5.9,0a2.95,2.95 0 1,0 -5.9,0M89.64,627.72a2.95,2.95 0 1,0 5.9,0a2.95,2.95 0 1,0 -5.9,0M101.71,627.72a2.95,2.95 0 1,0 5.9,0a2.95,2.95 0 1,0 -5.9,0M113.78,627.72a2.95,2.95 0 1,0 5.9,0a2.95,2.95 0 1,0 -5.9,0M125.86,627.72a2.95,2.95 0 1,0 5.9,0a2.95,2.95 0 1,0 -5.9,0M137.93,627.72a2.95,2.95 0 1,0 5.9,0a2.95,2.95 0 1,0 -5.9,0M150,627.72a2.95,2.95 0 1,0 5.9,0a2.95,2.95 0 1,0 -5.9,0M162.06,627.72a2.95,2.95 0 1,0 5.9,0a2.95,2.95 0 1,0 -5.9,0M174.14,627.72a2.95,2.95 0 1,0 5.9,0a2.95,2.95 0 1,0 -5.9,0M186.21,627.72a2.95,2.95 0 1,0 5.9,0a2.95,2.95 0 1,0 -5.9,0M198.28,627.72a2.95,2.95 0 1,0 5.9,0a2.95,2.95 0 1,0 -5.9,0M210.35,627.72a2.95,2.95 0 1,0 5.9,0a2.95,2.95 0 1,0 -5.9,0M222.42,627.72a2.95,2.95 0 1,0 5.9,0a2.95,2.95 0 1,0 -5.9,0M234.49,627.72a2.95,2.95 0 1,0 5.9,0a2.95,2.95 0 1,0 -5.9,0M246.56,627.72a2.95,2.95 0 1,0 5.9,0a2.95,2.95 0 1,0 -5.9,0M47.4,638.18a2.95,2.95 0 1,0 5.9,0a2.95,2.95 0 1,0 -5.9,0M59.47,638.18a2.95,2.95 0 1,0 5.9,0a2.95,2.95 0 1,0 -5.9,0M71.54,638.18a2.95,2.95 0 1,0 5.9,0a2.95,2.95 0 1,0 -5.9,0M83.61,638.18a2.95,2.95 0 1,0 5.9,0a2.95,2.95 0 1,0 -5.9,0M95.68,638.18a2.95,2.95 0 1,0 5.9,0a2.95,2.95 0 1,0 -5.9,0M107.75,638.18a2.95,2.95 0 1,0 5.9,0a2.95,2.95 0 1,0 -5.9,0M119.82,638.18a2.95,2.95 0 1,0 5.9,0a2.95,2.95 0 1,0 -5.9,0M131.89,638.18a2.95,2.95 0 1,0 5.9,0a2.95,2.95 0 1,0 -5.9,0M143.96,638.18a2.95,2.95 0 1,0 5.9,0a2.95,2.95 0 1,0 -5.9,0M156.03,638.18a2.95,2.95 0 1,0 5.9,0a2.95,2.95 0 1,0 -5.9,0M168.1,638.18a2.95,2.95 0 1,0 5.9,0a2.95,2.95 0 1,0 -5.9,0M180.17,638.18a2.95,2.95 0 1,0 5.9,0a2.95,2.95 0 1,0 -5.9,0M192.24,638.18a2.95,2.95 0 1,0 5.9,0a2.95,2.95 0 1,0 -5.9,0M204.31,638.18a2.95,2.95 0 1,0 5.9,0a2.95,2.95 0 1,0 -5.9,0M216.38,638.18a2.95,2.95 0 1,0 5.9,0a2.95,2.95 0 1,0 -5.9,0M228.45,638.18a2.95,2.95 0 1,0 5.9,0a2.95,2.95 0 1,0 -5.9,0M240.52,638.18a2.95,2.95 0 1,0 5.9,0a2.95,2.95 0 1,0 -5.9,0M41.36,648.64a2.95,2.95 0 1,0 5.9,0a2.95,2.95 0 1,0 -5.9,0M53.43,648.64a2.95,2.95 0 1,0 5.9,0a2.95,2.95 0 1,0 -5.9,0M65.5,648.64a2.95,2.95 0 1,0 5.9,0a2.95,2.95 0 1,0 -5.9,0M77.58,648.64a2.95,2.95 0 1,0 5.9,0a2.95,2.95 0 1,0 -5.9,0M89.64,648.64a2.95,2.95 0 1,0 5.9,0a2.95,2.95 0 1,0 -5.9,0M101.71,648.64a2.95,2.95 0 1,0 5.9,0a2.95,2.95 0 1,0 -5.9,0M113.78,648.64a2.95,2.95 0 1,0 5.9,0a2.95,2.95 0 1,0 -5.9,0M125.86,648.64a2.95,2.95 0 1,0 5.9,0a2.95,2.95 0 1,0 -5.9,0M137.93,648.64a2.95,2.95 0 1,0 5.9,0a2.95,2.95 0 1,0 -5.9,0M150,648.64a2.95,2.95 0 1,0 5.9,0a2.95,2.95 0 1,0 -5.9,0M162.06,648.64a2.95,2.95 0 1,0 5.9,0a2.95,2.95 0 1,0 -5.9,0M174.14,648.64a2.95,2.95 0 1,0 5.9,0a2.95,2.95 0 1,0 -5.9,0M186.21,648.64a2.95,2.95 0 1,0 5.9,0a2.95,2.95 0 1,0 -5.9,0M198.28,648.64a2.95,2.95 0 1,0 5.9,0a2.95,2.95 0 1,0 -5.9,0M210.35,648.64a2.95,2.95 0 1,0 5.9,0a2.95,2.95 0 1,0 -5.9,0M222.42,648.64a2.95,2.95 0 1,0 5.9,0a2.95,2.95 0 1,0 -5.9,0M234.49,648.64a2.95,2.95 0 1,0 5.9,0a2.95,2.95 0 1,0 -5.9,0M246.56,648.64a2.95,2.95 0 1,0 5.9,0a2.95,2.95 0 1,0 -5.9,0M47.4,659.1a2.95,2.95 0 1,0 5.9,0a2.95,2.95 0 1,0 -5.9,0M59.47,659.1a2.95,2.95 0 1,0 5.9,0a2.95,2.95 0 1,0 -5.9,0M71.54,659.1a2.95,2.95 0 1,0 5.9,0a2.95,2.95 0 1,0 -5.9,0M83.61,659.1a2.95,2.95 0 1,0 5.9,0a2.95,2.95 0 1,0 -5.9,0M95.68,659.1a2.95,2.95 0 1,0 5.9,0a2.95,2.95 0 1,0 -5.9,0M107.75,659.1a2.95,2.95 0 1,0 5.9,0a2.95,2.95 0 1,0 -5.9,0M119.82,659.1a2.95,2.95 0 1,0 5.9,0a2.95,2.95 0 1,0 -5.9,0M131.89,659.1a2.95,2.95 0 1,0 5.9,0a2.95,2.95 0 1,0 -5.9,0M143.96,659.1a2.95,2.95 0 1,0 5.9,0a2.95,2.95 0 1,0 -5.9,0M156.03,659.1a2.95,2.95 0 1,0 5.9,0a2.95,2.95 0 1,0 -5.9,0M168.1,659.1a2.95,2.95 0 1,0 5.9,0a2.95,2.95 0 1,0 -5.9,0M180.17,659.1a2.95,2.95 0 1,0 5.9,0a2.95,2.95 0 1,0 -5.9,0M192.24,659.1a2.95,2.95 0 1,0 5.9,0a2.95,2.95 0 1,0 -5.9,0M204.31,659.1a2.95,2.95 0 1,0 5.9,0a2.95,2.95 0 1,0 -5.9,0M216.38,659.1a2.95,2.95 0 1,0 5.9,0a2.95,2.95 0 1,0 -5.9,0M228.45,659.1a2.95,2.95 0 1,0 5.9,0a2.95,2.95 0 1,0 -5.9,0M240.52,659.1a2.95,2.95 0 1,0 5.9,0a2.95,2.95 0 1,0 -5.9,0M41.36,669.56a2.95,2.95 0 1,0 5.9,0a2.95,2.95 0 1,0 -5.9,0M53.43,669.56a2.95,2.95 0 1,0 5.9,0a2.95,2.95 0 1,0 -5.9,0M65.5,669.56a2.95,2.95 0 1,0 5.9,0a2.95,2.95 0 1,0 -5.9,0M77.58,669.56a2.95,2.95 0 1,0 5.9,0a2.95,2.95 0 1,0 -5.9,0M89.64,669.56a2.95,2.95 0 1,0 5.9,0a2.95,2.95 0 1,0 -5.9,0M101.71,669.56a2.95,2.95 0 1,0 5.9,0a2.95,2.95 0 1,0 -5.9,0M113.78,669.56a2.95,2.95 0 1,0 5.9,0a2.95,2.95 0 1,0 -5.9,0M125.86,669.56a2.95,2.95 0 1,0 5.9,0a2.95,2.95 0 1,0 -5.9,0M137.93,669.56a2.95,2.95 0 1,0 5.9,0a2.95,2.95 0 1,0 -5.9,0M150,669.56a2.95,2.95 0 1,0 5.9,0a2.95,2.95 0 1,0 -5.9,0M162.06,669.56a2.95,2.95 0 1,0 5.9,0a2.95,2.95 0 1,0 -5.9,0M174.14,669.56a2.95,2.95 0 1,0 5.9,0a2.95,2.95 0 1,0 -5.9,0M186.21,669.56a2.95,2.95 0 1,0 5.9,0a2.95,2.95 0 1,0 -5.9,0M198.28,669.56a2.95,2.95 0 1,0 5.9,0a2.95,2.95 0 1,0 -5.9,0M210.35,669.56a2.95,2.95 0 1,0 5.9,0a2.95,2.95 0 1,0 -5.9,0M222.42,669.56a2.95,2.95 0 1,0 5.9,0a2.95,2.95 0 1,0 -5.9,0M234.49,669.56a2.95,2.95 0 1,0 5.9,0a2.95,2.95 0 1,0 -5.9,0M246.56,669.56a2.95,2.95 0 1,0 5.9,0a2.95,2.95 0 1,0 -5.9,0M47.4,680.02a2.95,2.95 0 1,0 5.9,0a2.95,2.95 0 1,0 -5.9,0M59.47,680.02a2.95,2.95 0 1,0 5.9,0a2.95,2.95 0 1,0 -5.9,0M71.54,680.02a2.95,2.95 0 1,0 5.9,0a2.95,2.95 0 1,0 -5.9,0M83.61,680.02a2.95,2.95 0 1,0 5.9,0a2.95,2.95 0 1,0 -5.9,0M95.68,680.02a2.95,2.95 0 1,0 5.9,0a2.95,2.95 0 1,0 -5.9,0M107.75,680.02a2.95,2.95 0 1,0 5.9,0a2.95,2.95 0 1,0 -5.9,0M119.82,680.02a2.95,2.95 0 1,0 5.9,0a2.95,2.95 0 1,0 -5.9,0M131.89,680.02a2.95,2.95 0 1,0 5.9,0a2.95,2.95 0 1,0 -5.9,0M143.96,680.02a2.95,2.95 0 1,0 5.9,0a2.95,2.95 0 1,0 -5.9,0M156.03,680.02a2.95,2.95 0 1,0 5.9,0a2.95,2.95 0 1,0 -5.9,0M168.1,680.02a2.95,2.95 0 1,0 5.9,0a2.95,2.95 0 1,0 -5.9,0M180.17,680.02a2.95,2.95 0 1,0 5.9,0a2.95,2.95 0 1,0 -5.9,0M192.24,680.02a2.95,2.95 0 1,0 5.9,0a2.95,2.95 0 1,0 -5.9,0M204.31,680.02a2.95,2.95 0 1,0 5.9,0a2.95,2.95 0 1,0 -5.9,0M216.38,680.02a2.95,2.95 0 1,0 5.9,0a2.95,2.95 0 1,0 -5.9,0M228.45,680.02a2.95,2.95 0 1,0 5.9,0a2.95,2.95 0 1,0 -5.9,0M240.52,680.02a2.95,2.95 0 1,0 5.9,0a2.95,2.95 0 1,0 -5.9,0M41.36,690.48a2.95,2.95 0 1,0 5.9,0a2.95,2.95 0 1,0 -5.9,0M53.43,690.48a2.95,2.95 0 1,0 5.9,0a2.95,2.95 0 1,0 -5.9,0M65.5,690.48a2.95,2.95 0 1,0 5.9,0a2.95,2.95 0 1,0 -5.9,0M77.58,690.48a2.95,2.95 0 1,0 5.9,0a2.95,2.95 0 1,0 -5.9,0M89.64,690.48a2.95,2.95 0 1,0 5.9,0a2.95,2.95 0 1,0 -5.9,0M101.71,690.48a2.95,2.95 0 1,0 5.9,0a2.95,2.95 0 1,0 -5.9,0M113.78,690.48a2.95,2.95 0 1,0 5.9,0a2.95,2.95 0 1,0 -5.9,0M125.86,690.48a2.95,2.95 0 1,0 5.9,0a2.95,2.95 0 1,0 -5.9,0M137.93,690.48a2.95,2.95 0 1,0 5.9,0a2.95,2.95 0 1,0 -5.9,0M150,690.48a2.95,2.95 0 1,0 5.9,0a2.95,2.95 0 1,0 -5.9,0M162.06,690.48a2.95,2.95 0 1,0 5.9,0a2.95,2.95 0 1,0 -5.9,0M174.14,690.48a2.95,2.95 0 1,0 5.9,0a2.95,2.95 0 1,0 -5.9,0M186.21,690.48a2.95,2.95 0 1,0 5.9,0a2.95,2.95 0 1,0 -5.9,0M198.28,690.48a2.95,2.95 0 1,0 5.9,0a2.95,2.95 0 1,0 -5.9,0M210.35,690.48a2.95,2.95 0 1,0 5.9,0a2.95,2.95 0 1,0 -5.9,0M222.42,690.48a2.95,2.95 0 1,0 5.9,0a2.95,2.95 0 1,0 -5.9,0M234.49,690.48a2.95,2.95 0 1,0 5.9,0a2.95,2.95 0 1,0 -5.9,0M246.56,690.48a2.95,2.95 0 1,0 5.9,0a2.95,2.95 0 1,0 -5.9,0M47.4,700.94a2.95,2.95 0 1,0 5.9,0a2.95,2.95 0 1,0 -5.9,0M59.47,700.94a2.95,2.95 0 1,0 5.9,0a2.95,2.95 0 1,0 -5.9,0M71.54,700.94a2.95,2.95 0 1,0 5.9,0a2.95,2.95 0 1,0 -5.9,0M83.61,700.94a2.95,2.95 0 1,0 5.9,0a2.95,2.95 0 1,0 -5.9,0M95.68,700.94a2.95,2.95 0 1,0 5.9,0a2.95,2.95 0 1,0 -5.9,0M107.75,700.94a2.95,2.95 0 1,0 5.9,0a2.95,2.95 0 1,0 -5.9,0M119.82,700.94a2.95,2.95 0 1,0 5.9,0a2.95,2.95 0 1,0 -5.9,0M131.89,700.94a2.95,2.95 0 1,0 5.9,0a2.95,2.95 0 1,0 -5.9,0M143.96,700.94a2.95,2.95 0 1,0 5.9,0a2.95,2.95 0 1,0 -5.9,0M156.03,700.94a2.95,2.95 0 1,0 5.9,0a2.95,2.95 0 1,0 -5.9,0M168.1,700.94a2.95,2.95 0 1,0 5.9,0a2.95,2.95 0 1,0 -5.9,0M180.17,700.94a2.95,2.95 0 1,0 5.9,0a2.95,2.95 0 1,0 -5.9,0M192.24,700.94a2.95,2.95 0 1,0 5.9,0a2.95,2.95 0 1,0 -5.9,0M204.31,700.94a2.95,2.95 0 1,0 5.9,0a2.95,2.95 0 1,0 -5.9,0M216.38,700.94a2.95,2.95 0 1,0 5.9,0a2.95,2.95 0 1,0 -5.9,0M228.45,700.94a2.95,2.95 0 1,0 5.9,0a2.95,2.95 0 1,0 -5.9,0M240.52,700.94a2.95,2.95 0 1,0 5.9,0a2.95,2.95 0 1,0 -5.9,0M41.36,711.4a2.95,2.95 0 1,0 5.9,0a2.95,2.95 0 1,0 -5.9,0M53.43,711.4a2.95,2.95 0 1,0 5.9,0a2.95,2.95 0 1,0 -5.9,0M65.5,711.4a2.95,2.95 0 1,0 5.9,0a2.95,2.95 0 1,0 -5.9,0M77.58,711.4a2.95,2.95 0 1,0 5.9,0a2.95,2.95 0 1,0 -5.9,0M89.64,711.4a2.95,2.95 0 1,0 5.9,0a2.95,2.95 0 1,0 -5.9,0M101.71,711.4a2.95,2.95 0 1,0 5.9,0a2.95,2.95 0 1,0 -5.9,0M113.78,711.4a2.95,2.95 0 1,0 5.9,0a2.95,2.95 0 1,0 -5.9,0M125.86,711.4a2.95,2.95 0 1,0 5.9,0a2.95,2.95 0 1,0 -5.9,0M137.93,711.4a2.95,2.95 0 1,0 5.9,0a2.95,2.95 0 1,0 -5.9,0M150,711.4a2.95,2.95 0 1,0 5.9,0a2.95,2.95 0 1,0 -5.9,0M162.06,711.4a2.95,2.95 0 1,0 5.9,0a2.95,2.95 0 1,0 -5.9,0M174.14,711.4a2.95,2.95 0 1,0 5.9,0a2.95,2.95 0 1,0 -5.9,0M186.21,711.4a2.95,2.95 0 1,0 5.9,0a2.95,2.95 0 1,0 -5.9,0M198.28,711.4a2.95,2.95 0 1,0 5.9,0a2.95,2.95 0 1,0 -5.9,0M210.35,711.4a2.95,2.95 0 1,0 5.9,0a2.95,2.95 0 1,0 -5.9,0M222.42,711.4a2.95,2.95 0 1,0 5.9,0a2.95,2.95 0 1,0 -5.9,0M234.49,711.4a2.95,2.95 0 1,0 5.9,0a2.95,2.95 0 1,0 -5.9,0M246.56,711.4a2.95,2.95 0 1,0 5.9,0a2.95,2.95 0 1,0 -5.9,0" stroke="#1c1c1c" stroke-width="1.0" fill="none"/>
<path d="M27.5,723.2L31,723.2L30.4,725.2L28.1,725.2Z" fill="#111"/>
<path d="M263.8,723.2L267.3,723.2L266.7,725.2L264.4,725.2Z" fill="#111"/>
<circle cx="50.35" cy="700.94" r="2.7" fill="#1c1c1c"/>

<circle cx="49.35" cy="700.04" r="1.5" fill="#fff"/>
<circle cx="74.49" cy="700.94" r="2.7" fill="#1c1c1c"/>

<circle cx="75.79" cy="700.04" r="1.5" fill="#fff"/>
<circle cx="219.33" cy="700.94" r="2.7" fill="#1c1c1c"/>

<circle cx="218.33" cy="700.04" r="1.5" fill="#fff"/>
<circle cx="243.47" cy="700.94" r="2.7" fill="#1c1c1c"/>

<circle cx="244.77" cy="700.04" r="1.5" fill="#fff"/>
<path d="M60.22,699.64a2.5,2.5 0 0,1 4.4,0" fill="none" stroke="#333" stroke-width="0.8"/>
<path d="M229.2,699.64a2.5,2.5 0 0,1 4.4,0" fill="none" stroke="#333" stroke-width="0.8"/>
<path d="M86.56,698.24a2.7,2.7 0 0,0 0,5.4" fill="none" stroke="#1c1c1c" stroke-width="1.4"/>
<path d="M207.26,698.24a2.7,2.7 0 0,1 0,5.4" fill="none" stroke="#1c1c1c" stroke-width="1.4"/>
<path d="M44.31,690.48L44.31,693.18A2.7,2.7 0 0,1 41.61,690.48Z" fill="#1c1c1c"/>
<path d="M249.5,690.48L252.2,690.48A2.7,2.7 0 0,1 249.5,693.18Z" fill="#1c1c1c"/>
<line x1="26.4" y1="528.5" x2="26.4" y2="542.5" stroke="#85a47a" stroke-width="1.25" />
<line x1="268.4" y1="528.5" x2="268.4" y2="542.5" stroke="#85a47a" stroke-width="1.25" />
<line x1="26.4" y1="531.4" x2="268.4" y2="531.4" stroke="#85a47a" stroke-width="1.25" />
<path transform="translate(26.4,531.4) rotate(180)" d="M0,0L-8.8,-1.5L-7.000000000000001,0L-8.8,1.5Z" fill="#1e5a12" stroke="none"/>
<path transform="translate(268.4,531.4) rotate(0)" d="M0,0L-8.8,-1.5L-7.000000000000001,0L-8.8,1.5Z" fill="#1e5a12" stroke="none"/>
<g transform="translate(140.67,520.58) rotate(0)" fill="none" stroke="#4d7340" stroke-width="0.95" stroke-linejoin="round" stroke-linecap="round"><path vector-effect="non-scaling-stroke" transform="translate(0,0) scale(0.97,0.69)" d="M0,10L2.5,0L5,10M0.85,6.9L4.15,6.9"/></g>
<line x1="9.5" y1="542.6" x2="26.4" y2="542.6" stroke="#85a47a" stroke-width="1.25" />
<line x1="9.5" y1="723" x2="26.4" y2="723" stroke="#85a47a" stroke-width="1.25" />
<line x1="12.4" y1="542.6" x2="12.4" y2="723" stroke="#85a47a" stroke-width="1.25" />
<path transform="translate(12.4,542.6) rotate(-90)" d="M0,0L-8.8,-1.5L-7.000000000000001,0L-8.8,1.5Z" fill="#1e5a12" stroke="none"/>
<path transform="translate(12.4,723) rotate(90)" d="M0,0L-8.8,-1.5L-7.000000000000001,0L-8.8,1.5Z" fill="#1e5a12" stroke="none"/>
<g transform="translate(1.58,627.62) rotate(-90)" fill="none" stroke="#4d7340" stroke-width="0.95" stroke-linejoin="round" stroke-linecap="round"><path vector-effect="non-scaling-stroke" transform="translate(0,0) scale(0.81,0.8)" d="M0,0L0,10L2.7,10Q5,10 5,7.3Q5,4.8 2.7,4.8L0,4.8M2.7,4.8Q4.7,4.8 4.7,2.4Q4.7,0 2.5,0L0,0"/></g>
<rect x="422.8" y="542.6" width="132.7" height="180.2" rx="0" stroke="#000" stroke-width="1.4" fill="none"/>
<line x1="548.1" y1="542.6" x2="548.1" y2="722.8" stroke="#1a1a1a" stroke-width="1.0" />
<path d="M440.3,554.5a2.95,2.95 0 1,0 5.9,0a2.95,2.95 0 1,0 -5.9,0M452.37,554.5a2.95,2.95 0 1,0 5.9,0a2.95,2.95 0 1,0 -5.9,0M464.44,554.5a2.95,2.95 0 1,0 5.9,0a2.95,2.95 0 1,0 -5.9,0M476.51,554.5a2.95,2.95 0 1,0 5.9,0a2.95,2.95 0 1,0 -5.9,0M488.58,554.5a2.95,2.95 0 1,0 5.9,0a2.95,2.95 0 1,0 -5.9,0M500.65,554.5a2.95,2.95 0 1,0 5.9,0a2.95,2.95 0 1,0 -5.9,0M512.72,554.5a2.95,2.95 0 1,0 5.9,0a2.95,2.95 0 1,0 -5.9,0M524.79,554.5a2.95,2.95 0 1,0 5.9,0a2.95,2.95 0 1,0 -5.9,0M434.26,564.96a2.95,2.95 0 1,0 5.9,0a2.95,2.95 0 1,0 -5.9,0M446.33,564.96a2.95,2.95 0 1,0 5.9,0a2.95,2.95 0 1,0 -5.9,0M458.4,564.96a2.95,2.95 0 1,0 5.9,0a2.95,2.95 0 1,0 -5.9,0M470.47,564.96a2.95,2.95 0 1,0 5.9,0a2.95,2.95 0 1,0 -5.9,0M482.55,564.96a2.95,2.95 0 1,0 5.9,0a2.95,2.95 0 1,0 -5.9,0M494.62,564.96a2.95,2.95 0 1,0 5.9,0a2.95,2.95 0 1,0 -5.9,0M506.69,564.96a2.95,2.95 0 1,0 5.9,0a2.95,2.95 0 1,0 -5.9,0M518.75,564.96a2.95,2.95 0 1,0 5.9,0a2.95,2.95 0 1,0 -5.9,0M530.82,564.96a2.95,2.95 0 1,0 5.9,0a2.95,2.95 0 1,0 -5.9,0M440.3,575.42a2.95,2.95 0 1,0 5.9,0a2.95,2.95 0 1,0 -5.9,0M452.37,575.42a2.95,2.95 0 1,0 5.9,0a2.95,2.95 0 1,0 -5.9,0M464.44,575.42a2.95,2.95 0 1,0 5.9,0a2.95,2.95 0 1,0 -5.9,0M476.51,575.42a2.95,2.95 0 1,0 5.9,0a2.95,2.95 0 1,0 -5.9,0M488.58,575.42a2.95,2.95 0 1,0 5.9,0a2.95,2.95 0 1,0 -5.9,0M500.65,575.42a2.95,2.95 0 1,0 5.9,0a2.95,2.95 0 1,0 -5.9,0M512.72,575.42a2.95,2.95 0 1,0 5.9,0a2.95,2.95 0 1,0 -5.9,0M524.79,575.42a2.95,2.95 0 1,0 5.9,0a2.95,2.95 0 1,0 -5.9,0M434.26,585.88a2.95,2.95 0 1,0 5.9,0a2.95,2.95 0 1,0 -5.9,0M446.33,585.88a2.95,2.95 0 1,0 5.9,0a2.95,2.95 0 1,0 -5.9,0M458.4,585.88a2.95,2.95 0 1,0 5.9,0a2.95,2.95 0 1,0 -5.9,0M470.47,585.88a2.95,2.95 0 1,0 5.9,0a2.95,2.95 0 1,0 -5.9,0M482.55,585.88a2.95,2.95 0 1,0 5.9,0a2.95,2.95 0 1,0 -5.9,0M494.62,585.88a2.95,2.95 0 1,0 5.9,0a2.95,2.95 0 1,0 -5.9,0M506.69,585.88a2.95,2.95 0 1,0 5.9,0a2.95,2.95 0 1,0 -5.9,0M518.75,585.88a2.95,2.95 0 1,0 5.9,0a2.95,2.95 0 1,0 -5.9,0M530.82,585.88a2.95,2.95 0 1,0 5.9,0a2.95,2.95 0 1,0 -5.9,0M440.3,596.34a2.95,2.95 0 1,0 5.9,0a2.95,2.95 0 1,0 -5.9,0M452.37,596.34a2.95,2.95 0 1,0 5.9,0a2.95,2.95 0 1,0 -5.9,0M464.44,596.34a2.95,2.95 0 1,0 5.9,0a2.95,2.95 0 1,0 -5.9,0M476.51,596.34a2.95,2.95 0 1,0 5.9,0a2.95,2.95 0 1,0 -5.9,0M488.58,596.34a2.95,2.95 0 1,0 5.9,0a2.95,2.95 0 1,0 -5.9,0M500.65,596.34a2.95,2.95 0 1,0 5.9,0a2.95,2.95 0 1,0 -5.9,0M512.72,596.34a2.95,2.95 0 1,0 5.9,0a2.95,2.95 0 1,0 -5.9,0M524.79,596.34a2.95,2.95 0 1,0 5.9,0a2.95,2.95 0 1,0 -5.9,0M434.26,606.8a2.95,2.95 0 1,0 5.9,0a2.95,2.95 0 1,0 -5.9,0M446.33,606.8a2.95,2.95 0 1,0 5.9,0a2.95,2.95 0 1,0 -5.9,0M458.4,606.8a2.95,2.95 0 1,0 5.9,0a2.95,2.95 0 1,0 -5.9,0M470.47,606.8a2.95,2.95 0 1,0 5.9,0a2.95,2.95 0 1,0 -5.9,0M482.55,606.8a2.95,2.95 0 1,0 5.9,0a2.95,2.95 0 1,0 -5.9,0M494.62,606.8a2.95,2.95 0 1,0 5.9,0a2.95,2.95 0 1,0 -5.9,0M506.69,606.8a2.95,2.95 0 1,0 5.9,0a2.95,2.95 0 1,0 -5.9,0M518.75,606.8a2.95,2.95 0 1,0 5.9,0a2.95,2.95 0 1,0 -5.9,0M530.82,606.8a2.95,2.95 0 1,0 5.9,0a2.95,2.95 0 1,0 -5.9,0M440.3,617.26a2.95,2.95 0 1,0 5.9,0a2.95,2.95 0 1,0 -5.9,0M452.37,617.26a2.95,2.95 0 1,0 5.9,0a2.95,2.95 0 1,0 -5.9,0M464.44,617.26a2.95,2.95 0 1,0 5.9,0a2.95,2.95 0 1,0 -5.9,0M476.51,617.26a2.95,2.95 0 1,0 5.9,0a2.95,2.95 0 1,0 -5.9,0M488.58,617.26a2.95,2.95 0 1,0 5.9,0a2.95,2.95 0 1,0 -5.9,0M500.65,617.26a2.95,2.95 0 1,0 5.9,0a2.95,2.95 0 1,0 -5.9,0M512.72,617.26a2.95,2.95 0 1,0 5.9,0a2.95,2.95 0 1,0 -5.9,0M524.79,617.26a2.95,2.95 0 1,0 5.9,0a2.95,2.95 0 1,0 -5.9,0M434.26,627.72a2.95,2.95 0 1,0 5.9,0a2.95,2.95 0 1,0 -5.9,0M446.33,627.72a2.95,2.95 0 1,0 5.9,0a2.95,2.95 0 1,0 -5.9,0M458.4,627.72a2.95,2.95 0 1,0 5.9,0a2.95,2.95 0 1,0 -5.9,0M470.47,627.72a2.95,2.95 0 1,0 5.9,0a2.95,2.95 0 1,0 -5.9,0M482.55,627.72a2.95,2.95 0 1,0 5.9,0a2.95,2.95 0 1,0 -5.9,0M494.62,627.72a2.95,2.95 0 1,0 5.9,0a2.95,2.95 0 1,0 -5.9,0M506.69,627.72a2.95,2.95 0 1,0 5.9,0a2.95,2.95 0 1,0 -5.9,0M518.75,627.72a2.95,2.95 0 1,0 5.9,0a2.95,2.95 0 1,0 -5.9,0M530.82,627.72a2.95,2.95 0 1,0 5.9,0a2.95,2.95 0 1,0 -5.9,0M440.3,638.18a2.95,2.95 0 1,0 5.9,0a2.95,2.95 0 1,0 -5.9,0M452.37,638.18a2.95,2.95 0 1,0 5.9,0a2.95,2.95 0 1,0 -5.9,0M464.44,638.18a2.95,2.95 0 1,0 5.9,0a2.95,2.95 0 1,0 -5.9,0M476.51,638.18a2.95,2.95 0 1,0 5.9,0a2.95,2.95 0 1,0 -5.9,0M488.58,638.18a2.95,2.95 0 1,0 5.9,0a2.95,2.95 0 1,0 -5.9,0M500.65,638.18a2.95,2.95 0 1,0 5.9,0a2.95,2.95 0 1,0 -5.9,0M512.72,638.18a2.95,2.95 0 1,0 5.9,0a2.95,2.95 0 1,0 -5.9,0M524.79,638.18a2.95,2.95 0 1,0 5.9,0a2.95,2.95 0 1,0 -5.9,0M434.26,648.64a2.95,2.95 0 1,0 5.9,0a2.95,2.95 0 1,0 -5.9,0M446.33,648.64a2.95,2.95 0 1,0 5.9,0a2.95,2.95 0 1,0 -5.9,0M458.4,648.64a2.95,2.95 0 1,0 5.9,0a2.95,2.95 0 1,0 -5.9,0M470.47,648.64a2.95,2.95 0 1,0 5.9,0a2.95,2.95 0 1,0 -5.9,0M482.55,648.64a2.95,2.95 0 1,0 5.9,0a2.95,2.95 0 1,0 -5.9,0M494.62,648.64a2.95,2.95 0 1,0 5.9,0a2.95,2.95 0 1,0 -5.9,0M506.69,648.64a2.95,2.95 0 1,0 5.9,0a2.95,2.95 0 1,0 -5.9,0M518.75,648.64a2.95,2.95 0 1,0 5.9,0a2.95,2.95 0 1,0 -5.9,0M530.82,648.64a2.95,2.95 0 1,0 5.9,0a2.95,2.95 0 1,0 -5.9,0M440.3,659.1a2.95,2.95 0 1,0 5.9,0a2.95,2.95 0 1,0 -5.9,0M452.37,659.1a2.95,2.95 0 1,0 5.9,0a2.95,2.95 0 1,0 -5.9,0M464.44,659.1a2.95,2.95 0 1,0 5.9,0a2.95,2.95 0 1,0 -5.9,0M476.51,659.1a2.95,2.95 0 1,0 5.9,0a2.95,2.95 0 1,0 -5.9,0M488.58,659.1a2.95,2.95 0 1,0 5.9,0a2.95,2.95 0 1,0 -5.9,0M500.65,659.1a2.95,2.95 0 1,0 5.9,0a2.95,2.95 0 1,0 -5.9,0M512.72,659.1a2.95,2.95 0 1,0 5.9,0a2.95,2.95 0 1,0 -5.9,0M524.79,659.1a2.95,2.95 0 1,0 5.9,0a2.95,2.95 0 1,0 -5.9,0M434.26,669.56a2.95,2.95 0 1,0 5.9,0a2.95,2.95 0 1,0 -5.9,0M446.33,669.56a2.95,2.95 0 1,0 5.9,0a2.95,2.95 0 1,0 -5.9,0M458.4,669.56a2.95,2.95 0 1,0 5.9,0a2.95,2.95 0 1,0 -5.9,0M470.47,669.56a2.95,2.95 0 1,0 5.9,0a2.95,2.95 0 1,0 -5.9,0M482.55,669.56a2.95,2.95 0 1,0 5.9,0a2.95,2.95 0 1,0 -5.9,0M494.62,669.56a2.95,2.95 0 1,0 5.9,0a2.95,2.95 0 1,0 -5.9,0M506.69,669.56a2.95,2.95 0 1,0 5.9,0a2.95,2.95 0 1,0 -5.9,0M518.75,669.56a2.95,2.95 0 1,0 5.9,0a2.95,2.95 0 1,0 -5.9,0M530.82,669.56a2.95,2.95 0 1,0 5.9,0a2.95,2.95 0 1,0 -5.9,0M440.3,680.02a2.95,2.95 0 1,0 5.9,0a2.95,2.95 0 1,0 -5.9,0M452.37,680.02a2.95,2.95 0 1,0 5.9,0a2.95,2.95 0 1,0 -5.9,0M464.44,680.02a2.95,2.95 0 1,0 5.9,0a2.95,2.95 0 1,0 -5.9,0M476.51,680.02a2.95,2.95 0 1,0 5.9,0a2.95,2.95 0 1,0 -5.9,0M488.58,680.02a2.95,2.95 0 1,0 5.9,0a2.95,2.95 0 1,0 -5.9,0M500.65,680.02a2.95,2.95 0 1,0 5.9,0a2.95,2.95 0 1,0 -5.9,0M512.72,680.02a2.95,2.95 0 1,0 5.9,0a2.95,2.95 0 1,0 -5.9,0M524.79,680.02a2.95,2.95 0 1,0 5.9,0a2.95,2.95 0 1,0 -5.9,0M434.26,690.48a2.95,2.95 0 1,0 5.9,0a2.95,2.95 0 1,0 -5.9,0M446.33,690.48a2.95,2.95 0 1,0 5.9,0a2.95,2.95 0 1,0 -5.9,0M458.4,690.48a2.95,2.95 0 1,0 5.9,0a2.95,2.95 0 1,0 -5.9,0M470.47,690.48a2.95,2.95 0 1,0 5.9,0a2.95,2.95 0 1,0 -5.9,0M482.55,690.48a2.95,2.95 0 1,0 5.9,0a2.95,2.95 0 1,0 -5.9,0M494.62,690.48a2.95,2.95 0 1,0 5.9,0a2.95,2.95 0 1,0 -5.9,0M506.69,690.48a2.95,2.95 0 1,0 5.9,0a2.95,2.95 0 1,0 -5.9,0M518.75,690.48a2.95,2.95 0 1,0 5.9,0a2.95,2.95 0 1,0 -5.9,0M530.82,690.48a2.95,2.95 0 1,0 5.9,0a2.95,2.95 0 1,0 -5.9,0M440.3,700.94a2.95,2.95 0 1,0 5.9,0a2.95,2.95 0 1,0 -5.9,0M452.37,700.94a2.95,2.95 0 1,0 5.9,0a2.95,2.95 0 1,0 -5.9,0M464.44,700.94a2.95,2.95 0 1,0 5.9,0a2.95,2.95 0 1,0 -5.9,0M476.51,700.94a2.95,2.95 0 1,0 5.9,0a2.95,2.95 0 1,0 -5.9,0M488.58,700.94a2.95,2.95 0 1,0 5.9,0a2.95,2.95 0 1,0 -5.9,0M500.65,700.94a2.95,2.95 0 1,0 5.9,0a2.95,2.95 0 1,0 -5.9,0M512.72,700.94a2.95,2.95 0 1,0 5.9,0a2.95,2.95 0 1,0 -5.9,0M524.79,700.94a2.95,2.95 0 1,0 5.9,0a2.95,2.95 0 1,0 -5.9,0M434.26,711.4a2.95,2.95 0 1,0 5.9,0a2.95,2.95 0 1,0 -5.9,0M446.33,711.4a2.95,2.95 0 1,0 5.9,0a2.95,2.95 0 1,0 -5.9,0M458.4,711.4a2.95,2.95 0 1,0 5.9,0a2.95,2.95 0 1,0 -5.9,0M470.47,711.4a2.95,2.95 0 1,0 5.9,0a2.95,2.95 0 1,0 -5.9,0M482.55,711.4a2.95,2.95 0 1,0 5.9,0a2.95,2.95 0 1,0 -5.9,0M494.62,711.4a2.95,2.95 0 1,0 5.9,0a2.95,2.95 0 1,0 -5.9,0M506.69,711.4a2.95,2.95 0 1,0 5.9,0a2.95,2.95 0 1,0 -5.9,0M518.75,711.4a2.95,2.95 0 1,0 5.9,0a2.95,2.95 0 1,0 -5.9,0M530.82,711.4a2.95,2.95 0 1,0 5.9,0a2.95,2.95 0 1,0 -5.9,0" stroke="#1c1c1c" stroke-width="1.0" fill="none"/>
<line x1="421.3" y1="545.2" x2="421.3" y2="548.2" stroke="#333" stroke-width="2.4" stroke-linecap="round"/>
<path d="M435.1,723L437.9,723L437.3,724.8L435.7,724.8Z" fill="#111"/>
<path d="M484.1,723L486.9,723L486.3,724.8L484.7,724.8Z" fill="#111"/>
<path d="M532.6,723L535.4,723L534.8,724.8L533.2,724.8Z" fill="#111"/>
<path d="M434.9,691.68a2.7,2.7 0 0,0 4.6,0Z" fill="#1c1c1c"/>
<path d="M459.04,691.68a2.7,2.7 0 0,0 4.6,0Z" fill="#1c1c1c"/>
<path d="M507.32,691.68a2.7,2.7 0 0,0 4.6,0Z" fill="#1c1c1c"/>
<path d="M531.46,691.68a2.7,2.7 0 0,0 4.6,0Z" fill="#1c1c1c"/>
<line x1="338.6" y1="689.4" x2="338.6" y2="723.5" stroke="#222" stroke-width="1.5" />
<line x1="338.6" y1="693.7" x2="422.8" y2="693.7" stroke="#222" stroke-width="1.8" />
<path d="M338.7,720.3L345.5,720L411.5,707.2L422.8,706.4" stroke="#1a1a1a" stroke-width="1.0" fill="none" />
<circle cx="413.5" cy="701.8" r="2.0" stroke="#1a1a1a" stroke-width="1.3" fill="none"/>
<line x1="338" y1="722" x2="338" y2="740.5" stroke="#85a47a" stroke-width="1.25" />
<line x1="411.2" y1="711" x2="411.2" y2="740.5" stroke="#85a47a" stroke-width="1.25" />
<line x1="338" y1="737" x2="411.2" y2="737" stroke="#85a47a" stroke-width="1.25" />
<path transform="translate(338,737) rotate(180)" d="M0,0L-8.5,-1.5L-6.7,0L-8.5,1.5Z" fill="#1e5a12" stroke="none"/>
<path transform="translate(411.2,737) rotate(0)" d="M0,0L-8.5,-1.5L-6.7,0L-8.5,1.5Z" fill="#1e5a12" stroke="none"/>
<g transform="translate(372.18,725.68) rotate(0)" fill="none" stroke="#4d7340" stroke-width="0.95" stroke-linejoin="round" stroke-linecap="round"><path vector-effect="non-scaling-stroke" transform="translate(0,0) scale(0.68,0.84)" d="M0.2,1.9Q0.5,0 2.5,0Q4.8,0 4.8,2.3Q4.8,4.7 2.2,4.7Q5,4.7 5,7.4Q5,10 2.5,10Q0.3,10 0,8"/><path vector-effect="non-scaling-stroke" transform="translate(5.1,0) scale(0.68,0.84)" d="M0,2.4Q0,0 2.5,0Q5,0 5,2.4L5,7.6Q5,10 2.5,10Q0,10 0,7.6Z"/><path vector-effect="non-scaling-stroke" transform="translate(10.2,0) scale(0.68,0.84)" d="M0.2,2.3Q0.2,0 2.5,0Q4.9,0 4.9,2.3Q4.9,3.8 3.6,5.4L0,10L5,10"/></g>
<line x1="422.8" y1="529.5" x2="422.8" y2="542.5" stroke="#85a47a" stroke-width="1.25" />
<line x1="555.5" y1="529.5" x2="555.5" y2="542.5" stroke="#85a47a" stroke-width="1.25" />
<line x1="422.8" y1="532.6" x2="555.5" y2="532.6" stroke="#85a47a" stroke-width="1.25" />
<path transform="translate(422.8,532.6) rotate(180)" d="M0,0L-8.5,-1.5L-6.7,0L-8.5,1.5Z" fill="#1e5a12" stroke="none"/>
<path transform="translate(555.5,532.6) rotate(0)" d="M0,0L-8.5,-1.5L-6.7,0L-8.5,1.5Z" fill="#1e5a12" stroke="none"/>
<g transform="translate(493.58,521.48) rotate(0)" fill="none" stroke="#4d7340" stroke-width="0.95" stroke-linejoin="round" stroke-linecap="round"><path vector-effect="non-scaling-stroke" transform="translate(0,0) scale(0.69,0.79)" d="M5,0.9Q4.4,0 3.2,0Q0,0 0,2.8L0,7.2Q0,10 3.2,10Q4.4,10 5,9.1"/></g>
<rect x="687.4" y="568.6" width="249.1" height="186.2" rx="0" stroke="#000" stroke-width="1.4" fill="none"/>
<path d="M695.25,581.2a2.45,2.45 0 1,0 4.9,0a2.45,2.45 0 1,0 -4.9,0M705.62,581.2a2.45,2.45 0 1,0 4.9,0a2.45,2.45 0 1,0 -4.9,0M715.99,581.2a2.45,2.45 0 1,0 4.9,0a2.45,2.45 0 1,0 -4.9,0M726.36,581.2a2.45,2.45 0 1,0 4.9,0a2.45,2.45 0 1,0 -4.9,0M736.73,581.2a2.45,2.45 0 1,0 4.9,0a2.45,2.45 0 1,0 -4.9,0M747.1,581.2a2.45,2.45 0 1,0 4.9,0a2.45,2.45 0 1,0 -4.9,0M757.47,581.2a2.45,2.45 0 1,0 4.9,0a2.45,2.45 0 1,0 -4.9,0M767.84,581.2a2.45,2.45 0 1,0 4.9,0a2.45,2.45 0 1,0 -4.9,0M778.21,581.2a2.45,2.45 0 1,0 4.9,0a2.45,2.45 0 1,0 -4.9,0M788.58,581.2a2.45,2.45 0 1,0 4.9,0a2.45,2.45 0 1,0 -4.9,0M798.95,581.2a2.45,2.45 0 1,0 4.9,0a2.45,2.45 0 1,0 -4.9,0M809.32,581.2a2.45,2.45 0 1,0 4.9,0a2.45,2.45 0 1,0 -4.9,0M819.69,581.2a2.45,2.45 0 1,0 4.9,0a2.45,2.45 0 1,0 -4.9,0M830.06,581.2a2.45,2.45 0 1,0 4.9,0a2.45,2.45 0 1,0 -4.9,0M840.43,581.2a2.45,2.45 0 1,0 4.9,0a2.45,2.45 0 1,0 -4.9,0M850.8,581.2a2.45,2.45 0 1,0 4.9,0a2.45,2.45 0 1,0 -4.9,0M861.17,581.2a2.45,2.45 0 1,0 4.9,0a2.45,2.45 0 1,0 -4.9,0M871.54,581.2a2.45,2.45 0 1,0 4.9,0a2.45,2.45 0 1,0 -4.9,0M881.91,581.2a2.45,2.45 0 1,0 4.9,0a2.45,2.45 0 1,0 -4.9,0M892.28,581.2a2.45,2.45 0 1,0 4.9,0a2.45,2.45 0 1,0 -4.9,0M902.65,581.2a2.45,2.45 0 1,0 4.9,0a2.45,2.45 0 1,0 -4.9,0M913.02,581.2a2.45,2.45 0 1,0 4.9,0a2.45,2.45 0 1,0 -4.9,0M923.39,581.2a2.45,2.45 0 1,0 4.9,0a2.45,2.45 0 1,0 -4.9,0M700.43,590.13a2.45,2.45 0 1,0 4.9,0a2.45,2.45 0 1,0 -4.9,0M710.8,590.13a2.45,2.45 0 1,0 4.9,0a2.45,2.45 0 1,0 -4.9,0M721.17,590.13a2.45,2.45 0 1,0 4.9,0a2.45,2.45 0 1,0 -4.9,0M731.54,590.13a2.45,2.45 0 1,0 4.9,0a2.45,2.45 0 1,0 -4.9,0M741.91,590.13a2.45,2.45 0 1,0 4.9,0a2.45,2.45 0 1,0 -4.9,0M752.28,590.13a2.45,2.45 0 1,0 4.9,0a2.45,2.45 0 1,0 -4.9,0M762.65,590.13a2.45,2.45 0 1,0 4.9,0a2.45,2.45 0 1,0 -4.9,0M773.02,590.13a2.45,2.45 0 1,0 4.9,0a2.45,2.45 0 1,0 -4.9,0M783.39,590.13a2.45,2.45 0 1,0 4.9,0a2.45,2.45 0 1,0 -4.9,0M793.76,590.13a2.45,2.45 0 1,0 4.9,0a2.45,2.45 0 1,0 -4.9,0M804.13,590.13a2.45,2.45 0 1,0 4.9,0a2.45,2.45 0 1,0 -4.9,0M814.5,590.13a2.45,2.45 0 1,0 4.9,0a2.45,2.45 0 1,0 -4.9,0M824.88,590.13a2.45,2.45 0 1,0 4.9,0a2.45,2.45 0 1,0 -4.9,0M835.24,590.13a2.45,2.45 0 1,0 4.9,0a2.45,2.45 0 1,0 -4.9,0M845.61,590.13a2.45,2.45 0 1,0 4.9,0a2.45,2.45 0 1,0 -4.9,0M855.98,590.13a2.45,2.45 0 1,0 4.9,0a2.45,2.45 0 1,0 -4.9,0M866.35,590.13a2.45,2.45 0 1,0 4.9,0a2.45,2.45 0 1,0 -4.9,0M876.72,590.13a2.45,2.45 0 1,0 4.9,0a2.45,2.45 0 1,0 -4.9,0M887.09,590.13a2.45,2.45 0 1,0 4.9,0a2.45,2.45 0 1,0 -4.9,0M897.46,590.13a2.45,2.45 0 1,0 4.9,0a2.45,2.45 0 1,0 -4.9,0M907.83,590.13a2.45,2.45 0 1,0 4.9,0a2.45,2.45 0 1,0 -4.9,0M918.2,590.13a2.45,2.45 0 1,0 4.9,0a2.45,2.45 0 1,0 -4.9,0M695.25,599.06a2.45,2.45 0 1,0 4.9,0a2.45,2.45 0 1,0 -4.9,0M705.62,599.06a2.45,2.45 0 1,0 4.9,0a2.45,2.45 0 1,0 -4.9,0M715.99,599.06a2.45,2.45 0 1,0 4.9,0a2.45,2.45 0 1,0 -4.9,0M726.36,599.06a2.45,2.45 0 1,0 4.9,0a2.45,2.45 0 1,0 -4.9,0M736.73,599.06a2.45,2.45 0 1,0 4.9,0a2.45,2.45 0 1,0 -4.9,0M747.1,599.06a2.45,2.45 0 1,0 4.9,0a2.45,2.45 0 1,0 -4.9,0M757.47,599.06a2.45,2.45 0 1,0 4.9,0a2.45,2.45 0 1,0 -4.9,0M767.84,599.06a2.45,2.45 0 1,0 4.9,0a2.45,2.45 0 1,0 -4.9,0M778.21,599.06a2.45,2.45 0 1,0 4.9,0a2.45,2.45 0 1,0 -4.9,0M788.58,599.06a2.45,2.45 0 1,0 4.9,0a2.45,2.45 0 1,0 -4.9,0M798.95,599.06a2.45,2.45 0 1,0 4.9,0a2.45,2.45 0 1,0 -4.9,0M809.32,599.06a2.45,2.45 0 1,0 4.9,0a2.45,2.45 0 1,0 -4.9,0M819.69,599.06a2.45,2.45 0 1,0 4.9,0a2.45,2.45 0 1,0 -4.9,0M830.06,599.06a2.45,2.45 0 1,0 4.9,0a2.45,2.45 0 1,0 -4.9,0M840.43,599.06a2.45,2.45 0 1,0 4.9,0a2.45,2.45 0 1,0 -4.9,0M850.8,599.06a2.45,2.45 0 1,0 4.9,0a2.45,2.45 0 1,0 -4.9,0M861.17,599.06a2.45,2.45 0 1,0 4.9,0a2.45,2.45 0 1,0 -4.9,0M871.54,599.06a2.45,2.45 0 1,0 4.9,0a2.45,2.45 0 1,0 -4.9,0M881.91,599.06a2.45,2.45 0 1,0 4.9,0a2.45,2.45 0 1,0 -4.9,0M892.28,599.06a2.45,2.45 0 1,0 4.9,0a2.45,2.45 0 1,0 -4.9,0M902.65,599.06a2.45,2.45 0 1,0 4.9,0a2.45,2.45 0 1,0 -4.9,0M913.02,599.06a2.45,2.45 0 1,0 4.9,0a2.45,2.45 0 1,0 -4.9,0M923.39,599.06a2.45,2.45 0 1,0 4.9,0a2.45,2.45 0 1,0 -4.9,0M700.43,607.99a2.45,2.45 0 1,0 4.9,0a2.45,2.45 0 1,0 -4.9,0M710.8,607.99a2.45,2.45 0 1,0 4.9,0a2.45,2.45 0 1,0 -4.9,0M721.17,607.99a2.45,2.45 0 1,0 4.9,0a2.45,2.45 0 1,0 -4.9,0M731.54,607.99a2.45,2.45 0 1,0 4.9,0a2.45,2.45 0 1,0 -4.9,0M741.91,607.99a2.45,2.45 0 1,0 4.9,0a2.45,2.45 0 1,0 -4.9,0M752.28,607.99a2.45,2.45 0 1,0 4.9,0a2.45,2.45 0 1,0 -4.9,0M762.65,607.99a2.45,2.45 0 1,0 4.9,0a2.45,2.45 0 1,0 -4.9,0M773.02,607.99a2.45,2.45 0 1,0 4.9,0a2.45,2.45 0 1,0 -4.9,0M783.39,607.99a2.45,2.45 0 1,0 4.9,0a2.45,2.45 0 1,0 -4.9,0M793.76,607.99a2.45,2.45 0 1,0 4.9,0a2.45,2.45 0 1,0 -4.9,0M804.13,607.99a2.45,2.45 0 1,0 4.9,0a2.45,2.45 0 1,0 -4.9,0M814.5,607.99a2.45,2.45 0 1,0 4.9,0a2.45,2.45 0 1,0 -4.9,0M824.88,607.99a2.45,2.45 0 1,0 4.9,0a2.45,2.45 0 1,0 -4.9,0M835.24,607.99a2.45,2.45 0 1,0 4.9,0a2.45,2.45 0 1,0 -4.9,0M845.61,607.99a2.45,2.45 0 1,0 4.9,0a2.45,2.45 0 1,0 -4.9,0M855.98,607.99a2.45,2.45 0 1,0 4.9,0a2.45,2.45 0 1,0 -4.9,0M866.35,607.99a2.45,2.45 0 1,0 4.9,0a2.45,2.45 0 1,0 -4.9,0M876.72,607.99a2.45,2.45 0 1,0 4.9,0a2.45,2.45 0 1,0 -4.9,0M887.09,607.99a2.45,2.45 0 1,0 4.9,0a2.45,2.45 0 1,0 -4.9,0M897.46,607.99a2.45,2.45 0 1,0 4.9,0a2.45,2.45 0 1,0 -4.9,0M907.83,607.99a2.45,2.45 0 1,0 4.9,0a2.45,2.45 0 1,0 -4.9,0M918.2,607.99a2.45,2.45 0 1,0 4.9,0a2.45,2.45 0 1,0 -4.9,0M695.25,616.92a2.45,2.45 0 1,0 4.9,0a2.45,2.45 0 1,0 -4.9,0M705.62,616.92a2.45,2.45 0 1,0 4.9,0a2.45,2.45 0 1,0 -4.9,0M715.99,616.92a2.45,2.45 0 1,0 4.9,0a2.45,2.45 0 1,0 -4.9,0M726.36,616.92a2.45,2.45 0 1,0 4.9,0a2.45,2.45 0 1,0 -4.9,0M736.73,616.92a2.45,2.45 0 1,0 4.9,0a2.45,2.45 0 1,0 -4.9,0M747.1,616.92a2.45,2.45 0 1,0 4.9,0a2.45,2.45 0 1,0 -4.9,0M757.47,616.92a2.45,2.45 0 1,0 4.9,0a2.45,2.45 0 1,0 -4.9,0M767.84,616.92a2.45,2.45 0 1,0 4.9,0a2.45,2.45 0 1,0 -4.9,0M778.21,616.92a2.45,2.45 0 1,0 4.9,0a2.45,2.45 0 1,0 -4.9,0M788.58,616.92a2.45,2.45 0 1,0 4.9,0a2.45,2.45 0 1,0 -4.9,0M798.95,616.92a2.45,2.45 0 1,0 4.9,0a2.45,2.45 0 1,0 -4.9,0M809.32,616.92a2.45,2.45 0 1,0 4.9,0a2.45,2.45 0 1,0 -4.9,0M819.69,616.92a2.45,2.45 0 1,0 4.9,0a2.45,2.45 0 1,0 -4.9,0M830.06,616.92a2.45,2.45 0 1,0 4.9,0a2.45,2.45 0 1,0 -4.9,0M840.43,616.92a2.45,2.45 0 1,0 4.9,0a2.45,2.45 0 1,0 -4.9,0M850.8,616.92a2.45,2.45 0 1,0 4.9,0a2.45,2.45 0 1,0 -4.9,0M861.17,616.92a2.45,2.45 0 1,0 4.9,0a2.45,2.45 0 1,0 -4.9,0M871.54,616.92a2.45,2.45 0 1,0 4.9,0a2.45,2.45 0 1,0 -4.9,0M881.91,616.92a2.45,2.45 0 1,0 4.9,0a2.45,2.45 0 1,0 -4.9,0M892.28,616.92a2.45,2.45 0 1,0 4.9,0a2.45,2.45 0 1,0 -4.9,0M902.65,616.92a2.45,2.45 0 1,0 4.9,0a2.45,2.45 0 1,0 -4.9,0M913.02,616.92a2.45,2.45 0 1,0 4.9,0a2.45,2.45 0 1,0 -4.9,0M923.39,616.92a2.45,2.45 0 1,0 4.9,0a2.45,2.45 0 1,0 -4.9,0M700.43,625.85a2.45,2.45 0 1,0 4.9,0a2.45,2.45 0 1,0 -4.9,0M710.8,625.85a2.45,2.45 0 1,0 4.9,0a2.45,2.45 0 1,0 -4.9,0M721.17,625.85a2.45,2.45 0 1,0 4.9,0a2.45,2.45 0 1,0 -4.9,0M731.54,625.85a2.45,2.45 0 1,0 4.9,0a2.45,2.45 0 1,0 -4.9,0M741.91,625.85a2.45,2.45 0 1,0 4.9,0a2.45,2.45 0 1,0 -4.9,0M752.28,625.85a2.45,2.45 0 1,0 4.9,0a2.45,2.45 0 1,0 -4.9,0M762.65,625.85a2.45,2.45 0 1,0 4.9,0a2.45,2.45 0 1,0 -4.9,0M773.02,625.85a2.45,2.45 0 1,0 4.9,0a2.45,2.45 0 1,0 -4.9,0M783.39,625.85a2.45,2.45 0 1,0 4.9,0a2.45,2.45 0 1,0 -4.9,0M793.76,625.85a2.45,2.45 0 1,0 4.9,0a2.45,2.45 0 1,0 -4.9,0M804.13,625.85a2.45,2.45 0 1,0 4.9,0a2.45,2.45 0 1,0 -4.9,0M814.5,625.85a2.45,2.45 0 1,0 4.9,0a2.45,2.45 0 1,0 -4.9,0M824.88,625.85a2.45,2.45 0 1,0 4.9,0a2.45,2.45 0 1,0 -4.9,0M835.24,625.85a2.45,2.45 0 1,0 4.9,0a2.45,2.45 0 1,0 -4.9,0M845.61,625.85a2.45,2.45 0 1,0 4.9,0a2.45,2.45 0 1,0 -4.9,0M855.98,625.85a2.45,2.45 0 1,0 4.9,0a2.45,2.45 0 1,0 -4.9,0M866.35,625.85a2.45,2.45 0 1,0 4.9,0a2.45,2.45 0 1,0 -4.9,0M876.72,625.85a2.45,2.45 0 1,0 4.9,0a2.45,2.45 0 1,0 -4.9,0M887.09,625.85a2.45,2.45 0 1,0 4.9,0a2.45,2.45 0 1,0 -4.9,0M897.46,625.85a2.45,2.45 0 1,0 4.9,0a2.45,2.45 0 1,0 -4.9,0M907.83,625.85a2.45,2.45 0 1,0 4.9,0a2.45,2.45 0 1,0 -4.9,0M918.2,625.85a2.45,2.45 0 1,0 4.9,0a2.45,2.45 0 1,0 -4.9,0M695.25,634.78a2.45,2.45 0 1,0 4.9,0a2.45,2.45 0 1,0 -4.9,0M705.62,634.78a2.45,2.45 0 1,0 4.9,0a2.45,2.45 0 1,0 -4.9,0M715.99,634.78a2.45,2.45 0 1,0 4.9,0a2.45,2.45 0 1,0 -4.9,0M726.36,634.78a2.45,2.45 0 1,0 4.9,0a2.45,2.45 0 1,0 -4.9,0M736.73,634.78a2.45,2.45 0 1,0 4.9,0a2.45,2.45 0 1,0 -4.9,0M747.1,634.78a2.45,2.45 0 1,0 4.9,0a2.45,2.45 0 1,0 -4.9,0M757.47,634.78a2.45,2.45 0 1,0 4.9,0a2.45,2.45 0 1,0 -4.9,0M767.84,634.78a2.45,2.45 0 1,0 4.9,0a2.45,2.45 0 1,0 -4.9,0M778.21,634.78a2.45,2.45 0 1,0 4.9,0a2.45,2.45 0 1,0 -4.9,0M788.58,634.78a2.45,2.45 0 1,0 4.9,0a2.45,2.45 0 1,0 -4.9,0M798.95,634.78a2.45,2.45 0 1,0 4.9,0a2.45,2.45 0 1,0 -4.9,0M809.32,634.78a2.45,2.45 0 1,0 4.9,0a2.45,2.45 0 1,0 -4.9,0M819.69,634.78a2.45,2.45 0 1,0 4.9,0a2.45,2.45 0 1,0 -4.9,0M830.06,634.78a2.45,2.45 0 1,0 4.9,0a2.45,2.45 0 1,0 -4.9,0M840.43,634.78a2.45,2.45 0 1,0 4.9,0a2.45,2.45 0 1,0 -4.9,0M850.8,634.78a2.45,2.45 0 1,0 4.9,0a2.45,2.45 0 1,0 -4.9,0M861.17,634.78a2.45,2.45 0 1,0 4.9,0a2.45,2.45 0 1,0 -4.9,0M871.54,634.78a2.45,2.45 0 1,0 4.9,0a2.45,2.45 0 1,0 -4.9,0M881.91,634.78a2.45,2.45 0 1,0 4.9,0a2.45,2.45 0 1,0 -4.9,0M892.28,634.78a2.45,2.45 0 1,0 4.9,0a2.45,2.45 0 1,0 -4.9,0M902.65,634.78a2.45,2.45 0 1,0 4.9,0a2.45,2.45 0 1,0 -4.9,0M913.02,634.78a2.45,2.45 0 1,0 4.9,0a2.45,2.45 0 1,0 -4.9,0M923.39,634.78a2.45,2.45 0 1,0 4.9,0a2.45,2.45 0 1,0 -4.9,0M700.43,643.71a2.45,2.45 0 1,0 4.9,0a2.45,2.45 0 1,0 -4.9,0M710.8,643.71a2.45,2.45 0 1,0 4.9,0a2.45,2.45 0 1,0 -4.9,0M721.17,643.71a2.45,2.45 0 1,0 4.9,0a2.45,2.45 0 1,0 -4.9,0M731.54,643.71a2.45,2.45 0 1,0 4.9,0a2.45,2.45 0 1,0 -4.9,0M741.91,643.71a2.45,2.45 0 1,0 4.9,0a2.45,2.45 0 1,0 -4.9,0M752.28,643.71a2.45,2.45 0 1,0 4.9,0a2.45,2.45 0 1,0 -4.9,0M762.65,643.71a2.45,2.45 0 1,0 4.9,0a2.45,2.45 0 1,0 -4.9,0M773.02,643.71a2.45,2.45 0 1,0 4.9,0a2.45,2.45 0 1,0 -4.9,0M783.39,643.71a2.45,2.45 0 1,0 4.9,0a2.45,2.45 0 1,0 -4.9,0M793.76,643.71a2.45,2.45 0 1,0 4.9,0a2.45,2.45 0 1,0 -4.9,0M804.13,643.71a2.45,2.45 0 1,0 4.9,0a2.45,2.45 0 1,0 -4.9,0M814.5,643.71a2.45,2.45 0 1,0 4.9,0a2.45,2.45 0 1,0 -4.9,0M824.88,643.71a2.45,2.45 0 1,0 4.9,0a2.45,2.45 0 1,0 -4.9,0M835.24,643.71a2.45,2.45 0 1,0 4.9,0a2.45,2.45 0 1,0 -4.9,0M845.61,643.71a2.45,2.45 0 1,0 4.9,0a2.45,2.45 0 1,0 -4.9,0M855.98,643.71a2.45,2.45 0 1,0 4.9,0a2.45,2.45 0 1,0 -4.9,0M866.35,643.71a2.45,2.45 0 1,0 4.9,0a2.45,2.45 0 1,0 -4.9,0M876.72,643.71a2.45,2.45 0 1,0 4.9,0a2.45,2.45 0 1,0 -4.9,0M887.09,643.71a2.45,2.45 0 1,0 4.9,0a2.45,2.45 0 1,0 -4.9,0M897.46,643.71a2.45,2.45 0 1,0 4.9,0a2.45,2.45 0 1,0 -4.9,0M907.83,643.71a2.45,2.45 0 1,0 4.9,0a2.45,2.45 0 1,0 -4.9,0M918.2,643.71a2.45,2.45 0 1,0 4.9,0a2.45,2.45 0 1,0 -4.9,0M695.25,652.64a2.45,2.45 0 1,0 4.9,0a2.45,2.45 0 1,0 -4.9,0M705.62,652.64a2.45,2.45 0 1,0 4.9,0a2.45,2.45 0 1,0 -4.9,0M715.99,652.64a2.45,2.45 0 1,0 4.9,0a2.45,2.45 0 1,0 -4.9,0M726.36,652.64a2.45,2.45 0 1,0 4.9,0a2.45,2.45 0 1,0 -4.9,0M736.73,652.64a2.45,2.45 0 1,0 4.9,0a2.45,2.45 0 1,0 -4.9,0M747.1,652.64a2.45,2.45 0 1,0 4.9,0a2.45,2.45 0 1,0 -4.9,0M757.47,652.64a2.45,2.45 0 1,0 4.9,0a2.45,2.45 0 1,0 -4.9,0M767.84,652.64a2.45,2.45 0 1,0 4.9,0a2.45,2.45 0 1,0 -4.9,0M778.21,652.64a2.45,2.45 0 1,0 4.9,0a2.45,2.45 0 1,0 -4.9,0M788.58,652.64a2.45,2.45 0 1,0 4.9,0a2.45,2.45 0 1,0 -4.9,0M798.95,652.64a2.45,2.45 0 1,0 4.9,0a2.45,2.45 0 1,0 -4.9,0M809.32,652.64a2.45,2.45 0 1,0 4.9,0a2.45,2.45 0 1,0 -4.9,0M819.69,652.64a2.45,2.45 0 1,0 4.9,0a2.45,2.45 0 1,0 -4.9,0M830.06,652.64a2.45,2.45 0 1,0 4.9,0a2.45,2.45 0 1,0 -4.9,0M840.43,652.64a2.45,2.45 0 1,0 4.9,0a2.45,2.45 0 1,0 -4.9,0M850.8,652.64a2.45,2.45 0 1,0 4.9,0a2.45,2.45 0 1,0 -4.9,0M861.17,652.64a2.45,2.45 0 1,0 4.9,0a2.45,2.45 0 1,0 -4.9,0M871.54,652.64a2.45,2.45 0 1,0 4.9,0a2.45,2.45 0 1,0 -4.9,0M881.91,652.64a2.45,2.45 0 1,0 4.9,0a2.45,2.45 0 1,0 -4.9,0M892.28,652.64a2.45,2.45 0 1,0 4.9,0a2.45,2.45 0 1,0 -4.9,0M902.65,652.64a2.45,2.45 0 1,0 4.9,0a2.45,2.45 0 1,0 -4.9,0M913.02,652.64a2.45,2.45 0 1,0 4.9,0a2.45,2.45 0 1,0 -4.9,0M923.39,652.64a2.45,2.45 0 1,0 4.9,0a2.45,2.45 0 1,0 -4.9,0M700.43,661.57a2.45,2.45 0 1,0 4.9,0a2.45,2.45 0 1,0 -4.9,0M710.8,661.57a2.45,2.45 0 1,0 4.9,0a2.45,2.45 0 1,0 -4.9,0M721.17,661.57a2.45,2.45 0 1,0 4.9,0a2.45,2.45 0 1,0 -4.9,0M731.54,661.57a2.45,2.45 0 1,0 4.9,0a2.45,2.45 0 1,0 -4.9,0M741.91,661.57a2.45,2.45 0 1,0 4.9,0a2.45,2.45 0 1,0 -4.9,0M752.28,661.57a2.45,2.45 0 1,0 4.9,0a2.45,2.45 0 1,0 -4.9,0M762.65,661.57a2.45,2.45 0 1,0 4.9,0a2.45,2.45 0 1,0 -4.9,0M773.02,661.57a2.45,2.45 0 1,0 4.9,0a2.45,2.45 0 1,0 -4.9,0M783.39,661.57a2.45,2.45 0 1,0 4.9,0a2.45,2.45 0 1,0 -4.9,0M793.76,661.57a2.45,2.45 0 1,0 4.9,0a2.45,2.45 0 1,0 -4.9,0M804.13,661.57a2.45,2.45 0 1,0 4.9,0a2.45,2.45 0 1,0 -4.9,0M814.5,661.57a2.45,2.45 0 1,0 4.9,0a2.45,2.45 0 1,0 -4.9,0M824.88,661.57a2.45,2.45 0 1,0 4.9,0a2.45,2.45 0 1,0 -4.9,0M835.24,661.57a2.45,2.45 0 1,0 4.9,0a2.45,2.45 0 1,0 -4.9,0M845.61,661.57a2.45,2.45 0 1,0 4.9,0a2.45,2.45 0 1,0 -4.9,0M855.98,661.57a2.45,2.45 0 1,0 4.9,0a2.45,2.45 0 1,0 -4.9,0M866.35,661.57a2.45,2.45 0 1,0 4.9,0a2.45,2.45 0 1,0 -4.9,0M876.72,661.57a2.45,2.45 0 1,0 4.9,0a2.45,2.45 0 1,0 -4.9,0M887.09,661.57a2.45,2.45 0 1,0 4.9,0a2.45,2.45 0 1,0 -4.9,0M897.46,661.57a2.45,2.45 0 1,0 4.9,0a2.45,2.45 0 1,0 -4.9,0M907.83,661.57a2.45,2.45 0 1,0 4.9,0a2.45,2.45 0 1,0 -4.9,0M918.2,661.57a2.45,2.45 0 1,0 4.9,0a2.45,2.45 0 1,0 -4.9,0M695.25,670.5a2.45,2.45 0 1,0 4.9,0a2.45,2.45 0 1,0 -4.9,0M705.62,670.5a2.45,2.45 0 1,0 4.9,0a2.45,2.45 0 1,0 -4.9,0M715.99,670.5a2.45,2.45 0 1,0 4.9,0a2.45,2.45 0 1,0 -4.9,0M726.36,670.5a2.45,2.45 0 1,0 4.9,0a2.45,2.45 0 1,0 -4.9,0M736.73,670.5a2.45,2.45 0 1,0 4.9,0a2.45,2.45 0 1,0 -4.9,0M747.1,670.5a2.45,2.45 0 1,0 4.9,0a2.45,2.45 0 1,0 -4.9,0M757.47,670.5a2.45,2.45 0 1,0 4.9,0a2.45,2.45 0 1,0 -4.9,0M767.84,670.5a2.45,2.45 0 1,0 4.9,0a2.45,2.45 0 1,0 -4.9,0M778.21,670.5a2.45,2.45 0 1,0 4.9,0a2.45,2.45 0 1,0 -4.9,0M788.58,670.5a2.45,2.45 0 1,0 4.9,0a2.45,2.45 0 1,0 -4.9,0M798.95,670.5a2.45,2.45 0 1,0 4.9,0a2.45,2.45 0 1,0 -4.9,0M809.32,670.5a2.45,2.45 0 1,0 4.9,0a2.45,2.45 0 1,0 -4.9,0M819.69,670.5a2.45,2.45 0 1,0 4.9,0a2.45,2.45 0 1,0 -4.9,0M830.06,670.5a2.45,2.45 0 1,0 4.9,0a2.45,2.45 0 1,0 -4.9,0M840.43,670.5a2.45,2.45 0 1,0 4.9,0a2.45,2.45 0 1,0 -4.9,0M850.8,670.5a2.45,2.45 0 1,0 4.9,0a2.45,2.45 0 1,0 -4.9,0M861.17,670.5a2.45,2.45 0 1,0 4.9,0a2.45,2.45 0 1,0 -4.9,0M871.54,670.5a2.45,2.45 0 1,0 4.9,0a2.45,2.45 0 1,0 -4.9,0M881.91,670.5a2.45,2.45 0 1,0 4.9,0a2.45,2.45 0 1,0 -4.9,0M892.28,670.5a2.45,2.45 0 1,0 4.9,0a2.45,2.45 0 1,0 -4.9,0M902.65,670.5a2.45,2.45 0 1,0 4.9,0a2.45,2.45 0 1,0 -4.9,0M913.02,670.5a2.45,2.45 0 1,0 4.9,0a2.45,2.45 0 1,0 -4.9,0M923.39,670.5a2.45,2.45 0 1,0 4.9,0a2.45,2.45 0 1,0 -4.9,0M700.43,679.43a2.45,2.45 0 1,0 4.9,0a2.45,2.45 0 1,0 -4.9,0M710.8,679.43a2.45,2.45 0 1,0 4.9,0a2.45,2.45 0 1,0 -4.9,0M721.17,679.43a2.45,2.45 0 1,0 4.9,0a2.45,2.45 0 1,0 -4.9,0M731.54,679.43a2.45,2.45 0 1,0 4.9,0a2.45,2.45 0 1,0 -4.9,0M741.91,679.43a2.45,2.45 0 1,0 4.9,0a2.45,2.45 0 1,0 -4.9,0M752.28,679.43a2.45,2.45 0 1,0 4.9,0a2.45,2.45 0 1,0 -4.9,0M762.65,679.43a2.45,2.45 0 1,0 4.9,0a2.45,2.45 0 1,0 -4.9,0M773.02,679.43a2.45,2.45 0 1,0 4.9,0a2.45,2.45 0 1,0 -4.9,0M783.39,679.43a2.45,2.45 0 1,0 4.9,0a2.45,2.45 0 1,0 -4.9,0M793.76,679.43a2.45,2.45 0 1,0 4.9,0a2.45,2.45 0 1,0 -4.9,0M804.13,679.43a2.45,2.45 0 1,0 4.9,0a2.45,2.45 0 1,0 -4.9,0M814.5,679.43a2.45,2.45 0 1,0 4.9,0a2.45,2.45 0 1,0 -4.9,0M824.88,679.43a2.45,2.45 0 1,0 4.9,0a2.45,2.45 0 1,0 -4.9,0M835.24,679.43a2.45,2.45 0 1,0 4.9,0a2.45,2.45 0 1,0 -4.9,0M845.61,679.43a2.45,2.45 0 1,0 4.9,0a2.45,2.45 0 1,0 -4.9,0M855.98,679.43a2.45,2.45 0 1,0 4.9,0a2.45,2.45 0 1,0 -4.9,0M866.35,679.43a2.45,2.45 0 1,0 4.9,0a2.45,2.45 0 1,0 -4.9,0M876.72,679.43a2.45,2.45 0 1,0 4.9,0a2.45,2.45 0 1,0 -4.9,0M887.09,679.43a2.45,2.45 0 1,0 4.9,0a2.45,2.45 0 1,0 -4.9,0M897.46,679.43a2.45,2.45 0 1,0 4.9,0a2.45,2.45 0 1,0 -4.9,0M907.83,679.43a2.45,2.45 0 1,0 4.9,0a2.45,2.45 0 1,0 -4.9,0M918.2,679.43a2.45,2.45 0 1,0 4.9,0a2.45,2.45 0 1,0 -4.9,0M695.25,688.36a2.45,2.45 0 1,0 4.9,0a2.45,2.45 0 1,0 -4.9,0M705.62,688.36a2.45,2.45 0 1,0 4.9,0a2.45,2.45 0 1,0 -4.9,0M715.99,688.36a2.45,2.45 0 1,0 4.9,0a2.45,2.45 0 1,0 -4.9,0M726.36,688.36a2.45,2.45 0 1,0 4.9,0a2.45,2.45 0 1,0 -4.9,0M736.73,688.36a2.45,2.45 0 1,0 4.9,0a2.45,2.45 0 1,0 -4.9,0M747.1,688.36a2.45,2.45 0 1,0 4.9,0a2.45,2.45 0 1,0 -4.9,0M757.47,688.36a2.45,2.45 0 1,0 4.9,0a2.45,2.45 0 1,0 -4.9,0M767.84,688.36a2.45,2.45 0 1,0 4.9,0a2.45,2.45 0 1,0 -4.9,0M778.21,688.36a2.45,2.45 0 1,0 4.9,0a2.45,2.45 0 1,0 -4.9,0M788.58,688.36a2.45,2.45 0 1,0 4.9,0a2.45,2.45 0 1,0 -4.9,0M798.95,688.36a2.45,2.45 0 1,0 4.9,0a2.45,2.45 0 1,0 -4.9,0M809.32,688.36a2.45,2.45 0 1,0 4.9,0a2.45,2.45 0 1,0 -4.9,0M819.69,688.36a2.45,2.45 0 1,0 4.9,0a2.45,2.45 0 1,0 -4.9,0M830.06,688.36a2.45,2.45 0 1,0 4.9,0a2.45,2.45 0 1,0 -4.9,0M840.43,688.36a2.45,2.45 0 1,0 4.9,0a2.45,2.45 0 1,0 -4.9,0M850.8,688.36a2.45,2.45 0 1,0 4.9,0a2.45,2.45 0 1,0 -4.9,0M861.17,688.36a2.45,2.45 0 1,0 4.9,0a2.45,2.45 0 1,0 -4.9,0M871.54,688.36a2.45,2.45 0 1,0 4.9,0a2.45,2.45 0 1,0 -4.9,0M881.91,688.36a2.45,2.45 0 1,0 4.9,0a2.45,2.45 0 1,0 -4.9,0M892.28,688.36a2.45,2.45 0 1,0 4.9,0a2.45,2.45 0 1,0 -4.9,0M902.65,688.36a2.45,2.45 0 1,0 4.9,0a2.45,2.45 0 1,0 -4.9,0M913.02,688.36a2.45,2.45 0 1,0 4.9,0a2.45,2.45 0 1,0 -4.9,0M923.39,688.36a2.45,2.45 0 1,0 4.9,0a2.45,2.45 0 1,0 -4.9,0M700.43,697.29a2.45,2.45 0 1,0 4.9,0a2.45,2.45 0 1,0 -4.9,0M710.8,697.29a2.45,2.45 0 1,0 4.9,0a2.45,2.45 0 1,0 -4.9,0M721.17,697.29a2.45,2.45 0 1,0 4.9,0a2.45,2.45 0 1,0 -4.9,0M731.54,697.29a2.45,2.45 0 1,0 4.9,0a2.45,2.45 0 1,0 -4.9,0M741.91,697.29a2.45,2.45 0 1,0 4.9,0a2.45,2.45 0 1,0 -4.9,0M752.28,697.29a2.45,2.45 0 1,0 4.9,0a2.45,2.45 0 1,0 -4.9,0M762.65,697.29a2.45,2.45 0 1,0 4.9,0a2.45,2.45 0 1,0 -4.9,0M773.02,697.29a2.45,2.45 0 1,0 4.9,0a2.45,2.45 0 1,0 -4.9,0M783.39,697.29a2.45,2.45 0 1,0 4.9,0a2.45,2.45 0 1,0 -4.9,0M793.76,697.29a2.45,2.45 0 1,0 4.9,0a2.45,2.45 0 1,0 -4.9,0M804.13,697.29a2.45,2.45 0 1,0 4.9,0a2.45,2.45 0 1,0 -4.9,0M814.5,697.29a2.45,2.45 0 1,0 4.9,0a2.45,2.45 0 1,0 -4.9,0M824.88,697.29a2.45,2.45 0 1,0 4.9,0a2.45,2.45 0 1,0 -4.9,0M835.24,697.29a2.45,2.45 0 1,0 4.9,0a2.45,2.45 0 1,0 -4.9,0M845.61,697.29a2.45,2.45 0 1,0 4.9,0a2.45,2.45 0 1,0 -4.9,0M855.98,697.29a2.45,2.45 0 1,0 4.9,0a2.45,2.45 0 1,0 -4.9,0M866.35,697.29a2.45,2.45 0 1,0 4.9,0a2.45,2.45 0 1,0 -4.9,0M876.72,697.29a2.45,2.45 0 1,0 4.9,0a2.45,2.45 0 1,0 -4.9,0M887.09,697.29a2.45,2.45 0 1,0 4.9,0a2.45,2.45 0 1,0 -4.9,0M897.46,697.29a2.45,2.45 0 1,0 4.9,0a2.45,2.45 0 1,0 -4.9,0M907.83,697.29a2.45,2.45 0 1,0 4.9,0a2.45,2.45 0 1,0 -4.9,0M918.2,697.29a2.45,2.45 0 1,0 4.9,0a2.45,2.45 0 1,0 -4.9,0M695.25,706.22a2.45,2.45 0 1,0 4.9,0a2.45,2.45 0 1,0 -4.9,0M705.62,706.22a2.45,2.45 0 1,0 4.9,0a2.45,2.45 0 1,0 -4.9,0M715.99,706.22a2.45,2.45 0 1,0 4.9,0a2.45,2.45 0 1,0 -4.9,0M726.36,706.22a2.45,2.45 0 1,0 4.9,0a2.45,2.45 0 1,0 -4.9,0M736.73,706.22a2.45,2.45 0 1,0 4.9,0a2.45,2.45 0 1,0 -4.9,0M747.1,706.22a2.45,2.45 0 1,0 4.9,0a2.45,2.45 0 1,0 -4.9,0M757.47,706.22a2.45,2.45 0 1,0 4.9,0a2.45,2.45 0 1,0 -4.9,0M767.84,706.22a2.45,2.45 0 1,0 4.9,0a2.45,2.45 0 1,0 -4.9,0M778.21,706.22a2.45,2.45 0 1,0 4.9,0a2.45,2.45 0 1,0 -4.9,0M788.58,706.22a2.45,2.45 0 1,0 4.9,0a2.45,2.45 0 1,0 -4.9,0M798.95,706.22a2.45,2.45 0 1,0 4.9,0a2.45,2.45 0 1,0 -4.9,0M809.32,706.22a2.45,2.45 0 1,0 4.9,0a2.45,2.45 0 1,0 -4.9,0M819.69,706.22a2.45,2.45 0 1,0 4.9,0a2.45,2.45 0 1,0 -4.9,0M830.06,706.22a2.45,2.45 0 1,0 4.9,0a2.45,2.45 0 1,0 -4.9,0M840.43,706.22a2.45,2.45 0 1,0 4.9,0a2.45,2.45 0 1,0 -4.9,0M850.8,706.22a2.45,2.45 0 1,0 4.9,0a2.45,2.45 0 1,0 -4.9,0M861.17,706.22a2.45,2.45 0 1,0 4.9,0a2.45,2.45 0 1,0 -4.9,0M871.54,706.22a2.45,2.45 0 1,0 4.9,0a2.45,2.45 0 1,0 -4.9,0M881.91,706.22a2.45,2.45 0 1,0 4.9,0a2.45,2.45 0 1,0 -4.9,0M892.28,706.22a2.45,2.45 0 1,0 4.9,0a2.45,2.45 0 1,0 -4.9,0M902.65,706.22a2.45,2.45 0 1,0 4.9,0a2.45,2.45 0 1,0 -4.9,0M913.02,706.22a2.45,2.45 0 1,0 4.9,0a2.45,2.45 0 1,0 -4.9,0M923.39,706.22a2.45,2.45 0 1,0 4.9,0a2.45,2.45 0 1,0 -4.9,0M700.43,715.15a2.45,2.45 0 1,0 4.9,0a2.45,2.45 0 1,0 -4.9,0M710.8,715.15a2.45,2.45 0 1,0 4.9,0a2.45,2.45 0 1,0 -4.9,0M721.17,715.15a2.45,2.45 0 1,0 4.9,0a2.45,2.45 0 1,0 -4.9,0M731.54,715.15a2.45,2.45 0 1,0 4.9,0a2.45,2.45 0 1,0 -4.9,0M741.91,715.15a2.45,2.45 0 1,0 4.9,0a2.45,2.45 0 1,0 -4.9,0M752.28,715.15a2.45,2.45 0 1,0 4.9,0a2.45,2.45 0 1,0 -4.9,0M762.65,715.15a2.45,2.45 0 1,0 4.9,0a2.45,2.45 0 1,0 -4.9,0M773.02,715.15a2.45,2.45 0 1,0 4.9,0a2.45,2.45 0 1,0 -4.9,0M783.39,715.15a2.45,2.45 0 1,0 4.9,0a2.45,2.45 0 1,0 -4.9,0M793.76,715.15a2.45,2.45 0 1,0 4.9,0a2.45,2.45 0 1,0 -4.9,0M804.13,715.15a2.45,2.45 0 1,0 4.9,0a2.45,2.45 0 1,0 -4.9,0M814.5,715.15a2.45,2.45 0 1,0 4.9,0a2.45,2.45 0 1,0 -4.9,0M824.88,715.15a2.45,2.45 0 1,0 4.9,0a2.45,2.45 0 1,0 -4.9,0M835.24,715.15a2.45,2.45 0 1,0 4.9,0a2.45,2.45 0 1,0 -4.9,0M845.61,715.15a2.45,2.45 0 1,0 4.9,0a2.45,2.45 0 1,0 -4.9,0M855.98,715.15a2.45,2.45 0 1,0 4.9,0a2.45,2.45 0 1,0 -4.9,0M866.35,715.15a2.45,2.45 0 1,0 4.9,0a2.45,2.45 0 1,0 -4.9,0M876.72,715.15a2.45,2.45 0 1,0 4.9,0a2.45,2.45 0 1,0 -4.9,0M887.09,715.15a2.45,2.45 0 1,0 4.9,0a2.45,2.45 0 1,0 -4.9,0M897.46,715.15a2.45,2.45 0 1,0 4.9,0a2.45,2.45 0 1,0 -4.9,0M907.83,715.15a2.45,2.45 0 1,0 4.9,0a2.45,2.45 0 1,0 -4.9,0M918.2,715.15a2.45,2.45 0 1,0 4.9,0a2.45,2.45 0 1,0 -4.9,0M695.25,724.08a2.45,2.45 0 1,0 4.9,0a2.45,2.45 0 1,0 -4.9,0M705.62,724.08a2.45,2.45 0 1,0 4.9,0a2.45,2.45 0 1,0 -4.9,0M715.99,724.08a2.45,2.45 0 1,0 4.9,0a2.45,2.45 0 1,0 -4.9,0M726.36,724.08a2.45,2.45 0 1,0 4.9,0a2.45,2.45 0 1,0 -4.9,0M736.73,724.08a2.45,2.45 0 1,0 4.9,0a2.45,2.45 0 1,0 -4.9,0M747.1,724.08a2.45,2.45 0 1,0 4.9,0a2.45,2.45 0 1,0 -4.9,0M757.47,724.08a2.45,2.45 0 1,0 4.9,0a2.45,2.45 0 1,0 -4.9,0M767.84,724.08a2.45,2.45 0 1,0 4.9,0a2.45,2.45 0 1,0 -4.9,0M778.21,724.08a2.45,2.45 0 1,0 4.9,0a2.45,2.45 0 1,0 -4.9,0M788.58,724.08a2.45,2.45 0 1,0 4.9,0a2.45,2.45 0 1,0 -4.9,0M798.95,724.08a2.45,2.45 0 1,0 4.9,0a2.45,2.45 0 1,0 -4.9,0M809.32,724.08a2.45,2.45 0 1,0 4.9,0a2.45,2.45 0 1,0 -4.9,0M819.69,724.08a2.45,2.45 0 1,0 4.9,0a2.45,2.45 0 1,0 -4.9,0M830.06,724.08a2.45,2.45 0 1,0 4.9,0a2.45,2.45 0 1,0 -4.9,0M840.43,724.08a2.45,2.45 0 1,0 4.9,0a2.45,2.45 0 1,0 -4.9,0M850.8,724.08a2.45,2.45 0 1,0 4.9,0a2.45,2.45 0 1,0 -4.9,0M861.17,724.08a2.45,2.45 0 1,0 4.9,0a2.45,2.45 0 1,0 -4.9,0M871.54,724.08a2.45,2.45 0 1,0 4.9,0a2.45,2.45 0 1,0 -4.9,0M881.91,724.08a2.45,2.45 0 1,0 4.9,0a2.45,2.45 0 1,0 -4.9,0M892.28,724.08a2.45,2.45 0 1,0 4.9,0a2.45,2.45 0 1,0 -4.9,0M902.65,724.08a2.45,2.45 0 1,0 4.9,0a2.45,2.45 0 1,0 -4.9,0M913.02,724.08a2.45,2.45 0 1,0 4.9,0a2.45,2.45 0 1,0 -4.9,0M923.39,724.08a2.45,2.45 0 1,0 4.9,0a2.45,2.45 0 1,0 -4.9,0M700.43,733.01a2.45,2.45 0 1,0 4.9,0a2.45,2.45 0 1,0 -4.9,0M710.8,733.01a2.45,2.45 0 1,0 4.9,0a2.45,2.45 0 1,0 -4.9,0M721.17,733.01a2.45,2.45 0 1,0 4.9,0a2.45,2.45 0 1,0 -4.9,0M731.54,733.01a2.45,2.45 0 1,0 4.9,0a2.45,2.45 0 1,0 -4.9,0M741.91,733.01a2.45,2.45 0 1,0 4.9,0a2.45,2.45 0 1,0 -4.9,0M752.28,733.01a2.45,2.45 0 1,0 4.9,0a2.45,2.45 0 1,0 -4.9,0M762.65,733.01a2.45,2.45 0 1,0 4.9,0a2.45,2.45 0 1,0 -4.9,0M773.02,733.01a2.45,2.45 0 1,0 4.9,0a2.45,2.45 0 1,0 -4.9,0M783.39,733.01a2.45,2.45 0 1,0 4.9,0a2.45,2.45 0 1,0 -4.9,0M793.76,733.01a2.45,2.45 0 1,0 4.9,0a2.45,2.45 0 1,0 -4.9,0M804.13,733.01a2.45,2.45 0 1,0 4.9,0a2.45,2.45 0 1,0 -4.9,0M814.5,733.01a2.45,2.45 0 1,0 4.9,0a2.45,2.45 0 1,0 -4.9,0M824.88,733.01a2.45,2.45 0 1,0 4.9,0a2.45,2.45 0 1,0 -4.9,0M835.24,733.01a2.45,2.45 0 1,0 4.9,0a2.45,2.45 0 1,0 -4.9,0M845.61,733.01a2.45,2.45 0 1,0 4.9,0a2.45,2.45 0 1,0 -4.9,0M855.98,733.01a2.45,2.45 0 1,0 4.9,0a2.45,2.45 0 1,0 -4.9,0M866.35,733.01a2.45,2.45 0 1,0 4.9,0a2.45,2.45 0 1,0 -4.9,0M876.72,733.01a2.45,2.45 0 1,0 4.9,0a2.45,2.45 0 1,0 -4.9,0M887.09,733.01a2.45,2.45 0 1,0 4.9,0a2.45,2.45 0 1,0 -4.9,0M897.46,733.01a2.45,2.45 0 1,0 4.9,0a2.45,2.45 0 1,0 -4.9,0M907.83,733.01a2.45,2.45 0 1,0 4.9,0a2.45,2.45 0 1,0 -4.9,0M918.2,733.01a2.45,2.45 0 1,0 4.9,0a2.45,2.45 0 1,0 -4.9,0M695.25,741.94a2.45,2.45 0 1,0 4.9,0a2.45,2.45 0 1,0 -4.9,0M705.62,741.94a2.45,2.45 0 1,0 4.9,0a2.45,2.45 0 1,0 -4.9,0M715.99,741.94a2.45,2.45 0 1,0 4.9,0a2.45,2.45 0 1,0 -4.9,0M726.36,741.94a2.45,2.45 0 1,0 4.9,0a2.45,2.45 0 1,0 -4.9,0M736.73,741.94a2.45,2.45 0 1,0 4.9,0a2.45,2.45 0 1,0 -4.9,0M747.1,741.94a2.45,2.45 0 1,0 4.9,0a2.45,2.45 0 1,0 -4.9,0M757.47,741.94a2.45,2.45 0 1,0 4.9,0a2.45,2.45 0 1,0 -4.9,0M767.84,741.94a2.45,2.45 0 1,0 4.9,0a2.45,2.45 0 1,0 -4.9,0M778.21,741.94a2.45,2.45 0 1,0 4.9,0a2.45,2.45 0 1,0 -4.9,0M788.58,741.94a2.45,2.45 0 1,0 4.9,0a2.45,2.45 0 1,0 -4.9,0M798.95,741.94a2.45,2.45 0 1,0 4.9,0a2.45,2.45 0 1,0 -4.9,0M809.32,741.94a2.45,2.45 0 1,0 4.9,0a2.45,2.45 0 1,0 -4.9,0M819.69,741.94a2.45,2.45 0 1,0 4.9,0a2.45,2.45 0 1,0 -4.9,0M830.06,741.94a2.45,2.45 0 1,0 4.9,0a2.45,2.45 0 1,0 -4.9,0M840.43,741.94a2.45,2.45 0 1,0 4.9,0a2.45,2.45 0 1,0 -4.9,0M850.8,741.94a2.45,2.45 0 1,0 4.9,0a2.45,2.45 0 1,0 -4.9,0M861.17,741.94a2.45,2.45 0 1,0 4.9,0a2.45,2.45 0 1,0 -4.9,0M871.54,741.94a2.45,2.45 0 1,0 4.9,0a2.45,2.45 0 1,0 -4.9,0M881.91,741.94a2.45,2.45 0 1,0 4.9,0a2.45,2.45 0 1,0 -4.9,0M892.28,741.94a2.45,2.45 0 1,0 4.9,0a2.45,2.45 0 1,0 -4.9,0M902.65,741.94a2.45,2.45 0 1,0 4.9,0a2.45,2.45 0 1,0 -4.9,0M913.02,741.94a2.45,2.45 0 1,0 4.9,0a2.45,2.45 0 1,0 -4.9,0M923.39,741.94a2.45,2.45 0 1,0 4.9,0a2.45,2.45 0 1,0 -4.9,0" stroke="#1c1c1c" stroke-width="0.85" fill="none"/>
<path d="M695.4,724.78a2.4,2.4 0 0,0 4.6,0ZM705.77,724.78a2.4,2.4 0 0,0 4.6,0ZM716.14,724.78a2.4,2.4 0 0,0 4.6,0ZM726.51,724.78a2.4,2.4 0 0,0 4.6,0ZM736.88,724.78a2.4,2.4 0 0,0 4.6,0ZM747.25,724.78a2.4,2.4 0 0,0 4.6,0ZM757.62,724.78a2.4,2.4 0 0,0 4.6,0ZM767.99,724.78a2.4,2.4 0 0,0 4.6,0ZM778.36,724.78a2.4,2.4 0 0,0 4.6,0ZM788.73,724.78a2.4,2.4 0 0,0 4.6,0ZM799.1,724.78a2.4,2.4 0 0,0 4.6,0ZM809.47,724.78a2.4,2.4 0 0,0 4.6,0ZM819.84,724.78a2.4,2.4 0 0,0 4.6,0ZM830.21,724.78a2.4,2.4 0 0,0 4.6,0ZM840.58,724.78a2.4,2.4 0 0,0 4.6,0ZM850.95,724.78a2.4,2.4 0 0,0 4.6,0ZM861.32,724.78a2.4,2.4 0 0,0 4.6,0ZM871.69,724.78a2.4,2.4 0 0,0 4.6,0ZM882.06,724.78a2.4,2.4 0 0,0 4.6,0ZM892.43,724.78a2.4,2.4 0 0,0 4.6,0ZM902.8,724.78a2.4,2.4 0 0,0 4.6,0ZM913.17,724.78a2.4,2.4 0 0,0 4.6,0ZM923.54,724.78a2.4,2.4 0 0,0 4.6,0Z" fill="#1c1c1c"/>
<path d="M742.07,732.31a2.4,2.4 0 0,1 4.6,0ZM752.44,732.31a2.4,2.4 0 0,1 4.6,0ZM762.81,732.31a2.4,2.4 0 0,1 4.6,0ZM773.18,732.31a2.4,2.4 0 0,1 4.6,0ZM783.55,732.31a2.4,2.4 0 0,1 4.6,0ZM793.92,732.31a2.4,2.4 0 0,1 4.6,0ZM804.29,732.31a2.4,2.4 0 0,1 4.6,0ZM814.65,732.31a2.4,2.4 0 0,1 4.6,0ZM825.03,732.31a2.4,2.4 0 0,1 4.6,0ZM835.39,732.31a2.4,2.4 0 0,1 4.6,0ZM845.76,732.31a2.4,2.4 0 0,1 4.6,0ZM856.13,732.31a2.4,2.4 0 0,1 4.6,0ZM866.5,732.31a2.4,2.4 0 0,1 4.6,0ZM876.88,732.31a2.4,2.4 0 0,1 4.6,0Z" fill="#1c1c1c"/>
<circle cx="702.88" cy="733.01" r="2.5" fill="#1c1c1c"/>
<circle cx="703.59" cy="733.71" r="0.8" fill="#ddd"/>
<circle cx="713.25" cy="733.01" r="2.5" fill="#1c1c1c"/>
<circle cx="713.96" cy="733.71" r="0.8" fill="#ddd"/>
<circle cx="723.62" cy="733.01" r="2.5" fill="#1c1c1c"/>
<circle cx="724.33" cy="733.71" r="0.8" fill="#ddd"/>
<circle cx="734" cy="733.01" r="2.5" fill="#1c1c1c"/>
<circle cx="734.7" cy="733.71" r="0.8" fill="#ddd"/>
<circle cx="889.54" cy="733.01" r="2.5" fill="#1c1c1c"/>
<circle cx="888.84" cy="733.71" r="0.8" fill="#ddd"/>
<circle cx="899.91" cy="733.01" r="2.5" fill="#1c1c1c"/>
<circle cx="899.21" cy="733.71" r="0.8" fill="#ddd"/>
<circle cx="910.28" cy="733.01" r="2.5" fill="#1c1c1c"/>
<circle cx="909.58" cy="733.71" r="0.8" fill="#ddd"/>
<circle cx="920.65" cy="733.01" r="2.5" fill="#1c1c1c"/>
<circle cx="919.95" cy="733.71" r="0.8" fill="#ddd"/>
<line x1="713.25" y1="659.27" x2="713.25" y2="663.87" stroke="#1c1c1c" stroke-width="1.0" />
<path d="M713.25,659.37a2.2,2.2 0 0,1 0,4.4" fill="none" stroke="#1c1c1c" stroke-width="1.4"/>
<line x1="910.28" y1="659.27" x2="910.28" y2="663.87" stroke="#1c1c1c" stroke-width="1.0" />
<path d="M910.28,659.37a2.2,2.2 0 0,0 0,4.4" fill="none" stroke="#1c1c1c" stroke-width="1.4"/>
<path d="M734,659.37a2.2,2.2 0 0,0 0,4.4Z" fill="#1c1c1c"/>
<path d="M889.54,659.37a2.2,2.2 0 0,1 0,4.4Z" fill="#1c1c1c"/>
<line x1="713.25" y1="677.13" x2="713.25" y2="681.73" stroke="#1c1c1c" stroke-width="1.0" />
<path d="M713.25,677.23a2.2,2.2 0 0,1 0,4.4" fill="none" stroke="#1c1c1c" stroke-width="1.4"/>
<line x1="910.28" y1="677.13" x2="910.28" y2="681.73" stroke="#1c1c1c" stroke-width="1.0" />
<path d="M910.28,677.23a2.2,2.2 0 0,0 0,4.4" fill="none" stroke="#1c1c1c" stroke-width="1.4"/>
<path d="M734,677.23a2.2,2.2 0 0,0 0,4.4Z" fill="#1c1c1c"/>
<path d="M889.54,677.23a2.2,2.2 0 0,1 0,4.4Z" fill="#1c1c1c"/>
<line x1="713.25" y1="694.99" x2="713.25" y2="699.59" stroke="#1c1c1c" stroke-width="1.0" />
<path d="M713.25,695.09a2.2,2.2 0 0,1 0,4.4" fill="none" stroke="#1c1c1c" stroke-width="1.4"/>
<line x1="910.28" y1="694.99" x2="910.28" y2="699.59" stroke="#1c1c1c" stroke-width="1.0" />
<path d="M910.28,695.09a2.2,2.2 0 0,0 0,4.4" fill="none" stroke="#1c1c1c" stroke-width="1.4"/>
<path d="M734,695.09a2.2,2.2 0 0,0 0,4.4Z" fill="#1c1c1c"/>
<path d="M889.54,695.09a2.2,2.2 0 0,1 0,4.4Z" fill="#1c1c1c"/>
<line x1="713.25" y1="712.85" x2="713.25" y2="717.45" stroke="#1c1c1c" stroke-width="1.0" />
<path d="M713.25,712.95a2.2,2.2 0 0,1 0,4.4" fill="none" stroke="#1c1c1c" stroke-width="1.4"/>
<line x1="910.28" y1="712.85" x2="910.28" y2="717.45" stroke="#1c1c1c" stroke-width="1.0" />
<path d="M910.28,712.95a2.2,2.2 0 0,0 0,4.4" fill="none" stroke="#1c1c1c" stroke-width="1.4"/>
<path d="M734,712.95a2.2,2.2 0 0,0 0,4.4Z" fill="#1c1c1c"/>
<path d="M889.54,712.95a2.2,2.2 0 0,1 0,4.4Z" fill="#1c1c1c"/>
<path d="M723.62,661.57L725.13,662.12A1.6,1.6 0 0,1 723.08,663.07Z" fill="#1c1c1c"/>
<path d="M899.91,661.57L900.46,663.07A1.6,1.6 0 0,1 898.41,662.12Z" fill="#1c1c1c"/>
<path d="M716.24,651.84a2.3,2.3 0 0,1 4.4,0Z" fill="#1c1c1c"/>
<path d="M726.61,651.84a2.3,2.3 0 0,1 4.4,0Z" fill="#1c1c1c"/>
<path d="M892.53,651.84a2.3,2.3 0 0,1 4.4,0Z" fill="#1c1c1c"/>
<path d="M902.9,651.84a2.3,2.3 0 0,1 4.4,0Z" fill="#1c1c1c"/>
<circle cx="718.44" cy="741.94" r="1.2" fill="none" stroke="#444" stroke-width="0.7"/>
<circle cx="728.81" cy="741.94" r="1.2" fill="none" stroke="#444" stroke-width="0.7"/>
<circle cx="894.73" cy="741.94" r="1.2" fill="none" stroke="#444" stroke-width="0.7"/>
<circle cx="905.1" cy="741.94" r="1.2" fill="none" stroke="#444" stroke-width="0.7"/>
<path d="M688,755L692.3,755L691.7,757.2L688.6,757.2Z" fill="#111"/>
<path d="M931.6,755L935.9,755L935.3,757.2L932.2,757.2Z" fill="#111"/>
<line x1="687.4" y1="556" x2="687.4" y2="568.5" stroke="#85a47a" stroke-width="1.25" />
<line x1="936.5" y1="556" x2="936.5" y2="568.5" stroke="#85a47a" stroke-width="1.25" />
<line x1="687.4" y1="559.4" x2="936.5" y2="559.4" stroke="#85a47a" stroke-width="1.25" />
<path transform="translate(687.4,559.4) rotate(180)" d="M0,0L-11.5,-1.9L-9.7,0L-11.5,1.9Z" fill="#1e5a12" stroke="none"/>
<path transform="translate(936.5,559.4) rotate(0)" d="M0,0L-11.5,-1.9L-9.7,0L-11.5,1.9Z" fill="#1e5a12" stroke="none"/>
<g transform="translate(805.52,543.42) rotate(0)" fill="none" stroke="#4d7340" stroke-width="1.05" stroke-linejoin="round" stroke-linecap="round"><path vector-effect="non-scaling-stroke" transform="translate(0,0) scale(1.21,1.13)" d="M0,10L2.5,0L5,10M0.85,6.9L4.15,6.9"/></g>
<line x1="672.5" y1="568.6" x2="687.4" y2="568.6" stroke="#85a47a" stroke-width="1.25" />
<line x1="672.5" y1="754.8" x2="687.4" y2="754.8" stroke="#85a47a" stroke-width="1.25" />
<line x1="675.7" y1="568.6" x2="675.7" y2="754.8" stroke="#85a47a" stroke-width="1.25" />
<path transform="translate(675.7,568.6) rotate(-90)" d="M0,0L-11.5,-1.9L-9.7,0L-11.5,1.9Z" fill="#1e5a12" stroke="none"/>
<path transform="translate(675.7,754.8) rotate(90)" d="M0,0L-11.5,-1.9L-9.7,0L-11.5,1.9Z" fill="#1e5a12" stroke="none"/>
<g transform="translate(659.52,657.27) rotate(-90)" fill="none" stroke="#4d7340" stroke-width="1.05" stroke-linejoin="round" stroke-linecap="round"><path vector-effect="non-scaling-stroke" transform="translate(0,0) scale(1.05,1.19)" d="M0,0L0,10L2.7,10Q5,10 5,7.3Q5,4.8 2.7,4.8L0,4.8M2.7,4.8Q4.7,4.8 4.7,2.4Q4.7,0 2.5,0L0,0"/></g>
<rect x="1072" y="568.8" width="126.7" height="185.6" rx="0" stroke="#000" stroke-width="1.4" fill="none"/>
<line x1="1192.3" y1="568.8" x2="1192.3" y2="754.4" stroke="#1a1a1a" stroke-width="1.0" />
<path d="M1081.95,581.2a2.45,2.45 0 1,0 4.9,0a2.45,2.45 0 1,0 -4.9,0M1092.32,581.2a2.45,2.45 0 1,0 4.9,0a2.45,2.45 0 1,0 -4.9,0M1102.69,581.2a2.45,2.45 0 1,0 4.9,0a2.45,2.45 0 1,0 -4.9,0M1113.06,581.2a2.45,2.45 0 1,0 4.9,0a2.45,2.45 0 1,0 -4.9,0M1123.43,581.2a2.45,2.45 0 1,0 4.9,0a2.45,2.45 0 1,0 -4.9,0M1133.8,581.2a2.45,2.45 0 1,0 4.9,0a2.45,2.45 0 1,0 -4.9,0M1144.17,581.2a2.45,2.45 0 1,0 4.9,0a2.45,2.45 0 1,0 -4.9,0M1154.54,581.2a2.45,2.45 0 1,0 4.9,0a2.45,2.45 0 1,0 -4.9,0M1164.91,581.2a2.45,2.45 0 1,0 4.9,0a2.45,2.45 0 1,0 -4.9,0M1175.28,581.2a2.45,2.45 0 1,0 4.9,0a2.45,2.45 0 1,0 -4.9,0M1087.13,590.13a2.45,2.45 0 1,0 4.9,0a2.45,2.45 0 1,0 -4.9,0M1097.5,590.13a2.45,2.45 0 1,0 4.9,0a2.45,2.45 0 1,0 -4.9,0M1107.88,590.13a2.45,2.45 0 1,0 4.9,0a2.45,2.45 0 1,0 -4.9,0M1118.24,590.13a2.45,2.45 0 1,0 4.9,0a2.45,2.45 0 1,0 -4.9,0M1128.62,590.13a2.45,2.45 0 1,0 4.9,0a2.45,2.45 0 1,0 -4.9,0M1138.98,590.13a2.45,2.45 0 1,0 4.9,0a2.45,2.45 0 1,0 -4.9,0M1149.36,590.13a2.45,2.45 0 1,0 4.9,0a2.45,2.45 0 1,0 -4.9,0M1159.72,590.13a2.45,2.45 0 1,0 4.9,0a2.45,2.45 0 1,0 -4.9,0M1170.1,590.13a2.45,2.45 0 1,0 4.9,0a2.45,2.45 0 1,0 -4.9,0M1081.95,599.06a2.45,2.45 0 1,0 4.9,0a2.45,2.45 0 1,0 -4.9,0M1092.32,599.06a2.45,2.45 0 1,0 4.9,0a2.45,2.45 0 1,0 -4.9,0M1102.69,599.06a2.45,2.45 0 1,0 4.9,0a2.45,2.45 0 1,0 -4.9,0M1113.06,599.06a2.45,2.45 0 1,0 4.9,0a2.45,2.45 0 1,0 -4.9,0M1123.43,599.06a2.45,2.45 0 1,0 4.9,0a2.45,2.45 0 1,0 -4.9,0M1133.8,599.06a2.45,2.45 0 1,0 4.9,0a2.45,2.45 0 1,0 -4.9,0M1144.17,599.06a2.45,2.45 0 1,0 4.9,0a2.45,2.45 0 1,0 -4.9,0M1154.54,599.06a2.45,2.45 0 1,0 4.9,0a2.45,2.45 0 1,0 -4.9,0M1164.91,599.06a2.45,2.45 0 1,0 4.9,0a2.45,2.45 0 1,0 -4.9,0M1175.28,599.06a2.45,2.45 0 1,0 4.9,0a2.45,2.45 0 1,0 -4.9,0M1087.13,607.99a2.45,2.45 0 1,0 4.9,0a2.45,2.45 0 1,0 -4.9,0M1097.5,607.99a2.45,2.45 0 1,0 4.9,0a2.45,2.45 0 1,0 -4.9,0M1107.88,607.99a2.45,2.45 0 1,0 4.9,0a2.45,2.45 0 1,0 -4.9,0M1118.24,607.99a2.45,2.45 0 1,0 4.9,0a2.45,2.45 0 1,0 -4.9,0M1128.62,607.99a2.45,2.45 0 1,0 4.9,0a2.45,2.45 0 1,0 -4.9,0M1138.98,607.99a2.45,2.45 0 1,0 4.9,0a2.45,2.45 0 1,0 -4.9,0M1149.36,607.99a2.45,2.45 0 1,0 4.9,0a2.45,2.45 0 1,0 -4.9,0M1159.72,607.99a2.45,2.45 0 1,0 4.9,0a2.45,2.45 0 1,0 -4.9,0M1170.1,607.99a2.45,2.45 0 1,0 4.9,0a2.45,2.45 0 1,0 -4.9,0M1081.95,616.92a2.45,2.45 0 1,0 4.9,0a2.45,2.45 0 1,0 -4.9,0M1092.32,616.92a2.45,2.45 0 1,0 4.9,0a2.45,2.45 0 1,0 -4.9,0M1102.69,616.92a2.45,2.45 0 1,0 4.9,0a2.45,2.45 0 1,0 -4.9,0M1113.06,616.92a2.45,2.45 0 1,0 4.9,0a2.45,2.45 0 1,0 -4.9,0M1123.43,616.92a2.45,2.45 0 1,0 4.9,0a2.45,2.45 0 1,0 -4.9,0M1133.8,616.92a2.45,2.45 0 1,0 4.9,0a2.45,2.45 0 1,0 -4.9,0M1144.17,616.92a2.45,2.45 0 1,0 4.9,0a2.45,2.45 0 1,0 -4.9,0M1154.54,616.92a2.45,2.45 0 1,0 4.9,0a2.45,2.45 0 1,0 -4.9,0M1164.91,616.92a2.45,2.45 0 1,0 4.9,0a2.45,2.45 0 1,0 -4.9,0M1175.28,616.92a2.45,2.45 0 1,0 4.9,0a2.45,2.45 0 1,0 -4.9,0M1087.13,625.85a2.45,2.45 0 1,0 4.9,0a2.45,2.45 0 1,0 -4.9,0M1097.5,625.85a2.45,2.45 0 1,0 4.9,0a2.45,2.45 0 1,0 -4.9,0M1107.88,625.85a2.45,2.45 0 1,0 4.9,0a2.45,2.45 0 1,0 -4.9,0M1118.24,625.85a2.45,2.45 0 1,0 4.9,0a2.45,2.45 0 1,0 -4.9,0M1128.62,625.85a2.45,2.45 0 1,0 4.9,0a2.45,2.45 0 1,0 -4.9,0M1138.98,625.85a2.45,2.45 0 1,0 4.9,0a2.45,2.45 0 1,0 -4.9,0M1149.36,625.85a2.45,2.45 0 1,0 4.9,0a2.45,2.45 0 1,0 -4.9,0M1159.72,625.85a2.45,2.45 0 1,0 4.9,0a2.45,2.45 0 1,0 -4.9,0M1170.1,625.85a2.45,2.45 0 1,0 4.9,0a2.45,2.45 0 1,0 -4.9,0M1081.95,634.78a2.45,2.45 0 1,0 4.9,0a2.45,2.45 0 1,0 -4.9,0M1092.32,634.78a2.45,2.45 0 1,0 4.9,0a2.45,2.45 0 1,0 -4.9,0M1102.69,634.78a2.45,2.45 0 1,0 4.9,0a2.45,2.45 0 1,0 -4.9,0M1113.06,634.78a2.45,2.45 0 1,0 4.9,0a2.45,2.45 0 1,0 -4.9,0M1123.43,634.78a2.45,2.45 0 1,0 4.9,0a2.45,2.45 0 1,0 -4.9,0M1133.8,634.78a2.45,2.45 0 1,0 4.9,0a2.45,2.45 0 1,0 -4.9,0M1144.17,634.78a2.45,2.45 0 1,0 4.9,0a2.45,2.45 0 1,0 -4.9,0M1154.54,634.78a2.45,2.45 0 1,0 4.9,0a2.45,2.45 0 1,0 -4.9,0M1164.91,634.78a2.45,2.45 0 1,0 4.9,0a2.45,2.45 0 1,0 -4.9,0M1175.28,634.78a2.45,2.45 0 1,0 4.9,0a2.45,2.45 0 1,0 -4.9,0M1087.13,643.71a2.45,2.45 0 1,0 4.9,0a2.45,2.45 0 1,0 -4.9,0M1097.5,643.71a2.45,2.45 0 1,0 4.9,0a2.45,2.45 0 1,0 -4.9,0M1107.88,643.71a2.45,2.45 0 1,0 4.9,0a2.45,2.45 0 1,0 -4.9,0M1118.24,643.71a2.45,2.45 0 1,0 4.9,0a2.45,2.45 0 1,0 -4.9,0M1128.62,643.71a2.45,2.45 0 1,0 4.9,0a2.45,2.45 0 1,0 -4.9,0M1138.98,643.71a2.45,2.45 0 1,0 4.9,0a2.45,2.45 0 1,0 -4.9,0M1149.36,643.71a2.45,2.45 0 1,0 4.9,0a2.45,2.45 0 1,0 -4.9,0M1159.72,643.71a2.45,2.45 0 1,0 4.9,0a2.45,2.45 0 1,0 -4.9,0M1170.1,643.71a2.45,2.45 0 1,0 4.9,0a2.45,2.45 0 1,0 -4.9,0M1081.95,652.64a2.45,2.45 0 1,0 4.9,0a2.45,2.45 0 1,0 -4.9,0M1092.32,652.64a2.45,2.45 0 1,0 4.9,0a2.45,2.45 0 1,0 -4.9,0M1102.69,652.64a2.45,2.45 0 1,0 4.9,0a2.45,2.45 0 1,0 -4.9,0M1113.06,652.64a2.45,2.45 0 1,0 4.9,0a2.45,2.45 0 1,0 -4.9,0M1123.43,652.64a2.45,2.45 0 1,0 4.9,0a2.45,2.45 0 1,0 -4.9,0M1133.8,652.64a2.45,2.45 0 1,0 4.9,0a2.45,2.45 0 1,0 -4.9,0M1144.17,652.64a2.45,2.45 0 1,0 4.9,0a2.45,2.45 0 1,0 -4.9,0M1154.54,652.64a2.45,2.45 0 1,0 4.9,0a2.45,2.45 0 1,0 -4.9,0M1164.91,652.64a2.45,2.45 0 1,0 4.9,0a2.45,2.45 0 1,0 -4.9,0M1175.28,652.64a2.45,2.45 0 1,0 4.9,0a2.45,2.45 0 1,0 -4.9,0M1087.13,661.57a2.45,2.45 0 1,0 4.9,0a2.45,2.45 0 1,0 -4.9,0M1097.5,661.57a2.45,2.45 0 1,0 4.9,0a2.45,2.45 0 1,0 -4.9,0M1107.88,661.57a2.45,2.45 0 1,0 4.9,0a2.45,2.45 0 1,0 -4.9,0M1118.24,661.57a2.45,2.45 0 1,0 4.9,0a2.45,2.45 0 1,0 -4.9,0M1128.62,661.57a2.45,2.45 0 1,0 4.9,0a2.45,2.45 0 1,0 -4.9,0M1138.98,661.57a2.45,2.45 0 1,0 4.9,0a2.45,2.45 0 1,0 -4.9,0M1149.36,661.57a2.45,2.45 0 1,0 4.9,0a2.45,2.45 0 1,0 -4.9,0M1159.72,661.57a2.45,2.45 0 1,0 4.9,0a2.45,2.45 0 1,0 -4.9,0M1170.1,661.57a2.45,2.45 0 1,0 4.9,0a2.45,2.45 0 1,0 -4.9,0M1081.95,670.5a2.45,2.45 0 1,0 4.9,0a2.45,2.45 0 1,0 -4.9,0M1092.32,670.5a2.45,2.45 0 1,0 4.9,0a2.45,2.45 0 1,0 -4.9,0M1102.69,670.5a2.45,2.45 0 1,0 4.9,0a2.45,2.45 0 1,0 -4.9,0M1113.06,670.5a2.45,2.45 0 1,0 4.9,0a2.45,2.45 0 1,0 -4.9,0M1123.43,670.5a2.45,2.45 0 1,0 4.9,0a2.45,2.45 0 1,0 -4.9,0M1133.8,670.5a2.45,2.45 0 1,0 4.9,0a2.45,2.45 0 1,0 -4.9,0M1144.17,670.5a2.45,2.45 0 1,0 4.9,0a2.45,2.45 0 1,0 -4.9,0M1154.54,670.5a2.45,2.45 0 1,0 4.9,0a2.45,2.45 0 1,0 -4.9,0M1164.91,670.5a2.45,2.45 0 1,0 4.9,0a2.45,2.45 0 1,0 -4.9,0M1175.28,670.5a2.45,2.45 0 1,0 4.9,0a2.45,2.45 0 1,0 -4.9,0M1087.13,679.43a2.45,2.45 0 1,0 4.9,0a2.45,2.45 0 1,0 -4.9,0M1097.5,679.43a2.45,2.45 0 1,0 4.9,0a2.45,2.45 0 1,0 -4.9,0M1107.88,679.43a2.45,2.45 0 1,0 4.9,0a2.45,2.45 0 1,0 -4.9,0M1118.24,679.43a2.45,2.45 0 1,0 4.9,0a2.45,2.45 0 1,0 -4.9,0M1128.62,679.43a2.45,2.45 0 1,0 4.9,0a2.45,2.45 0 1,0 -4.9,0M1138.98,679.43a2.45,2.45 0 1,0 4.9,0a2.45,2.45 0 1,0 -4.9,0M1149.36,679.43a2.45,2.45 0 1,0 4.9,0a2.45,2.45 0 1,0 -4.9,0M1159.72,679.43a2.45,2.45 0 1,0 4.9,0a2.45,2.45 0 1,0 -4.9,0M1170.1,679.43a2.45,2.45 0 1,0 4.9,0a2.45,2.45 0 1,0 -4.9,0M1081.95,688.36a2.45,2.45 0 1,0 4.9,0a2.45,2.45 0 1,0 -4.9,0M1092.32,688.36a2.45,2.45 0 1,0 4.9,0a2.45,2.45 0 1,0 -4.9,0M1102.69,688.36a2.45,2.45 0 1,0 4.9,0a2.45,2.45 0 1,0 -4.9,0M1113.06,688.36a2.45,2.45 0 1,0 4.9,0a2.45,2.45 0 1,0 -4.9,0M1123.43,688.36a2.45,2.45 0 1,0 4.9,0a2.45,2.45 0 1,0 -4.9,0M1133.8,688.36a2.45,2.45 0 1,0 4.9,0a2.45,2.45 0 1,0 -4.9,0M1144.17,688.36a2.45,2.45 0 1,0 4.9,0a2.45,2.45 0 1,0 -4.9,0M1154.54,688.36a2.45,2.45 0 1,0 4.9,0a2.45,2.45 0 1,0 -4.9,0M1164.91,688.36a2.45,2.45 0 1,0 4.9,0a2.45,2.45 0 1,0 -4.9,0M1175.28,688.36a2.45,2.45 0 1,0 4.9,0a2.45,2.45 0 1,0 -4.9,0M1087.13,697.29a2.45,2.45 0 1,0 4.9,0a2.45,2.45 0 1,0 -4.9,0M1097.5,697.29a2.45,2.45 0 1,0 4.9,0a2.45,2.45 0 1,0 -4.9,0M1107.88,697.29a2.45,2.45 0 1,0 4.9,0a2.45,2.45 0 1,0 -4.9,0M1118.24,697.29a2.45,2.45 0 1,0 4.9,0a2.45,2.45 0 1,0 -4.9,0M1128.62,697.29a2.45,2.45 0 1,0 4.9,0a2.45,2.45 0 1,0 -4.9,0M1138.98,697.29a2.45,2.45 0 1,0 4.9,0a2.45,2.45 0 1,0 -4.9,0M1149.36,697.29a2.45,2.45 0 1,0 4.9,0a2.45,2.45 0 1,0 -4.9,0M1159.72,697.29a2.45,2.45 0 1,0 4.9,0a2.45,2.45 0 1,0 -4.9,0M1170.1,697.29a2.45,2.45 0 1,0 4.9,0a2.45,2.45 0 1,0 -4.9,0M1081.95,706.22a2.45,2.45 0 1,0 4.9,0a2.45,2.45 0 1,0 -4.9,0M1092.32,706.22a2.45,2.45 0 1,0 4.9,0a2.45,2.45 0 1,0 -4.9,0M1102.69,706.22a2.45,2.45 0 1,0 4.9,0a2.45,2.45 0 1,0 -4.9,0M1113.06,706.22a2.45,2.45 0 1,0 4.9,0a2.45,2.45 0 1,0 -4.9,0M1123.43,706.22a2.45,2.45 0 1,0 4.9,0a2.45,2.45 0 1,0 -4.9,0M1133.8,706.22a2.45,2.45 0 1,0 4.9,0a2.45,2.45 0 1,0 -4.9,0M1144.17,706.22a2.45,2.45 0 1,0 4.9,0a2.45,2.45 0 1,0 -4.9,0M1154.54,706.22a2.45,2.45 0 1,0 4.9,0a2.45,2.45 0 1,0 -4.9,0M1164.91,706.22a2.45,2.45 0 1,0 4.9,0a2.45,2.45 0 1,0 -4.9,0M1175.28,706.22a2.45,2.45 0 1,0 4.9,0a2.45,2.45 0 1,0 -4.9,0M1087.13,715.15a2.45,2.45 0 1,0 4.9,0a2.45,2.45 0 1,0 -4.9,0M1097.5,715.15a2.45,2.45 0 1,0 4.9,0a2.45,2.45 0 1,0 -4.9,0M1107.88,715.15a2.45,2.45 0 1,0 4.9,0a2.45,2.45 0 1,0 -4.9,0M1118.24,715.15a2.45,2.45 0 1,0 4.9,0a2.45,2.45 0 1,0 -4.9,0M1128.62,715.15a2.45,2.45 0 1,0 4.9,0a2.45,2.45 0 1,0 -4.9,0M1138.98,715.15a2.45,2.45 0 1,0 4.9,0a2.45,2.45 0 1,0 -4.9,0M1149.36,715.15a2.45,2.45 0 1,0 4.9,0a2.45,2.45 0 1,0 -4.9,0M1159.72,715.15a2.45,2.45 0 1,0 4.9,0a2.45,2.45 0 1,0 -4.9,0M1170.1,715.15a2.45,2.45 0 1,0 4.9,0a2.45,2.45 0 1,0 -4.9,0M1081.95,724.08a2.45,2.45 0 1,0 4.9,0a2.45,2.45 0 1,0 -4.9,0M1092.32,724.08a2.45,2.45 0 1,0 4.9,0a2.45,2.45 0 1,0 -4.9,0M1102.69,724.08a2.45,2.45 0 1,0 4.9,0a2.45,2.45 0 1,0 -4.9,0M1113.06,724.08a2.45,2.45 0 1,0 4.9,0a2.45,2.45 0 1,0 -4.9,0M1123.43,724.08a2.45,2.45 0 1,0 4.9,0a2.45,2.45 0 1,0 -4.9,0M1133.8,724.08a2.45,2.45 0 1,0 4.9,0a2.45,2.45 0 1,0 -4.9,0M1144.17,724.08a2.45,2.45 0 1,0 4.9,0a2.45,2.45 0 1,0 -4.9,0M1154.54,724.08a2.45,2.45 0 1,0 4.9,0a2.45,2.45 0 1,0 -4.9,0M1164.91,724.08a2.45,2.45 0 1,0 4.9,0a2.45,2.45 0 1,0 -4.9,0M1175.28,724.08a2.45,2.45 0 1,0 4.9,0a2.45,2.45 0 1,0 -4.9,0M1087.13,733.01a2.45,2.45 0 1,0 4.9,0a2.45,2.45 0 1,0 -4.9,0M1097.5,733.01a2.45,2.45 0 1,0 4.9,0a2.45,2.45 0 1,0 -4.9,0M1107.88,733.01a2.45,2.45 0 1,0 4.9,0a2.45,2.45 0 1,0 -4.9,0M1118.24,733.01a2.45,2.45 0 1,0 4.9,0a2.45,2.45 0 1,0 -4.9,0M1128.62,733.01a2.45,2.45 0 1,0 4.9,0a2.45,2.45 0 1,0 -4.9,0M1138.98,733.01a2.45,2.45 0 1,0 4.9,0a2.45,2.45 0 1,0 -4.9,0M1149.36,733.01a2.45,2.45 0 1,0 4.9,0a2.45,2.45 0 1,0 -4.9,0M1159.72,733.01a2.45,2.45 0 1,0 4.9,0a2.45,2.45 0 1,0 -4.9,0M1170.1,733.01a2.45,2.45 0 1,0 4.9,0a2.45,2.45 0 1,0 -4.9,0M1081.95,741.94a2.45,2.45 0 1,0 4.9,0a2.45,2.45 0 1,0 -4.9,0M1092.32,741.94a2.45,2.45 0 1,0 4.9,0a2.45,2.45 0 1,0 -4.9,0M1102.69,741.94a2.45,2.45 0 1,0 4.9,0a2.45,2.45 0 1,0 -4.9,0M1113.06,741.94a2.45,2.45 0 1,0 4.9,0a2.45,2.45 0 1,0 -4.9,0M1123.43,741.94a2.45,2.45 0 1,0 4.9,0a2.45,2.45 0 1,0 -4.9,0M1133.8,741.94a2.45,2.45 0 1,0 4.9,0a2.45,2.45 0 1,0 -4.9,0M1144.17,741.94a2.45,2.45 0 1,0 4.9,0a2.45,2.45 0 1,0 -4.9,0M1154.54,741.94a2.45,2.45 0 1,0 4.9,0a2.45,2.45 0 1,0 -4.9,0M1164.91,741.94a2.45,2.45 0 1,0 4.9,0a2.45,2.45 0 1,0 -4.9,0M1175.28,741.94a2.45,2.45 0 1,0 4.9,0a2.45,2.45 0 1,0 -4.9,0" stroke="#1c1c1c" stroke-width="0.85" fill="none"/>
<line x1="1070.5" y1="571.3" x2="1070.5" y2="574.3" stroke="#333" stroke-width="2.4" stroke-linecap="round"/>
<path d="M1082.1,754.6L1084.9,754.6L1084.3,756.4L1082.7,756.4Z" fill="#111"/>
<path d="M1130.6,754.6L1133.4,754.6L1132.8,756.4L1131.2,756.4Z" fill="#111"/>
<path d="M1180.1,754.6L1182.9,754.6L1182.3,756.4L1180.7,756.4Z" fill="#111"/>
<path d="M1087.13,733.01a2.45,2.45 0 0,1 4.9,0ZM1097.5,733.01a2.45,2.45 0 0,1 4.9,0ZM1107.88,733.01a2.45,2.45 0 0,1 4.9,0ZM1118.24,733.01a2.45,2.45 0 0,1 4.9,0ZM1128.62,733.01a2.45,2.45 0 0,1 4.9,0ZM1138.98,733.01a2.45,2.45 0 0,1 4.9,0ZM1149.36,733.01a2.45,2.45 0 0,1 4.9,0ZM1159.72,733.01a2.45,2.45 0 0,1 4.9,0ZM1170.1,733.01a2.45,2.45 0 0,1 4.9,0Z" fill="#1c1c1c"/>
<path d="M1092.57,724.08a2.2,2.2 0 0,0 4.4,0Z" fill="#1c1c1c"/>
<path d="M1165.16,724.08a2.2,2.2 0 0,0 4.4,0Z" fill="#1c1c1c"/>
<line x1="995.7" y1="651.5" x2="995.7" y2="754.4" stroke="#1a1a1a" stroke-width="1.4" />
<line x1="995.7" y1="651.5" x2="1006.4" y2="651.5" stroke="#1a1a1a" stroke-width="1.0" />
<line x1="1006.4" y1="651.5" x2="1006.4" y2="754.4" stroke="#666" stroke-width="1.0" />
<line x1="995.7" y1="754.4" x2="1008" y2="754.4" stroke="#1a1a1a" stroke-width="1.0" />
<circle cx="1000.2" cy="720.2" r="1.8" stroke="#1a1a1a" stroke-width="1.2" fill="none"/>
<circle cx="1000.2" cy="736.3" r="1.8" stroke="#1a1a1a" stroke-width="1.2" fill="none"/>
<circle cx="1000.2" cy="750.7" r="1.8" stroke="#1a1a1a" stroke-width="1.2" fill="none"/>
<line x1="1006.4" y1="732.1" x2="1072" y2="732.1" stroke="#1a1a1a" stroke-width="1.4" />
<path d="M1007,754.4L1057.3,742.2L1072,742.2" stroke="#1a1a1a" stroke-width="1.0" fill="none" />
<path d="M1006.4,719.2L1017.7,728.6L1017.7,732" stroke="#1a1a1a" stroke-width="0.9" fill="none" />
<circle cx="1059.8" cy="739.2" r="1.8" stroke="#1a1a1a" stroke-width="1.2" fill="none"/>
<circle cx="1071.2" cy="739.2" r="1.8" stroke="#1a1a1a" stroke-width="1.2" fill="none"/>
<line x1="995.5" y1="599.5" x2="995.5" y2="651.5" stroke="#85a47a" stroke-width="1.25" />
<line x1="995.5" y1="602.1" x2="1072" y2="602.1" stroke="#85a47a" stroke-width="1.25" />
<path transform="translate(995.5,602.1) rotate(180)" d="M0,0L-11.5,-1.9L-9.7,0L-11.5,1.9Z" fill="#1e5a12" stroke="none"/>
<path transform="translate(1072,602.1) rotate(0)" d="M0,0L-11.5,-1.9L-9.7,0L-11.5,1.9Z" fill="#1e5a12" stroke="none"/>
<g transform="translate(1019.73,587.23) rotate(0)" fill="none" stroke="#4d7340" stroke-width="1.05" stroke-linejoin="round" stroke-linecap="round"><path vector-effect="non-scaling-stroke" transform="translate(0,0) scale(0.99,1.01)" d="M0.2,1.9Q0.5,0 2.5,0Q4.8,0 4.8,2.3Q4.8,4.7 2.2,4.7Q5,4.7 5,7.4Q5,10 2.5,10Q0.3,10 0,8"/><path vector-effect="non-scaling-stroke" transform="translate(7.41,0) scale(0.99,1.01)" d="M0,0L5,0L1.9,10"/><path vector-effect="non-scaling-stroke" transform="translate(14.81,0) scale(0.99,1.01)" d="M0,2.4Q0,0 2.5,0Q5,0 5,2.4L5,7.6Q5,10 2.5,10Q0,10 0,7.6Z"/></g>
<line x1="962.9" y1="633.1" x2="1029.2" y2="633.1" stroke="#85a47a" stroke-width="1.25" />
<path transform="translate(995.5,633.1) rotate(0)" d="M0,0L-11.5,-1.9L-9.7,0L-11.5,1.9Z" fill="#1e5a12" stroke="none"/>
<path transform="translate(1005.9,633.1) rotate(180)" d="M0,0L-11.5,-1.9L-9.7,0L-11.5,1.9Z" fill="#1e5a12" stroke="none"/>
<line x1="1005.9" y1="631" x2="1005.9" y2="651.5" stroke="#85a47a" stroke-width="1.25" />
<g transform="translate(963.42,618.02) rotate(0)" fill="none" stroke="#4d7340" stroke-width="1.05" stroke-linejoin="round" stroke-linecap="round"><path vector-effect="non-scaling-stroke" transform="translate(0,0) scale(0.98,1.04)" d="M4.7,0L0.6,0L0.3,4.3Q1.4,3.6 2.6,3.6Q5,3.6 5,6L5,7.6Q5,10 2.5,10Q0.2,10 0,8"/><path vector-effect="non-scaling-stroke" transform="translate(7.38,0) scale(0.98,1.04)" d="M0.2,2.3Q0.2,0 2.5,0Q4.9,0 4.9,2.3Q4.9,3.8 3.6,5.4L0,10L5,10"/></g>
<line x1="981" y1="651.5" x2="995.7" y2="651.5" stroke="#85a47a" stroke-width="1.25" />
<line x1="981" y1="754.4" x2="995.7" y2="754.4" stroke="#85a47a" stroke-width="1.25" />
<line x1="984.5" y1="651.5" x2="984.5" y2="754.4" stroke="#85a47a" stroke-width="1.25" />
<path transform="translate(984.5,651.5) rotate(-90)" d="M0,0L-11.5,-1.9L-9.7,0L-11.5,1.9Z" fill="#1e5a12" stroke="none"/>
<path transform="translate(984.5,754.4) rotate(90)" d="M0,0L-11.5,-1.9L-9.7,0L-11.5,1.9Z" fill="#1e5a12" stroke="none"/>
<g transform="translate(968.38,708.38) rotate(-90)" fill="none" stroke="#4d7340" stroke-width="1.05" stroke-linejoin="round" stroke-linecap="round"><path vector-effect="non-scaling-stroke" transform="translate(0,0) scale(1.01,1.18)" d="M4.7,0L0.6,0L0.3,4.3Q1.4,3.6 2.6,3.6Q5,3.6 5,6L5,7.6Q5,10 2.5,10Q0.2,10 0,8"/><path vector-effect="non-scaling-stroke" transform="translate(7.59,0) scale(1.01,1.18)" d="M0,2.4Q0,0 2.5,0Q5,0 5,2.4L5,7.6Q5,10 2.5,10Q0,10 0,7.6Z"/><path vector-effect="non-scaling-stroke" transform="translate(15.19,0) scale(1.01,1.18)" d="M0,2.4Q0,0 2.5,0Q5,0 5,2.4L5,7.6Q5,10 2.5,10Q0,10 0,7.6Z"/></g>
<line x1="995.7" y1="754.4" x2="995.7" y2="790.5" stroke="#85a47a" stroke-width="1.25" />
<line x1="1057.9" y1="743" x2="1057.9" y2="790.5" stroke="#85a47a" stroke-width="1.25" />
<line x1="1072" y1="754.4" x2="1072" y2="790.5" stroke="#85a47a" stroke-width="1.25" />
<line x1="1198.7" y1="754.4" x2="1198.7" y2="790.5" stroke="#85a47a" stroke-width="1.25" />
<line x1="995.7" y1="786.7" x2="1057.9" y2="786.7" stroke="#85a47a" stroke-width="1.25" />
<path transform="translate(995.7,786.7) rotate(180)" d="M0,0L-11.5,-1.9L-9.7,0L-11.5,1.9Z" fill="#1e5a12" stroke="none"/>
<path transform="translate(1057.9,786.7) rotate(0)" d="M0,0L-11.5,-1.9L-9.7,0L-11.5,1.9Z" fill="#1e5a12" stroke="none"/>
<line x1="1072" y1="786.7" x2="1198.7" y2="786.7" stroke="#85a47a" stroke-width="1.25" />
<path transform="translate(1072,786.7) rotate(180)" d="M0,0L-11.5,-1.9L-9.7,0L-11.5,1.9Z" fill="#1e5a12" stroke="none"/>
<path transform="translate(1198.7,786.7) rotate(0)" d="M0,0L-11.5,-1.9L-9.7,0L-11.5,1.9Z" fill="#1e5a12" stroke="none"/>
<g transform="translate(1021.12,770.82) rotate(0)" fill="none" stroke="#4d7340" stroke-width="1.05" stroke-linejoin="round" stroke-linecap="round"><path vector-effect="non-scaling-stroke" transform="translate(0,0) scale(0.97,1.04)" d="M0.2,1.9Q0.5,0 2.5,0Q4.8,0 4.8,2.3Q4.8,4.7 2.2,4.7Q5,4.7 5,7.4Q5,10 2.5,10Q0.3,10 0,8"/><path vector-effect="non-scaling-stroke" transform="translate(7.27,0) scale(0.97,1.04)" d="M0,2.4Q0,0 2.5,0Q5,0 5,2.4L5,7.6Q5,10 2.5,10Q0,10 0,7.6Z"/><path vector-effect="non-scaling-stroke" transform="translate(14.54,0) scale(0.94,1.04)" d="M0.3,2.8L3.2,0L3.2,10"/></g>
<g transform="translate(1135.62,770.42) rotate(0)" fill="none" stroke="#4d7340" stroke-width="1.05" stroke-linejoin="round" stroke-linecap="round"><path vector-effect="non-scaling-stroke" transform="translate(0,0) scale(0.95,1.17)" d="M5,0.9Q4.4,0 3.2,0Q0,0 0,2.8L0,7.2Q0,10 3.2,10Q4.4,10 5,9.1"/></g>
<rect x="26.3" y="284.7" width="55.2" height="2.9" rx="1.2" stroke="#333" stroke-width="0.8" fill="#777"/>
<line x1="41.4" y1="287.6" x2="41.4" y2="457.5" stroke="#3a3a3a" stroke-width="2.6" />
<line x1="41.4" y1="287.6" x2="41.4" y2="457.5" stroke="#8a8a8a" stroke-width="1.1" />
<line x1="65.7" y1="287.6" x2="65.7" y2="457.5" stroke="#3a3a3a" stroke-width="2.6" />
<line x1="65.7" y1="287.6" x2="65.7" y2="457.5" stroke="#8a8a8a" stroke-width="1.1" />
<rect x="195.8" y="284.7" width="55.2" height="2.9" rx="1.2" stroke="#333" stroke-width="0.8" fill="#777"/>
<line x1="235.9" y1="287.6" x2="235.9" y2="457.5" stroke="#3a3a3a" stroke-width="2.6" />
<line x1="235.9" y1="287.6" x2="235.9" y2="457.5" stroke="#8a8a8a" stroke-width="1.1" />
<line x1="211.6" y1="287.6" x2="211.6" y2="457.5" stroke="#3a3a3a" stroke-width="2.6" />
<line x1="211.6" y1="287.6" x2="211.6" y2="457.5" stroke="#8a8a8a" stroke-width="1.1" />
<path d="M1.9,300.5L275.4,300.5L275.4,467.0L1.9,467.0Z" stroke="#1a1a1a" stroke-width="1.3" fill="none" />
<line x1="6" y1="299.3" x2="9.5" y2="299.3" stroke="#333" stroke-width="1.4" />
<line x1="271.3" y1="299.3" x2="267.8" y2="299.3" stroke="#333" stroke-width="1.4" />
<rect x="11" y="300.5" width="255.3" height="8.8" rx="0" stroke="#1a1a1a" stroke-width="1.0" fill="#fff"/>
<line x1="1.9" y1="300.5" x2="275.4" y2="300.5" stroke="#1a1a1a" stroke-width="1.3" />
<rect x="1.9" y="457.6" width="273.5" height="9.4" rx="0" stroke="#1a1a1a" stroke-width="1.1" fill="#fff"/>
<line x1="1.9" y1="467" x2="275.4" y2="467" stroke="#1a1a1a" stroke-width="1.5" />
<line x1="11" y1="300.5" x2="11" y2="457.6" stroke="#1a1a1a" stroke-width="1.0" />
<line x1="25.5" y1="309.3" x2="25.5" y2="452.5" stroke="#444" stroke-width="0.9" />
<line x1="11.5" y1="452.5" x2="25.5" y2="452.5" stroke="#444" stroke-width="0.9" />
<rect x="19.55" y="309.8" width="3.4" height="12.2" rx="1.7" stroke="#1a1a1a" stroke-width="1.0" fill="#fff"/>
<rect x="19.55" y="350" width="3.4" height="15.5" rx="1.7" stroke="#1a1a1a" stroke-width="1.0" fill="#fff"/>
<rect x="19.55" y="392.5" width="3.4" height="14.5" rx="1.7" stroke="#1a1a1a" stroke-width="1.0" fill="#fff"/>
<rect x="19.55" y="435" width="3.4" height="12.5" rx="1.7" stroke="#1a1a1a" stroke-width="1.0" fill="#fff"/>
<rect x="52.05" y="309.8" width="3.4" height="12.2" rx="1.7" stroke="#1a1a1a" stroke-width="1.0" fill="#fff"/>
<rect x="52.05" y="350" width="3.4" height="8.6" rx="1.7" stroke="#1a1a1a" stroke-width="1.0" fill="#fff"/>
<rect x="52.05" y="400.6" width="3.4" height="6.4" rx="1.7" stroke="#1a1a1a" stroke-width="1.0" fill="#fff"/>
<rect x="52.05" y="435" width="3.4" height="14.4" rx="1.7" stroke="#1a1a1a" stroke-width="1.0" fill="#fff"/>
<line x1="266.3" y1="300.5" x2="266.3" y2="457.6" stroke="#1a1a1a" stroke-width="1.0" />
<line x1="251.8" y1="309.3" x2="251.8" y2="452.5" stroke="#444" stroke-width="0.9" />
<line x1="265.8" y1="452.5" x2="251.8" y2="452.5" stroke="#444" stroke-width="0.9" />
<rect x="254.35" y="309.8" width="3.4" height="12.2" rx="1.7" stroke="#1a1a1a" stroke-width="1.0" fill="#fff"/>
<rect x="254.35" y="350" width="3.4" height="15.5" rx="1.7" stroke="#1a1a1a" stroke-width="1.0" fill="#fff"/>
<rect x="254.35" y="392.5" width="3.4" height="14.5" rx="1.7" stroke="#1a1a1a" stroke-width="1.0" fill="#fff"/>
<rect x="254.35" y="435" width="3.4" height="12.5" rx="1.7" stroke="#1a1a1a" stroke-width="1.0" fill="#fff"/>
<rect x="221.85" y="309.8" width="3.4" height="12.2" rx="1.7" stroke="#1a1a1a" stroke-width="1.0" fill="#fff"/>
<rect x="221.85" y="350" width="3.4" height="8.6" rx="1.7" stroke="#1a1a1a" stroke-width="1.0" fill="#fff"/>
<rect x="221.85" y="400.6" width="3.4" height="6.4" rx="1.7" stroke="#1a1a1a" stroke-width="1.0" fill="#fff"/>
<rect x="221.85" y="435" width="3.4" height="14.4" rx="1.7" stroke="#1a1a1a" stroke-width="1.0" fill="#fff"/>
<rect x="14.8" y="318.7" width="247.7" height="35.7" rx="0" stroke="none" stroke-width="0" fill="#fff"/>
<line x1="14.8" y1="318.7" x2="262.5" y2="318.7" stroke="#333" stroke-width="0.9" />
<line x1="14.8" y1="354.4" x2="262.5" y2="354.4" stroke="#333" stroke-width="0.9" />
<line x1="14.8" y1="327.4" x2="262.5" y2="327.4" stroke="#1a1a1a" stroke-width="1.6" />
<line x1="14.8" y1="345.4" x2="262.5" y2="345.4" stroke="#1a1a1a" stroke-width="1.6" />
<ellipse cx="21.25" cy="323.05" rx="2.1" ry="1.7" stroke="#1a1a1a" stroke-width="1.0" fill="#fff"/>
<rect x="51.6" y="321.3" width="37.1" height="3.5" rx="1.75" stroke="#1a1a1a" stroke-width="1.0" fill="#fff"/>
<line x1="52.15" y1="321.55" x2="52.15" y2="324.55" stroke="#333" stroke-width="0.7" />
<line x1="55.35" y1="321.55" x2="55.35" y2="324.55" stroke="#333" stroke-width="0.7" />
<line x1="65.7" y1="321.55" x2="65.7" y2="324.55" stroke="#555" stroke-width="1.8" />
<ellipse cx="21.25" cy="349.9" rx="2.1" ry="1.7" stroke="#1a1a1a" stroke-width="1.0" fill="#fff"/>
<rect x="51.6" y="348.15" width="37.1" height="3.5" rx="1.75" stroke="#1a1a1a" stroke-width="1.0" fill="#fff"/>
<line x1="52.15" y1="348.4" x2="52.15" y2="351.4" stroke="#333" stroke-width="0.7" />
<line x1="55.35" y1="348.4" x2="55.35" y2="351.4" stroke="#333" stroke-width="0.7" />
<line x1="65.7" y1="348.4" x2="65.7" y2="351.4" stroke="#555" stroke-width="1.8" />
<rect x="47.4" y="334.65" width="45.7" height="3.5" rx="1.75" stroke="#1a1a1a" stroke-width="1.0" fill="#fff"/>
<line x1="52.15" y1="334.9" x2="52.15" y2="337.9" stroke="#333" stroke-width="0.7" />
<line x1="55.35" y1="334.9" x2="55.35" y2="337.9" stroke="#333" stroke-width="0.7" />
<line x1="65.7" y1="334.9" x2="65.7" y2="337.9" stroke="#555" stroke-width="1.8" />
<ellipse cx="256.05" cy="323.05" rx="2.1" ry="1.7" stroke="#1a1a1a" stroke-width="1.0" fill="#fff"/>
<rect x="188.6" y="321.3" width="37.1" height="3.5" rx="1.75" stroke="#1a1a1a" stroke-width="1.0" fill="#fff"/>
<line x1="221.95" y1="321.55" x2="221.95" y2="324.55" stroke="#333" stroke-width="0.7" />
<line x1="225.15" y1="321.55" x2="225.15" y2="324.55" stroke="#333" stroke-width="0.7" />
<line x1="211.6" y1="321.55" x2="211.6" y2="324.55" stroke="#555" stroke-width="1.8" />
<ellipse cx="256.05" cy="349.9" rx="2.1" ry="1.7" stroke="#1a1a1a" stroke-width="1.0" fill="#fff"/>
<rect x="188.6" y="348.15" width="37.1" height="3.5" rx="1.75" stroke="#1a1a1a" stroke-width="1.0" fill="#fff"/>
<line x1="221.95" y1="348.4" x2="221.95" y2="351.4" stroke="#333" stroke-width="0.7" />
<line x1="225.15" y1="348.4" x2="225.15" y2="351.4" stroke="#333" stroke-width="0.7" />
<line x1="211.6" y1="348.4" x2="211.6" y2="351.4" stroke="#555" stroke-width="1.8" />
<rect x="184.2" y="334.65" width="45.7" height="3.5" rx="1.75" stroke="#1a1a1a" stroke-width="1.0" fill="#fff"/>
<line x1="221.95" y1="334.9" x2="221.95" y2="337.9" stroke="#333" stroke-width="0.7" />
<line x1="225.15" y1="334.9" x2="225.15" y2="337.9" stroke="#333" stroke-width="0.7" />
<line x1="211.6" y1="334.9" x2="211.6" y2="337.9" stroke="#555" stroke-width="1.8" />
<rect x="14.8" y="403.8" width="247.7" height="35.6" rx="0" stroke="none" stroke-width="0" fill="#fff"/>
<line x1="14.8" y1="403.8" x2="262.5" y2="403.8" stroke="#333" stroke-width="0.9" />
<line x1="14.8" y1="439.4" x2="262.5" y2="439.4" stroke="#333" stroke-width="0.9" />
<line x1="14.8" y1="412.6" x2="262.5" y2="412.6" stroke="#1a1a1a" stroke-width="1.6" />
<line x1="14.8" y1="430.3" x2="262.5" y2="430.3" stroke="#1a1a1a" stroke-width="1.6" />
<ellipse cx="21.25" cy="408.2" rx="2.1" ry="1.7" stroke="#1a1a1a" stroke-width="1.0" fill="#fff"/>
<rect x="51.6" y="406.45" width="37.1" height="3.5" rx="1.75" stroke="#1a1a1a" stroke-width="1.0" fill="#fff"/>
<line x1="52.15" y1="406.7" x2="52.15" y2="409.7" stroke="#333" stroke-width="0.7" />
<line x1="55.35" y1="406.7" x2="55.35" y2="409.7" stroke="#333" stroke-width="0.7" />
<line x1="65.7" y1="406.7" x2="65.7" y2="409.7" stroke="#555" stroke-width="1.8" />
<ellipse cx="21.25" cy="434.85" rx="2.1" ry="1.7" stroke="#1a1a1a" stroke-width="1.0" fill="#fff"/>
<rect x="51.6" y="433.1" width="37.1" height="3.5" rx="1.75" stroke="#1a1a1a" stroke-width="1.0" fill="#fff"/>
<line x1="52.15" y1="433.35" x2="52.15" y2="436.35" stroke="#333" stroke-width="0.7" />
<line x1="55.35" y1="433.35" x2="55.35" y2="436.35" stroke="#333" stroke-width="0.7" />
<line x1="65.7" y1="433.35" x2="65.7" y2="436.35" stroke="#555" stroke-width="1.8" />
<rect x="47.4" y="419.7" width="45.7" height="3.5" rx="1.75" stroke="#1a1a1a" stroke-width="1.0" fill="#fff"/>
<line x1="52.15" y1="419.95" x2="52.15" y2="422.95" stroke="#333" stroke-width="0.7" />
<line x1="55.35" y1="419.95" x2="55.35" y2="422.95" stroke="#333" stroke-width="0.7" />
<line x1="65.7" y1="419.95" x2="65.7" y2="422.95" stroke="#555" stroke-width="1.8" />
<ellipse cx="256.05" cy="408.2" rx="2.1" ry="1.7" stroke="#1a1a1a" stroke-width="1.0" fill="#fff"/>
<rect x="188.6" y="406.45" width="37.1" height="3.5" rx="1.75" stroke="#1a1a1a" stroke-width="1.0" fill="#fff"/>
<line x1="221.95" y1="406.7" x2="221.95" y2="409.7" stroke="#333" stroke-width="0.7" />
<line x1="225.15" y1="406.7" x2="225.15" y2="409.7" stroke="#333" stroke-width="0.7" />
<line x1="211.6" y1="406.7" x2="211.6" y2="409.7" stroke="#555" stroke-width="1.8" />
<ellipse cx="256.05" cy="434.85" rx="2.1" ry="1.7" stroke="#1a1a1a" stroke-width="1.0" fill="#fff"/>
<rect x="188.6" y="433.1" width="37.1" height="3.5" rx="1.75" stroke="#1a1a1a" stroke-width="1.0" fill="#fff"/>
<line x1="221.95" y1="433.35" x2="221.95" y2="436.35" stroke="#333" stroke-width="0.7" />
<line x1="225.15" y1="433.35" x2="225.15" y2="436.35" stroke="#333" stroke-width="0.7" />
<line x1="211.6" y1="433.35" x2="211.6" y2="436.35" stroke="#555" stroke-width="1.8" />
<rect x="184.2" y="419.7" width="45.7" height="3.5" rx="1.75" stroke="#1a1a1a" stroke-width="1.0" fill="#fff"/>
<line x1="221.95" y1="419.95" x2="221.95" y2="422.95" stroke="#333" stroke-width="0.7" />
<line x1="225.15" y1="419.95" x2="225.15" y2="422.95" stroke="#333" stroke-width="0.7" />
<line x1="211.6" y1="419.95" x2="211.6" y2="422.95" stroke="#555" stroke-width="1.8" />
<line x1="13.8" y1="309.3" x2="13.8" y2="452.5" stroke="#000" stroke-width="2.0" />
<line x1="263.5" y1="309.3" x2="263.5" y2="452.5" stroke="#000" stroke-width="2.0" />
<path d="M723.3,361.9L723.3,347.3L741.2,347.3L741.2,361.9" stroke="#1a1a1a" stroke-width="1.5" fill="none" />
<ellipse cx="723.3" cy="351.6" rx="3.3" ry="2.3" fill="#2a2a2a"/>
<ellipse cx="723.3" cy="351.6" rx="0.9" ry="1.1" fill="#999"/>
<ellipse cx="741.2" cy="351.6" rx="3.3" ry="2.3" fill="#2a2a2a"/>
<ellipse cx="741.2" cy="351.6" rx="0.9" ry="1.1" fill="#999"/>
<line x1="723.9" y1="367.7" x2="723.9" y2="372" stroke="#1a1a1a" stroke-width="1.5" />
<line x1="723.9" y1="396" x2="723.9" y2="488" stroke="#111" stroke-width="1.7" />
<line x1="741.2" y1="367.7" x2="741.2" y2="372" stroke="#1a1a1a" stroke-width="1.5" />
<line x1="741.2" y1="396" x2="741.2" y2="488" stroke="#111" stroke-width="1.7" />
<line x1="724.3" y1="487.9" x2="740.7" y2="487.9" stroke="#777" stroke-width="1.4" />
<line x1="713.1" y1="396" x2="713.1" y2="487" stroke="#888" stroke-width="0.9" />
<rect x="709.1" y="391" width="2.6" height="13" rx="1.3" stroke="#555" stroke-width="0.8" fill="#fff"/>
<rect x="709.1" y="446.9" width="2.6" height="13.1" rx="1.3" stroke="#555" stroke-width="0.8" fill="#fff"/>
<rect x="730.95" y="391" width="2.6" height="13" rx="1.3" stroke="#555" stroke-width="0.8" fill="#fff"/>
<rect x="730.95" y="446.9" width="2.6" height="13.1" rx="1.3" stroke="#555" stroke-width="0.8" fill="#fff"/>
<rect x="709.1" y="474" width="2.6" height="10.4" rx="1.3" stroke="#555" stroke-width="0.8" fill="#fff"/>
<rect x="730.95" y="474" width="2.6" height="7" rx="1.3" stroke="#555" stroke-width="0.8" fill="#fff"/>
<line x1="709.2" y1="367.7" x2="709.2" y2="371" stroke="#666" stroke-width="0.7" />
<line x1="711.6" y1="367.7" x2="711.6" y2="371" stroke="#666" stroke-width="0.7" />
<path d="M920.7,361.9L920.7,347.3L938.6,347.3L938.6,361.9" stroke="#1a1a1a" stroke-width="1.5" fill="none" />
<ellipse cx="920.7" cy="351.6" rx="3.3" ry="2.3" fill="#2a2a2a"/>
<ellipse cx="920.7" cy="351.6" rx="0.9" ry="1.1" fill="#999"/>
<ellipse cx="938.6" cy="351.6" rx="3.3" ry="2.3" fill="#2a2a2a"/>
<ellipse cx="938.6" cy="351.6" rx="0.9" ry="1.1" fill="#999"/>
<line x1="938" y1="367.7" x2="938" y2="372" stroke="#1a1a1a" stroke-width="1.5" />
<line x1="938" y1="396" x2="938" y2="488" stroke="#111" stroke-width="1.7" />
<line x1="920.7" y1="367.7" x2="920.7" y2="372" stroke="#1a1a1a" stroke-width="1.5" />
<line x1="920.7" y1="396" x2="920.7" y2="488" stroke="#111" stroke-width="1.7" />
<line x1="921.7" y1="487.9" x2="938.1" y2="487.9" stroke="#777" stroke-width="1.4" />
<line x1="948.8" y1="396" x2="948.8" y2="487" stroke="#888" stroke-width="0.9" />
<rect x="950.2" y="391" width="2.6" height="13" rx="1.3" stroke="#555" stroke-width="0.8" fill="#fff"/>
<rect x="950.2" y="446.9" width="2.6" height="13.1" rx="1.3" stroke="#555" stroke-width="0.8" fill="#fff"/>
<rect x="928.35" y="391" width="2.6" height="13" rx="1.3" stroke="#555" stroke-width="0.8" fill="#fff"/>
<rect x="928.35" y="446.9" width="2.6" height="13.1" rx="1.3" stroke="#555" stroke-width="0.8" fill="#fff"/>
<rect x="950.2" y="474" width="2.6" height="10.4" rx="1.3" stroke="#555" stroke-width="0.8" fill="#fff"/>
<rect x="928.35" y="474" width="2.6" height="7" rx="1.3" stroke="#555" stroke-width="0.8" fill="#fff"/>
<line x1="952.7" y1="367.7" x2="952.7" y2="371" stroke="#666" stroke-width="0.7" />
<line x1="950.3" y1="367.7" x2="950.3" y2="371" stroke="#666" stroke-width="0.7" />
<rect x="697.5" y="361.9" width="266.9" height="133.5" rx="0" stroke="#1a1a1a" stroke-width="1.2" fill="none"/>
<line x1="702" y1="360.8" x2="705" y2="360.8" stroke="#333" stroke-width="1.2" />
<line x1="959.9" y1="360.8" x2="956.9" y2="360.8" stroke="#333" stroke-width="1.2" />
<rect x="703.5" y="361.9" width="254.9" height="5.85" rx="0" stroke="#1a1a1a" stroke-width="1.0" fill="#fff"/>
<line x1="697.5" y1="361.9" x2="964.4" y2="361.9" stroke="#1a1a1a" stroke-width="1.3" />
<rect x="697.5" y="488.5" width="266.9" height="6.9" rx="0" stroke="#1a1a1a" stroke-width="1.0" fill="#fff"/>
<line x1="697.5" y1="495.4" x2="964.4" y2="495.4" stroke="#1a1a1a" stroke-width="1.3" />
<line x1="703.5" y1="361.9" x2="703.5" y2="488.5" stroke="#1a1a1a" stroke-width="1.0" />
<line x1="958.4" y1="361.9" x2="958.4" y2="488.5" stroke="#1a1a1a" stroke-width="1.0" />
<rect x="705.7" y="371.9" width="250.5" height="24.1" rx="0" stroke="none" stroke-width="0" fill="#fff"/>
<line x1="705.7" y1="371.9" x2="956.2" y2="371.9" stroke="#777" stroke-width="1.0" />
<line x1="705.7" y1="396" x2="956.2" y2="396" stroke="#777" stroke-width="1.0" />
<line x1="705.7" y1="377.5" x2="956.2" y2="377.5" stroke="#1a1a1a" stroke-width="1.1" />
<line x1="705.7" y1="389.6" x2="956.2" y2="389.6" stroke="#1a1a1a" stroke-width="1.6" />
<rect x="732.25" y="373.35" width="38.35" height="2.9" rx="1.45" stroke="#777" stroke-width="1.0" fill="#d0d0d0"/>
<line x1="741.2" y1="373.6" x2="741.2" y2="376" stroke="#1a1a1a" stroke-width="1.2" />
<circle cx="710.4" cy="374.8" r="2.0" stroke="#000" stroke-width="1.3" fill="#fff"/>
<circle cx="732.25" cy="374.8" r="2.0" stroke="#000" stroke-width="1.3" fill="#fff"/>
<rect x="732.25" y="391.25" width="38.35" height="2.9" rx="1.45" stroke="#777" stroke-width="1.0" fill="#d0d0d0"/>
<line x1="741.2" y1="391.5" x2="741.2" y2="393.9" stroke="#1a1a1a" stroke-width="1.2" />
<circle cx="710.4" cy="392.7" r="2.0" stroke="#000" stroke-width="1.3" fill="#fff"/>
<circle cx="732.25" cy="392.7" r="2.0" stroke="#000" stroke-width="1.3" fill="#fff"/>
<rect x="891.3" y="373.35" width="38.35" height="2.9" rx="1.45" stroke="#777" stroke-width="1.0" fill="#d0d0d0"/>
<line x1="920.7" y1="373.6" x2="920.7" y2="376" stroke="#1a1a1a" stroke-width="1.2" />
<circle cx="951.5" cy="374.8" r="2.0" stroke="#000" stroke-width="1.3" fill="#fff"/>
<circle cx="929.65" cy="374.8" r="2.0" stroke="#000" stroke-width="1.3" fill="#fff"/>
<rect x="891.3" y="391.25" width="38.35" height="2.9" rx="1.45" stroke="#777" stroke-width="1.0" fill="#d0d0d0"/>
<line x1="920.7" y1="391.5" x2="920.7" y2="393.9" stroke="#1a1a1a" stroke-width="1.2" />
<circle cx="951.5" cy="392.7" r="2.0" stroke="#000" stroke-width="1.3" fill="#fff"/>
<circle cx="929.65" cy="392.7" r="2.0" stroke="#000" stroke-width="1.3" fill="#fff"/>
<rect x="746.25" y="382.25" width="31.65" height="3" rx="1.5" stroke="#666" stroke-width="0.9" fill="#eee"/>
<rect x="815.4" y="382.25" width="31.1" height="3" rx="1.5" stroke="#666" stroke-width="0.9" fill="#eee"/>
<rect x="884" y="382.25" width="31.65" height="3" rx="1.5" stroke="#666" stroke-width="0.9" fill="#eee"/>
<rect x="705.7" y="454.4" width="250.5" height="24.1" rx="0" stroke="none" stroke-width="0" fill="#fff"/>
<line x1="705.7" y1="454.4" x2="956.2" y2="454.4" stroke="#777" stroke-width="1.0" />
<line x1="705.7" y1="478.5" x2="956.2" y2="478.5" stroke="#777" stroke-width="1.0" />
<line x1="705.7" y1="460.25" x2="956.2" y2="460.25" stroke="#1a1a1a" stroke-width="1.1" />
<line x1="705.7" y1="472.5" x2="956.2" y2="472.5" stroke="#1a1a1a" stroke-width="1.6" />
<rect x="732.25" y="455.98" width="38.35" height="2.9" rx="1.45" stroke="#777" stroke-width="1.0" fill="#d0d0d0"/>
<line x1="741.2" y1="456.23" x2="741.2" y2="458.62" stroke="#1a1a1a" stroke-width="1.2" />
<circle cx="710.4" cy="457.43" r="2.0" stroke="#000" stroke-width="1.3" fill="#fff"/>
<circle cx="732.25" cy="457.43" r="2.0" stroke="#000" stroke-width="1.3" fill="#fff"/>
<rect x="732.25" y="473.95" width="38.35" height="2.9" rx="1.45" stroke="#777" stroke-width="1.0" fill="#d0d0d0"/>
<line x1="741.2" y1="474.2" x2="741.2" y2="476.6" stroke="#1a1a1a" stroke-width="1.2" />
<circle cx="710.4" cy="475.4" r="2.0" stroke="#000" stroke-width="1.3" fill="#fff"/>
<circle cx="732.25" cy="475.4" r="2.0" stroke="#000" stroke-width="1.3" fill="#fff"/>
<rect x="891.3" y="455.98" width="38.35" height="2.9" rx="1.45" stroke="#777" stroke-width="1.0" fill="#d0d0d0"/>
<line x1="920.7" y1="456.23" x2="920.7" y2="458.62" stroke="#1a1a1a" stroke-width="1.2" />
<circle cx="951.5" cy="457.43" r="2.0" stroke="#000" stroke-width="1.3" fill="#fff"/>
<circle cx="929.65" cy="457.43" r="2.0" stroke="#000" stroke-width="1.3" fill="#fff"/>
<rect x="891.3" y="473.95" width="38.35" height="2.9" rx="1.45" stroke="#777" stroke-width="1.0" fill="#d0d0d0"/>
<line x1="920.7" y1="474.2" x2="920.7" y2="476.6" stroke="#1a1a1a" stroke-width="1.2" />
<circle cx="951.5" cy="475.4" r="2.0" stroke="#000" stroke-width="1.3" fill="#fff"/>
<circle cx="929.65" cy="475.4" r="2.0" stroke="#000" stroke-width="1.3" fill="#fff"/>
<rect x="746.25" y="465.07" width="31.65" height="3" rx="1.5" stroke="#666" stroke-width="0.9" fill="#eee"/>
<rect x="815.4" y="465.07" width="31.1" height="3" rx="1.5" stroke="#666" stroke-width="0.9" fill="#eee"/>
<rect x="884" y="465.07" width="31.65" height="3" rx="1.5" stroke="#666" stroke-width="0.9" fill="#eee"/>
<line x1="705.7" y1="367.75" x2="705.7" y2="487" stroke="#000" stroke-width="2.0" />
<line x1="705.7" y1="486.7" x2="713.1" y2="486.7" stroke="#777" stroke-width="0.9" />
<line x1="956.2" y1="367.75" x2="956.2" y2="487" stroke="#000" stroke-width="2.0" />
<line x1="948.8" y1="486.7" x2="956.2" y2="486.7" stroke="#777" stroke-width="0.9" />
<line x1="41.3" y1="755.6" x2="84.8" y2="755.6" stroke="#1a1a1a" stroke-width="1.5" />
<line x1="53.7" y1="755.6" x2="53.7" y2="840" stroke="#111" stroke-width="1.6" />
<line x1="72.4" y1="755.6" x2="72.4" y2="840" stroke="#111" stroke-width="1.6" />
<rect x="50.6" y="828" width="3.1" height="5" rx="0" stroke="#333" stroke-width="0.5" fill="#555"/>
<rect x="72.4" y="828" width="3.1" height="5" rx="0" stroke="#333" stroke-width="0.5" fill="#555"/>
<rect x="55" y="847.3" width="15.8" height="2.3" rx="0" stroke="none" stroke-width="0" fill="#999"/>
<line x1="53.9" y1="846.8" x2="54.6" y2="851.7" stroke="#1a1a1a" stroke-width="1.4" />
<line x1="72.2" y1="846.8" x2="71.6" y2="851.7" stroke="#1a1a1a" stroke-width="1.4" />
<line x1="45" y1="846.8" x2="45" y2="851.7" stroke="#444" stroke-width="0.8" />
<line x1="54.1" y1="880.2" x2="54.1" y2="924" stroke="#111" stroke-width="1.7" />
<line x1="72.1" y1="880.2" x2="72.1" y2="924" stroke="#111" stroke-width="1.7" />
<line x1="54.1" y1="952.6" x2="54.1" y2="965" stroke="#111" stroke-width="1.7" />
<line x1="72.1" y1="952.6" x2="72.1" y2="965" stroke="#111" stroke-width="1.7" />
<line x1="44.7" y1="880.2" x2="44.7" y2="924" stroke="#777" stroke-width="0.9" />
<path d="M44.7,952.6L44.7,960.2L36,960.2" stroke="#555" stroke-width="0.9" fill="none" />
<line x1="33.5" y1="961.8" x2="54" y2="961.8" stroke="#444" stroke-width="0.9" />
<rect x="40.1" y="873" width="3.2" height="17.4" rx="1.6" stroke="#222" stroke-width="1.0" fill="#fff"/>
<rect x="40.1" y="914.1" width="3.2" height="15.9" rx="1.6" stroke="#222" stroke-width="1.0" fill="#fff"/>
<rect x="40.1" y="946" width="3.2" height="9.3" rx="1.6" stroke="#222" stroke-width="1.0" fill="#fff"/>
<rect x="61.3" y="873" width="3.2" height="17.4" rx="1.6" stroke="#222" stroke-width="1.0" fill="#fff"/>
<rect x="61.3" y="914.1" width="3.2" height="15.9" rx="1.6" stroke="#222" stroke-width="1.0" fill="#fff"/>
<rect x="61.3" y="946" width="3.2" height="9.3" rx="1.6" stroke="#222" stroke-width="1.0" fill="#fff"/>
<line x1="209.4" y1="755.6" x2="252.9" y2="755.6" stroke="#1a1a1a" stroke-width="1.5" />
<line x1="240.5" y1="755.6" x2="240.5" y2="840" stroke="#111" stroke-width="1.6" />
<line x1="221.8" y1="755.6" x2="221.8" y2="840" stroke="#111" stroke-width="1.6" />
<rect x="240.5" y="828" width="3.1" height="5" rx="0" stroke="#333" stroke-width="0.5" fill="#555"/>
<rect x="218.7" y="828" width="3.1" height="5" rx="0" stroke="#333" stroke-width="0.5" fill="#555"/>
<rect x="223.4" y="847.3" width="15.8" height="2.3" rx="0" stroke="none" stroke-width="0" fill="#999"/>
<line x1="240.3" y1="846.8" x2="239.6" y2="851.7" stroke="#1a1a1a" stroke-width="1.4" />
<line x1="222" y1="846.8" x2="222.6" y2="851.7" stroke="#1a1a1a" stroke-width="1.4" />
<line x1="249.2" y1="846.8" x2="249.2" y2="851.7" stroke="#444" stroke-width="0.8" />
<line x1="240.1" y1="880.2" x2="240.1" y2="924" stroke="#111" stroke-width="1.7" />
<line x1="222.1" y1="880.2" x2="222.1" y2="924" stroke="#111" stroke-width="1.7" />
<line x1="240.1" y1="952.6" x2="240.1" y2="965" stroke="#111" stroke-width="1.7" />
<line x1="222.1" y1="952.6" x2="222.1" y2="965" stroke="#111" stroke-width="1.7" />
<line x1="249.5" y1="880.2" x2="249.5" y2="924" stroke="#777" stroke-width="0.9" />
<path d="M249.5,952.6L249.5,960.2L258.2,960.2" stroke="#555" stroke-width="0.9" fill="none" />
<line x1="260.7" y1="961.8" x2="240.2" y2="961.8" stroke="#444" stroke-width="0.9" />
<rect x="250.9" y="873" width="3.2" height="17.4" rx="1.6" stroke="#222" stroke-width="1.0" fill="#fff"/>
<rect x="250.9" y="914.1" width="3.2" height="15.9" rx="1.6" stroke="#222" stroke-width="1.0" fill="#fff"/>
<rect x="250.9" y="946" width="3.2" height="9.3" rx="1.6" stroke="#222" stroke-width="1.0" fill="#fff"/>
<rect x="229.7" y="873" width="3.2" height="17.4" rx="1.6" stroke="#222" stroke-width="1.0" fill="#fff"/>
<rect x="229.7" y="914.1" width="3.2" height="15.9" rx="1.6" stroke="#222" stroke-width="1.0" fill="#fff"/>
<rect x="229.7" y="946" width="3.2" height="9.3" rx="1.6" stroke="#222" stroke-width="1.0" fill="#fff"/>
<rect x="26.5" y="840" width="241.2" height="132" rx="0" stroke="#1a1a1a" stroke-width="1.2" fill="none"/>
<line x1="29.5" y1="838.8" x2="33" y2="838.8" stroke="#333" stroke-width="1.3" />
<line x1="264.7" y1="838.8" x2="261.2" y2="838.8" stroke="#333" stroke-width="1.3" />
<rect x="33.4" y="840" width="227.4" height="6.8" rx="0" stroke="#1a1a1a" stroke-width="1.0" fill="#fff"/>
<line x1="26.5" y1="840" x2="267.7" y2="840" stroke="#1a1a1a" stroke-width="1.4" />
<rect x="26.5" y="965" width="241.2" height="7" rx="0" stroke="#1a1a1a" stroke-width="1.0" fill="#fff"/>
<line x1="26.5" y1="972" x2="267.7" y2="972" stroke="#1a1a1a" stroke-width="1.4" />
<line x1="33.4" y1="840" x2="33.4" y2="965" stroke="#1a1a1a" stroke-width="1.0" />
<line x1="260.8" y1="840" x2="260.8" y2="965" stroke="#1a1a1a" stroke-width="1.0" />
<rect x="35.9" y="851.7" width="222.4" height="28.5" rx="0" stroke="none" stroke-width="0" fill="#fff"/>
<line x1="35.9" y1="851.7" x2="258.3" y2="851.7" stroke="#666" stroke-width="0.9" />
<line x1="35.9" y1="880.2" x2="258.3" y2="880.2" stroke="#666" stroke-width="0.9" />
<line x1="35.9" y1="859" x2="258.3" y2="859" stroke="#1a1a1a" stroke-width="1.7" />
<line x1="35.9" y1="873.3" x2="258.3" y2="873.3" stroke="#1a1a1a" stroke-width="1.7" />
<rect x="66" y="852.8" width="29" height="1.6" rx="0" stroke="none" stroke-width="0" fill="#8f8f8f"/>
<rect x="62.9" y="854.05" width="32.9" height="2.7" rx="1.35" stroke="#666" stroke-width="0.8" fill="#fff"/>
<line x1="72.2" y1="854.2" x2="72.2" y2="856.6" stroke="#1a1a1a" stroke-width="1.3" />
<circle cx="41.7" cy="855.4" r="2.1" stroke="#000" stroke-width="1.4" fill="#fff"/>
<circle cx="62.9" cy="855.4" r="2.1" stroke="#000" stroke-width="1.4" fill="#fff"/>
<rect x="66" y="874.5" width="29" height="1.6" rx="0" stroke="none" stroke-width="0" fill="#8f8f8f"/>
<rect x="62.9" y="875.75" width="32.9" height="2.7" rx="1.35" stroke="#666" stroke-width="0.8" fill="#fff"/>
<line x1="72.2" y1="875.9" x2="72.2" y2="878.3" stroke="#1a1a1a" stroke-width="1.3" />
<circle cx="41.7" cy="877.1" r="2.1" stroke="#000" stroke-width="1.4" fill="#fff"/>
<circle cx="62.9" cy="877.1" r="2.1" stroke="#000" stroke-width="1.4" fill="#fff"/>
<rect x="68.75" y="864.65" width="38.85" height="3.2" rx="1.6" stroke="#333" stroke-width="0.9" fill="#fff"/>
<line x1="71.3" y1="864.95" x2="71.3" y2="867.55" stroke="#333" stroke-width="0.8" />
<rect x="199.2" y="852.8" width="29" height="1.6" rx="0" stroke="none" stroke-width="0" fill="#8f8f8f"/>
<rect x="198.4" y="854.05" width="32.9" height="2.7" rx="1.35" stroke="#666" stroke-width="0.8" fill="#fff"/>
<line x1="222" y1="854.2" x2="222" y2="856.6" stroke="#1a1a1a" stroke-width="1.3" />
<circle cx="252.5" cy="855.4" r="2.1" stroke="#000" stroke-width="1.4" fill="#fff"/>
<circle cx="231.3" cy="855.4" r="2.1" stroke="#000" stroke-width="1.4" fill="#fff"/>
<rect x="199.2" y="874.5" width="29" height="1.6" rx="0" stroke="none" stroke-width="0" fill="#8f8f8f"/>
<rect x="198.4" y="875.75" width="32.9" height="2.7" rx="1.35" stroke="#666" stroke-width="0.8" fill="#fff"/>
<line x1="222" y1="875.9" x2="222" y2="878.3" stroke="#1a1a1a" stroke-width="1.3" />
<circle cx="252.5" cy="877.1" r="2.1" stroke="#000" stroke-width="1.4" fill="#fff"/>
<circle cx="231.3" cy="877.1" r="2.1" stroke="#000" stroke-width="1.4" fill="#fff"/>
<rect x="186.6" y="864.65" width="38.85" height="3.2" rx="1.6" stroke="#333" stroke-width="0.9" fill="#fff"/>
<line x1="222.9" y1="864.95" x2="222.9" y2="867.55" stroke="#333" stroke-width="0.8" />
<rect x="35.9" y="924" width="222.4" height="28.6" rx="0" stroke="none" stroke-width="0" fill="#fff"/>
<line x1="35.9" y1="924" x2="258.3" y2="924" stroke="#666" stroke-width="0.9" />
<line x1="35.9" y1="952.6" x2="258.3" y2="952.6" stroke="#666" stroke-width="0.9" />
<line x1="35.9" y1="931.3" x2="258.3" y2="931.3" stroke="#1a1a1a" stroke-width="1.7" />
<line x1="35.9" y1="945.5" x2="258.3" y2="945.5" stroke="#1a1a1a" stroke-width="1.7" />
<rect x="66" y="924.9" width="29" height="1.6" rx="0" stroke="none" stroke-width="0" fill="#8f8f8f"/>
<rect x="62.9" y="926.15" width="32.9" height="2.7" rx="1.35" stroke="#666" stroke-width="0.8" fill="#fff"/>
<line x1="72.2" y1="926.3" x2="72.2" y2="928.7" stroke="#1a1a1a" stroke-width="1.3" />
<circle cx="41.7" cy="927.5" r="2.1" stroke="#000" stroke-width="1.4" fill="#fff"/>
<circle cx="62.9" cy="927.5" r="2.1" stroke="#000" stroke-width="1.4" fill="#fff"/>
<rect x="66" y="946.7" width="29" height="1.6" rx="0" stroke="none" stroke-width="0" fill="#8f8f8f"/>
<rect x="62.9" y="947.95" width="32.9" height="2.7" rx="1.35" stroke="#666" stroke-width="0.8" fill="#fff"/>
<line x1="72.2" y1="948.1" x2="72.2" y2="950.5" stroke="#1a1a1a" stroke-width="1.3" />
<circle cx="41.7" cy="949.3" r="2.1" stroke="#000" stroke-width="1.4" fill="#fff"/>
<circle cx="62.9" cy="949.3" r="2.1" stroke="#000" stroke-width="1.4" fill="#fff"/>
<rect x="68.75" y="936.8" width="38.85" height="3.2" rx="1.6" stroke="#333" stroke-width="0.9" fill="#fff"/>
<line x1="71.3" y1="937.1" x2="71.3" y2="939.7" stroke="#333" stroke-width="0.8" />
<rect x="199.2" y="924.9" width="29" height="1.6" rx="0" stroke="none" stroke-width="0" fill="#8f8f8f"/>
<rect x="198.4" y="926.15" width="32.9" height="2.7" rx="1.35" stroke="#666" stroke-width="0.8" fill="#fff"/>
<line x1="222" y1="926.3" x2="222" y2="928.7" stroke="#1a1a1a" stroke-width="1.3" />
<circle cx="252.5" cy="927.5" r="2.1" stroke="#000" stroke-width="1.4" fill="#fff"/>
<circle cx="231.3" cy="927.5" r="2.1" stroke="#000" stroke-width="1.4" fill="#fff"/>
<rect x="199.2" y="946.7" width="29" height="1.6" rx="0" stroke="none" stroke-width="0" fill="#8f8f8f"/>
<rect x="198.4" y="947.95" width="32.9" height="2.7" rx="1.35" stroke="#666" stroke-width="0.8" fill="#fff"/>
<line x1="222" y1="948.1" x2="222" y2="950.5" stroke="#1a1a1a" stroke-width="1.3" />
<circle cx="252.5" cy="949.3" r="2.1" stroke="#000" stroke-width="1.4" fill="#fff"/>
<circle cx="231.3" cy="949.3" r="2.1" stroke="#000" stroke-width="1.4" fill="#fff"/>
<rect x="186.6" y="936.8" width="38.85" height="3.2" rx="1.6" stroke="#333" stroke-width="0.9" fill="#fff"/>
<line x1="222.9" y1="937.1" x2="222.9" y2="939.7" stroke="#333" stroke-width="0.8" />
<line x1="35.9" y1="846.8" x2="35.9" y2="962" stroke="#000" stroke-width="2.0" />
<line x1="258.3" y1="846.8" x2="258.3" y2="962" stroke="#000" stroke-width="2.0" />
<path d="M714.4,847.0L714.4,770.2L732.4,770.2L732.4,847.0" stroke="#111" stroke-width="1.6" fill="none" />
<line x1="714.4" y1="792.2" x2="732.4" y2="792.2" stroke="#333" stroke-width="0.8" />
<ellipse cx="714.4" cy="774.7" rx="3.3" ry="2.3" fill="#2a2a2a"/>
<ellipse cx="714.4" cy="774.7" rx="0.9" ry="1.1" fill="#999"/>
<line x1="714.4" y1="831.5" x2="714.4" y2="836.8" stroke="#1a1a1a" stroke-width="2.6" />
<line x1="714.4" y1="844.5" x2="714.4" y2="847" stroke="#1a1a1a" stroke-width="2.6" />
<ellipse cx="732.4" cy="774.7" rx="3.3" ry="2.3" fill="#2a2a2a"/>
<ellipse cx="732.4" cy="774.7" rx="0.9" ry="1.1" fill="#999"/>
<line x1="732.4" y1="831.5" x2="732.4" y2="836.8" stroke="#1a1a1a" stroke-width="2.6" />
<line x1="732.4" y1="844.5" x2="732.4" y2="847" stroke="#1a1a1a" stroke-width="2.6" />
<circle cx="718.7" cy="788.3" r="1.8" stroke="#1a1a1a" stroke-width="1.2" fill="none"/>
<circle cx="728" cy="788.3" r="1.8" stroke="#1a1a1a" stroke-width="1.2" fill="none"/>
<line x1="715.5" y1="852.7" x2="715.5" y2="857" stroke="#1a1a1a" stroke-width="1.5" />
<line x1="715.5" y1="881.2" x2="715.5" y2="966.4" stroke="#111" stroke-width="1.7" />
<line x1="731.3" y1="852.7" x2="731.3" y2="857" stroke="#1a1a1a" stroke-width="1.5" />
<line x1="731.3" y1="881.2" x2="731.3" y2="966.4" stroke="#111" stroke-width="1.7" />
<line x1="702.9" y1="881.2" x2="702.9" y2="931" stroke="#888" stroke-width="0.9" />
<line x1="703.3" y1="854.3" x2="715" y2="854.3" stroke="#666" stroke-width="0.8" />
<line x1="703.3" y1="852.7" x2="703.3" y2="857" stroke="#666" stroke-width="0.8" />
<path d="M703.2,955.1L703.2,963L695.4,963" stroke="#555" stroke-width="0.9" fill="none" />
<line x1="693.8" y1="964.3" x2="715" y2="964.3" stroke="#555" stroke-width="0.8" />
<rect x="699.3" y="876" width="2.6" height="20.7" rx="1.3" stroke="#555" stroke-width="0.8" fill="#fff"/>
<rect x="699.3" y="916.7" width="2.6" height="19.3" rx="1.3" stroke="#555" stroke-width="0.8" fill="#fff"/>
<rect x="722" y="876" width="2.6" height="20.7" rx="1.3" stroke="#555" stroke-width="0.8" fill="#fff"/>
<rect x="722" y="916.7" width="2.6" height="19.3" rx="1.3" stroke="#555" stroke-width="0.8" fill="#fff"/>
<path d="M891.2,847.0L891.2,770.2L909.2,770.2L909.2,847.0" stroke="#111" stroke-width="1.6" fill="none" />
<line x1="891.2" y1="792.2" x2="909.2" y2="792.2" stroke="#333" stroke-width="0.8" />
<ellipse cx="891.2" cy="774.7" rx="3.3" ry="2.3" fill="#2a2a2a"/>
<ellipse cx="891.2" cy="774.7" rx="0.9" ry="1.1" fill="#999"/>
<line x1="891.2" y1="831.5" x2="891.2" y2="836.8" stroke="#1a1a1a" stroke-width="2.6" />
<line x1="891.2" y1="844.5" x2="891.2" y2="847" stroke="#1a1a1a" stroke-width="2.6" />
<ellipse cx="909.2" cy="774.7" rx="3.3" ry="2.3" fill="#2a2a2a"/>
<ellipse cx="909.2" cy="774.7" rx="0.9" ry="1.1" fill="#999"/>
<line x1="909.2" y1="831.5" x2="909.2" y2="836.8" stroke="#1a1a1a" stroke-width="2.6" />
<line x1="909.2" y1="844.5" x2="909.2" y2="847" stroke="#1a1a1a" stroke-width="2.6" />
<circle cx="904.9" cy="788.3" r="1.8" stroke="#1a1a1a" stroke-width="1.2" fill="none"/>
<circle cx="895.6" cy="788.3" r="1.8" stroke="#1a1a1a" stroke-width="1.2" fill="none"/>
<line x1="908.1" y1="852.7" x2="908.1" y2="857" stroke="#1a1a1a" stroke-width="1.5" />
<line x1="908.1" y1="881.2" x2="908.1" y2="966.4" stroke="#111" stroke-width="1.7" />
<line x1="892.3" y1="852.7" x2="892.3" y2="857" stroke="#1a1a1a" stroke-width="1.5" />
<line x1="892.3" y1="881.2" x2="892.3" y2="966.4" stroke="#111" stroke-width="1.7" />
<line x1="920.7" y1="881.2" x2="920.7" y2="931" stroke="#888" stroke-width="0.9" />
<line x1="908.6" y1="854.3" x2="920.3" y2="854.3" stroke="#666" stroke-width="0.8" />
<line x1="920.3" y1="852.7" x2="920.3" y2="857" stroke="#666" stroke-width="0.8" />
<path d="M920.4,955.1L920.4,963L928.2,963" stroke="#555" stroke-width="0.9" fill="none" />
<line x1="929.8" y1="964.3" x2="908.6" y2="964.3" stroke="#555" stroke-width="0.8" />
<rect x="921.7" y="876" width="2.6" height="20.7" rx="1.3" stroke="#555" stroke-width="0.8" fill="#fff"/>
<rect x="921.7" y="916.7" width="2.6" height="19.3" rx="1.3" stroke="#555" stroke-width="0.8" fill="#fff"/>
<rect x="899" y="876" width="2.6" height="20.7" rx="1.3" stroke="#555" stroke-width="0.8" fill="#fff"/>
<rect x="899" y="916.7" width="2.6" height="19.3" rx="1.3" stroke="#555" stroke-width="0.8" fill="#fff"/>
<rect x="687.7" y="847" width="248.2" height="125.5" rx="0" stroke="#1a1a1a" stroke-width="1.2" fill="none"/>
<line x1="691" y1="845.8" x2="694" y2="845.8" stroke="#333" stroke-width="1.3" />
<line x1="932.6" y1="845.8" x2="929.6" y2="845.8" stroke="#333" stroke-width="1.3" />
<rect x="693.8" y="847" width="236" height="5.7" rx="0" stroke="#1a1a1a" stroke-width="1.0" fill="#fff"/>
<line x1="687.7" y1="847" x2="935.9" y2="847" stroke="#1a1a1a" stroke-width="1.4" />
<rect x="687.7" y="966.4" width="248.2" height="6.1" rx="0" stroke="#1a1a1a" stroke-width="1.0" fill="#fff"/>
<line x1="687.7" y1="972.5" x2="935.9" y2="972.5" stroke="#1a1a1a" stroke-width="1.4" />
<line x1="693.8" y1="847" x2="693.8" y2="966.4" stroke="#1a1a1a" stroke-width="1.0" />
<line x1="929.8" y1="847" x2="929.8" y2="966.4" stroke="#1a1a1a" stroke-width="1.0" />
<rect x="695.5" y="856.8" width="232.6" height="24.45" rx="0" stroke="none" stroke-width="0" fill="#fff"/>
<line x1="695.5" y1="856.8" x2="928.1" y2="856.8" stroke="#777" stroke-width="0.9" />
<line x1="695.5" y1="881.25" x2="928.1" y2="881.25" stroke="#777" stroke-width="0.9" />
<line x1="695.5" y1="863.5" x2="928.1" y2="863.5" stroke="#1a1a1a" stroke-width="1.5" />
<line x1="695.5" y1="875.7" x2="928.1" y2="875.7" stroke="#1a1a1a" stroke-width="1.5" />
<rect x="726" y="856.8" width="34" height="6.7" rx="0" stroke="none" stroke-width="0" fill="#909090"/>
<rect x="723.3" y="858.55" width="37.5" height="2.5" rx="1.25" stroke="#888" stroke-width="0.7" fill="#fff"/>
<line x1="731.3" y1="858.7" x2="731.3" y2="860.9" stroke="#1a1a1a" stroke-width="1.3" />
<circle cx="700.6" cy="859.8" r="2.0" stroke="#000" stroke-width="1.3" fill="#fff"/>
<circle cx="723.3" cy="859.8" r="2.0" stroke="#000" stroke-width="1.3" fill="#fff"/>
<rect x="726" y="879.2" width="34" height="2.35" rx="0" stroke="none" stroke-width="0" fill="#909090"/>
<rect x="723.3" y="877.35" width="37.5" height="2.5" rx="1.25" stroke="#888" stroke-width="0.7" fill="#fff"/>
<line x1="731.3" y1="877.5" x2="731.3" y2="879.7" stroke="#1a1a1a" stroke-width="1.3" />
<circle cx="700.6" cy="878.6" r="2.0" stroke="#000" stroke-width="1.3" fill="#fff"/>
<circle cx="723.3" cy="878.6" r="2.0" stroke="#000" stroke-width="1.3" fill="#fff"/>
<rect x="863.6" y="856.8" width="34" height="6.7" rx="0" stroke="none" stroke-width="0" fill="#909090"/>
<rect x="862.8" y="858.55" width="37.5" height="2.5" rx="1.25" stroke="#888" stroke-width="0.7" fill="#fff"/>
<line x1="892.3" y1="858.7" x2="892.3" y2="860.9" stroke="#1a1a1a" stroke-width="1.3" />
<circle cx="923" cy="859.8" r="2.0" stroke="#000" stroke-width="1.3" fill="#fff"/>
<circle cx="900.3" cy="859.8" r="2.0" stroke="#000" stroke-width="1.3" fill="#fff"/>
<rect x="863.6" y="879.2" width="34" height="2.35" rx="0" stroke="none" stroke-width="0" fill="#909090"/>
<rect x="862.8" y="877.35" width="37.5" height="2.5" rx="1.25" stroke="#888" stroke-width="0.7" fill="#fff"/>
<line x1="892.3" y1="877.5" x2="892.3" y2="879.7" stroke="#1a1a1a" stroke-width="1.3" />
<circle cx="923" cy="878.6" r="2.0" stroke="#000" stroke-width="1.3" fill="#fff"/>
<circle cx="900.3" cy="878.6" r="2.0" stroke="#000" stroke-width="1.3" fill="#fff"/>
<rect x="740.4" y="867.65" width="31.2" height="3.1" rx="1.55" stroke="#555" stroke-width="0.9" fill="#fff"/>
<rect x="796" y="867.65" width="31.7" height="3.1" rx="1.55" stroke="#555" stroke-width="0.9" fill="#fff"/>
<rect x="852" y="867.65" width="31.2" height="3.1" rx="1.55" stroke="#555" stroke-width="0.9" fill="#fff"/>
<rect x="695.5" y="930.7" width="232.6" height="24.45" rx="0" stroke="none" stroke-width="0" fill="#fff"/>
<line x1="695.5" y1="930.7" x2="928.1" y2="930.7" stroke="#777" stroke-width="0.9" />
<line x1="695.5" y1="955.15" x2="928.1" y2="955.15" stroke="#777" stroke-width="0.9" />
<line x1="695.5" y1="937.4" x2="928.1" y2="937.4" stroke="#1a1a1a" stroke-width="1.5" />
<line x1="695.5" y1="949.6" x2="928.1" y2="949.6" stroke="#1a1a1a" stroke-width="1.5" />
<rect x="726" y="930.7" width="34" height="6.7" rx="0" stroke="none" stroke-width="0" fill="#909090"/>
<rect x="723.3" y="932.45" width="37.5" height="2.5" rx="1.25" stroke="#888" stroke-width="0.7" fill="#fff"/>
<line x1="731.3" y1="932.6" x2="731.3" y2="934.8" stroke="#1a1a1a" stroke-width="1.3" />
<circle cx="700.6" cy="933.7" r="2.0" stroke="#000" stroke-width="1.3" fill="#fff"/>
<circle cx="723.3" cy="933.7" r="2.0" stroke="#000" stroke-width="1.3" fill="#fff"/>
<rect x="726" y="953.1" width="34" height="2.35" rx="0" stroke="none" stroke-width="0" fill="#909090"/>
<rect x="723.3" y="951.25" width="37.5" height="2.5" rx="1.25" stroke="#888" stroke-width="0.7" fill="#fff"/>
<line x1="731.3" y1="951.4" x2="731.3" y2="953.6" stroke="#1a1a1a" stroke-width="1.3" />
<circle cx="700.6" cy="952.5" r="2.0" stroke="#000" stroke-width="1.3" fill="#fff"/>
<circle cx="723.3" cy="952.5" r="2.0" stroke="#000" stroke-width="1.3" fill="#fff"/>
<rect x="863.6" y="930.7" width="34" height="6.7" rx="0" stroke="none" stroke-width="0" fill="#909090"/>
<rect x="862.8" y="932.45" width="37.5" height="2.5" rx="1.25" stroke="#888" stroke-width="0.7" fill="#fff"/>
<line x1="892.3" y1="932.6" x2="892.3" y2="934.8" stroke="#1a1a1a" stroke-width="1.3" />
<circle cx="923" cy="933.7" r="2.0" stroke="#000" stroke-width="1.3" fill="#fff"/>
<circle cx="900.3" cy="933.7" r="2.0" stroke="#000" stroke-width="1.3" fill="#fff"/>
<rect x="863.6" y="953.1" width="34" height="2.35" rx="0" stroke="none" stroke-width="0" fill="#909090"/>
<rect x="862.8" y="951.25" width="37.5" height="2.5" rx="1.25" stroke="#888" stroke-width="0.7" fill="#fff"/>
<line x1="892.3" y1="951.4" x2="892.3" y2="953.6" stroke="#1a1a1a" stroke-width="1.3" />
<circle cx="923" cy="952.5" r="2.0" stroke="#000" stroke-width="1.3" fill="#fff"/>
<circle cx="900.3" cy="952.5" r="2.0" stroke="#000" stroke-width="1.3" fill="#fff"/>
<rect x="740.4" y="941.55" width="31.2" height="3.1" rx="1.55" stroke="#555" stroke-width="0.9" fill="#fff"/>
<rect x="796" y="941.55" width="31.7" height="3.1" rx="1.55" stroke="#555" stroke-width="0.9" fill="#fff"/>
<rect x="852" y="941.55" width="31.2" height="3.1" rx="1.55" stroke="#555" stroke-width="0.9" fill="#fff"/>
<line x1="695.5" y1="852.7" x2="695.5" y2="963" stroke="#000" stroke-width="2.0" />
<line x1="928.1" y1="852.7" x2="928.1" y2="963" stroke="#000" stroke-width="2.0" />
</svg>
</body></html>
